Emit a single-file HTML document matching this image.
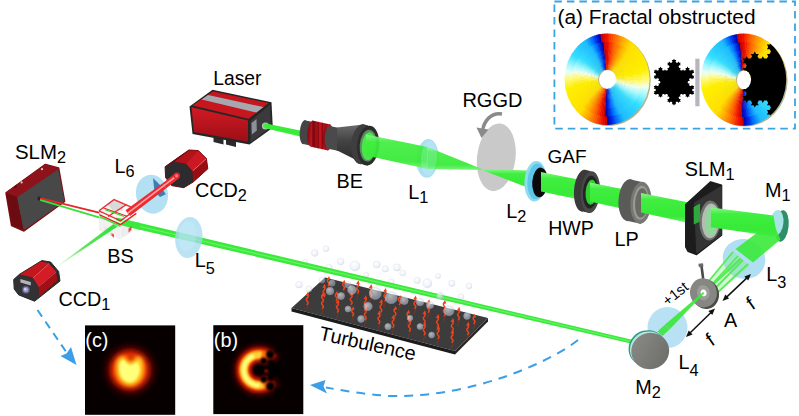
<!DOCTYPE html>
<html><head><meta charset="utf-8"><title>Setup</title>
<style>html,body{margin:0;padding:0;background:#fff}svg{display:block}</style></head><body>
<svg width="799" height="416" viewBox="0 0 799 416" font-family="'Liberation Sans', Arial, sans-serif">
<rect width="799" height="416" fill="#fff"/>
<defs>
<linearGradient id="gBeamW" x1="0" y1="0" x2="0" y2="1">
 <stop offset="0" stop-color="#88f788"/><stop offset="0.22" stop-color="#40ee40"/><stop offset="0.78" stop-color="#36ea36"/><stop offset="1" stop-color="#74f474"/>
</linearGradient>
<linearGradient id="gRed" x1="0" y1="0" x2="0" y2="1"><stop offset="0" stop-color="#d21a24"/><stop offset="1" stop-color="#9c0e16"/></linearGradient>
<linearGradient id="gRedH" x1="0" y1="0" x2="1" y2="0"><stop offset="0" stop-color="#7c0a10"/><stop offset="0.5" stop-color="#c8141e"/><stop offset="1" stop-color="#8c0c12"/></linearGradient>
<linearGradient id="gDark" x1="0" y1="0" x2="0" y2="1"><stop offset="0" stop-color="#6a6a6a"/><stop offset="0.4" stop-color="#444"/><stop offset="1" stop-color="#262626"/></linearGradient>
<linearGradient id="gGrey" x1="0" y1="0" x2="1" y2="1"><stop offset="0" stop-color="#8c8c88"/><stop offset="1" stop-color="#6a6a66"/></linearGradient>
<radialGradient id="gBub" cx="0.4" cy="0.35" r="0.7"><stop offset="0" stop-color="#ffffff" stop-opacity="0.9"/><stop offset="0.6" stop-color="#dfe6f2" stop-opacity="0.75"/><stop offset="1" stop-color="#9fb0cc" stop-opacity="0.85"/></radialGradient>
<radialGradient id="gLens" cx="0.5" cy="0.5" r="0.6"><stop offset="0" stop-color="#bfe6f6"/><stop offset="1" stop-color="#9fd4ee"/></radialGradient>
<filter id="b1" x="-50%" y="-50%" width="200%" height="200%"><feGaussianBlur stdDeviation="1"/></filter>
<filter id="b2" x="-50%" y="-50%" width="200%" height="200%"><feGaussianBlur stdDeviation="2"/></filter>
<filter id="b3" x="-50%" y="-50%" width="200%" height="200%"><feGaussianBlur stdDeviation="3.2"/></filter>
<filter id="b5" x="-50%" y="-50%" width="200%" height="200%"><feGaussianBlur stdDeviation="5"/></filter>
<filter id="b05" x="-20%" y="-20%" width="140%" height="140%"><feGaussianBlur stdDeviation="0.5"/></filter>
</defs>
<rect x="554.4" y="1.5" width="240.6" height="127.2" fill="none" stroke="#3aa4e0" stroke-width="1.8" stroke-dasharray="7.5 5"/>
<text x="557.5" y="24.2" font-size="20.5" textLength="198" lengthAdjust="spacingAndGlyphs" fill="#000">(a) Fractal obstructed</text>
<path d="M565.8,80.2 a42.5,45.7 0 1,0 85.0,0 a42.5,45.7 0 1,0 -85.0,0 Z M599,79.8 a9,9.7 0 1,1 18,0 a9,9.7 0 1,1 -18,0 Z" fill-rule="evenodd" fill="#8a8040" opacity="0.6"/>
<clipPath id="dcL"><path d="M564.5,79.2 a42.5,45.7 0 1,0 85.0,0 a42.5,45.7 0 1,0 -85.0,0 Z M598,79.2 a9,9.7 0 1,1 18,0 a9,9.7 0 1,1 -18,0 Z" clip-rule="evenodd"/></clipPath>
<g clip-path="url(#dcL)">
<path d="M607.0,79.2L607.0,79.2L608.0,63.7L607.0,63.7Z" fill="#f11600"/>
<path d="M607.0,79.2L607.0,79.2L608.7,63.8L607.8,63.7Z" fill="#f52b00"/>
<path d="M607.0,79.2L607.0,79.2L609.5,63.9L608.5,63.7Z" fill="#f94100"/>
<path d="M607.0,79.2L607.0,79.2L610.2,64.0L609.3,63.9Z" fill="#fd5600"/>
<path d="M607.0,79.2L607.0,79.2L610.9,64.2L610.0,64.0Z" fill="#ff6800"/>
<path d="M607.0,79.2L607.0,79.2L611.7,64.5L610.7,64.2Z" fill="#ff7900"/>
<path d="M607.0,79.2L607.0,79.2L612.4,64.8L611.5,64.4Z" fill="#ff8900"/>
<path d="M607.0,79.2L607.0,79.2L613.1,65.1L612.2,64.7Z" fill="#ff9900"/>
<path d="M607.0,79.2L607.0,79.2L613.7,65.5L612.9,65.0Z" fill="#ffa900"/>
<path d="M607.0,79.2L607.0,79.2L614.4,65.9L613.6,65.4Z" fill="#ffb600"/>
<path d="M607.0,79.2L607.0,79.2L615.0,66.3L614.2,65.7Z" fill="#ffc300"/>
<path d="M607.0,79.2L607.0,79.2L615.7,66.8L614.9,66.2Z" fill="#ffcf00"/>
<path d="M607.0,79.2L607.0,79.2L616.2,67.3L615.5,66.6Z" fill="#ffdc00"/>
<path d="M607.0,79.2L607.0,79.2L616.8,67.8L616.1,67.1Z" fill="#ffe100"/>
<path d="M607.0,79.2L607.0,79.2L617.4,68.4L616.7,67.7Z" fill="#ffe200"/>
<path d="M607.0,79.2L607.0,79.2L617.9,69.0L617.2,68.2Z" fill="#ffe300"/>
<path d="M607.0,79.2L607.0,79.2L618.4,69.6L617.7,68.8Z" fill="#ffe400"/>
<path d="M607.0,79.2L607.0,79.2L618.8,70.2L618.2,69.4Z" fill="#ffe600"/>
<path d="M607.0,79.2L607.0,79.2L619.2,70.9L618.7,70.1Z" fill="#ffe700"/>
<path d="M607.0,79.2L607.0,79.2L619.6,71.6L619.1,70.7Z" fill="#ffe800"/>
<path d="M607.0,79.2L607.0,79.2L620.0,72.3L619.5,71.4Z" fill="#ffe900"/>
<path d="M607.0,79.2L607.0,79.2L620.3,73.1L619.9,72.1Z" fill="#ffeb00"/>
<path d="M607.0,79.2L607.0,79.2L620.6,73.8L620.2,72.9Z" fill="#ffec00"/>
<path d="M607.0,79.2L607.0,79.2L620.8,74.6L620.5,73.6Z" fill="#ffed00"/>
<path d="M607.0,79.2L607.0,79.2L621.0,75.4L620.7,74.4Z" fill="#ffee00"/>
<path d="M607.0,79.2L607.0,79.2L621.2,76.2L621.0,75.2Z" fill="#ffef00"/>
<path d="M607.0,79.2L607.0,79.2L621.3,77.0L621.1,76.0Z" fill="#fff10c"/>
<path d="M607.0,79.2L607.0,79.2L621.4,77.8L621.3,76.8Z" fill="#fff325"/>
<path d="M607.0,79.2L607.0,79.2L621.4,78.6L621.4,77.6Z" fill="#fff53f"/>
<path d="M607.0,79.2L607.0,79.2L621.4,79.4L621.4,78.4Z" fill="#fff758"/>
<path d="M607.0,79.2L607.0,79.2L621.4,80.2L621.5,79.2Z" fill="#fff971"/>
<path d="M607.0,79.2L607.0,79.2L621.3,81.0L621.4,80.0Z" fill="#fdfb8f"/>
<path d="M607.0,79.2L607.0,79.2L621.2,81.8L621.4,80.8Z" fill="#f8fcb3"/>
<path d="M607.0,79.2L607.0,79.2L621.1,82.6L621.3,81.6Z" fill="#f3fed6"/>
<path d="M607.0,79.2L607.0,79.2L620.9,83.4L621.1,82.4Z" fill="#eafef1"/>
<path d="M607.0,79.2L607.0,79.2L620.7,84.2L621.0,83.2Z" fill="#d5fdf5"/>
<path d="M607.0,79.2L607.0,79.2L620.4,85.0L620.7,84.0Z" fill="#c0fbf9"/>
<path d="M607.0,79.2L607.0,79.2L620.1,85.7L620.5,84.8Z" fill="#abf9fd"/>
<path d="M607.0,79.2L607.0,79.2L619.8,86.4L620.2,85.5Z" fill="#95f5ff"/>
<path d="M607.0,79.2L607.0,79.2L619.4,87.2L619.9,86.3Z" fill="#80f0ff"/>
<path d="M607.0,79.2L607.0,79.2L619.0,87.8L619.5,87.0Z" fill="#6aebff"/>
<path d="M607.0,79.2L607.0,79.2L618.6,88.5L619.1,87.7Z" fill="#55e6ff"/>
<path d="M607.0,79.2L607.0,79.2L618.1,89.1L618.7,88.3Z" fill="#40e1ff"/>
<path d="M607.0,79.2L607.0,79.2L617.6,89.8L618.2,89.0Z" fill="#33dcff"/>
<path d="M607.0,79.2L607.0,79.2L617.1,90.3L617.7,89.6Z" fill="#30d9ff"/>
<path d="M607.0,79.2L607.0,79.2L616.5,90.9L617.2,90.2Z" fill="#2ed5ff"/>
<path d="M607.0,79.2L607.0,79.2L615.9,91.4L616.7,90.7Z" fill="#2bd2ff"/>
<path d="M607.0,79.2L607.0,79.2L615.3,91.9L616.1,91.3Z" fill="#29ceff"/>
<path d="M607.0,79.2L607.0,79.2L614.7,92.3L615.5,91.8Z" fill="#26caff"/>
<path d="M607.0,79.2L607.0,79.2L614.0,92.8L614.9,92.2Z" fill="#24c7ff"/>
<path d="M607.0,79.2L607.0,79.2L613.4,93.1L614.2,92.7Z" fill="#21c3ff"/>
<path d="M607.0,79.2L607.0,79.2L612.7,93.5L613.6,93.0Z" fill="#1fc0ff"/>
<path d="M607.0,79.2L607.0,79.2L612.0,93.8L612.9,93.4Z" fill="#1cbcff"/>
<path d="M607.0,79.2L607.0,79.2L611.3,94.0L612.2,93.7Z" fill="#14a6ff"/>
<path d="M607.0,79.2L607.0,79.2L610.5,94.3L611.5,94.0Z" fill="#0c90ff"/>
<path d="M607.0,79.2L607.0,79.2L609.8,94.4L610.7,94.2Z" fill="#047aff"/>
<path d="M607.0,79.2L607.0,79.2L609.1,94.6L610.0,94.4Z" fill="#005ff8"/>
<path d="M607.0,79.2L607.0,79.2L608.3,94.7L609.3,94.5Z" fill="#003fec"/>
<path d="M607.0,79.2L607.0,79.2L607.6,94.7L608.5,94.7Z" fill="#0020df"/>
<path d="M607.0,79.2L607.0,79.2L606.8,94.7L607.8,94.7Z" fill="#0011c2"/>
<path d="M607.0,79.2L607.0,79.2L606.0,94.7L607.0,94.7Z" fill="#0003a5"/>
<path d="M607.0,79.2L607.0,79.2L605.3,94.6L606.2,94.7Z" fill="#d10600"/>
<path d="M607.0,79.2L607.0,79.2L604.5,94.5L605.5,94.7Z" fill="#e60d00"/>
<path d="M607.0,79.2L607.0,79.2L603.8,94.4L604.7,94.5Z" fill="#f21d00"/>
<path d="M607.0,79.2L607.0,79.2L603.1,94.2L604.0,94.4Z" fill="#f73400"/>
<path d="M607.0,79.2L607.0,79.2L602.3,93.9L603.3,94.2Z" fill="#fb4b00"/>
<path d="M607.0,79.2L607.0,79.2L601.6,93.6L602.5,94.0Z" fill="#ff6200"/>
<path d="M607.0,79.2L607.0,79.2L600.9,93.3L601.8,93.7Z" fill="#ff7400"/>
<path d="M607.0,79.2L607.0,79.2L600.3,92.9L601.1,93.4Z" fill="#ff8600"/>
<path d="M607.0,79.2L607.0,79.2L599.6,92.5L600.4,93.0Z" fill="#ff9800"/>
<path d="M607.0,79.2L607.0,79.2L599.0,92.1L599.8,92.7Z" fill="#ffaa00"/>
<path d="M607.0,79.2L607.0,79.2L598.3,91.6L599.1,92.2Z" fill="#ffb800"/>
<path d="M607.0,79.2L607.0,79.2L597.8,91.1L598.5,91.8Z" fill="#ffc600"/>
<path d="M607.0,79.2L607.0,79.2L597.2,90.6L597.9,91.3Z" fill="#ffd400"/>
<path d="M607.0,79.2L607.0,79.2L596.6,90.0L597.3,90.7Z" fill="#ffe000"/>
<path d="M607.0,79.2L607.0,79.2L596.1,89.4L596.8,90.2Z" fill="#ffe200"/>
<path d="M607.0,79.2L607.0,79.2L595.6,88.8L596.3,89.6Z" fill="#ffe300"/>
<path d="M607.0,79.2L607.0,79.2L595.2,88.2L595.8,89.0Z" fill="#ffe400"/>
<path d="M607.0,79.2L607.0,79.2L594.8,87.5L595.3,88.3Z" fill="#ffe600"/>
<path d="M607.0,79.2L607.0,79.2L594.4,86.8L594.9,87.7Z" fill="#ffe700"/>
<path d="M607.0,79.2L607.0,79.2L594.0,86.1L594.5,87.0Z" fill="#ffe800"/>
<path d="M607.0,79.2L607.0,79.2L593.7,85.3L594.1,86.3Z" fill="#ffea00"/>
<path d="M607.0,79.2L607.0,79.2L593.4,84.6L593.8,85.5Z" fill="#ffeb00"/>
<path d="M607.0,79.2L607.0,79.2L593.2,83.8L593.5,84.8Z" fill="#ffec00"/>
<path d="M607.0,79.2L607.0,79.2L593.0,83.0L593.3,84.0Z" fill="#ffee00"/>
<path d="M607.0,79.2L607.0,79.2L592.8,82.2L593.0,83.2Z" fill="#ffef00"/>
<path d="M607.0,79.2L607.0,79.2L592.7,81.4L592.9,82.4Z" fill="#fff005"/>
<path d="M607.0,79.2L607.0,79.2L592.6,80.6L592.7,81.6Z" fill="#fff321"/>
<path d="M607.0,79.2L607.0,79.2L592.6,79.8L592.6,80.8Z" fill="#fff53d"/>
<path d="M607.0,79.2L607.0,79.2L592.6,79.0L592.6,80.0Z" fill="#fff759"/>
<path d="M607.0,79.2L607.0,79.2L592.6,78.2L592.5,79.2Z" fill="#fff975"/>
<path d="M607.0,79.2L607.0,79.2L592.7,77.4L592.6,78.4Z" fill="#fcfb98"/>
<path d="M607.0,79.2L607.0,79.2L592.8,76.6L592.6,77.6Z" fill="#f7fdbf"/>
<path d="M607.0,79.2L607.0,79.2L592.9,75.8L592.7,76.8Z" fill="#f1ffe7"/>
<path d="M607.0,79.2L607.0,79.2L593.1,75.0L592.9,76.0Z" fill="#defdf3"/>
<path d="M607.0,79.2L607.0,79.2L593.3,74.2L593.0,75.2Z" fill="#c7fbf8"/>
<path d="M607.0,79.2L607.0,79.2L593.6,73.4L593.3,74.4Z" fill="#aff9fc"/>
<path d="M607.0,79.2L607.0,79.2L593.9,72.7L593.5,73.6Z" fill="#98f6ff"/>
<path d="M607.0,79.2L607.0,79.2L594.2,72.0L593.8,72.9Z" fill="#80f0ff"/>
<path d="M607.0,79.2L607.0,79.2L594.6,71.2L594.1,72.1Z" fill="#69ebff"/>
<path d="M607.0,79.2L607.0,79.2L595.0,70.6L594.5,71.4Z" fill="#51e5ff"/>
<path d="M607.0,79.2L607.0,79.2L595.4,69.9L594.9,70.7Z" fill="#39dfff"/>
<path d="M607.0,79.2L607.0,79.2L595.9,69.3L595.3,70.1Z" fill="#32dbff"/>
<path d="M607.0,79.2L607.0,79.2L596.4,68.6L595.8,69.4Z" fill="#2fd7ff"/>
<path d="M607.0,79.2L607.0,79.2L596.9,68.1L596.3,68.8Z" fill="#2cd3ff"/>
<path d="M607.0,79.2L607.0,79.2L597.5,67.5L596.8,68.2Z" fill="#29cfff"/>
<path d="M607.0,79.2L607.0,79.2L598.1,67.0L597.3,67.7Z" fill="#27cbff"/>
<path d="M607.0,79.2L607.0,79.2L598.7,66.5L597.9,67.1Z" fill="#24c7ff"/>
<path d="M607.0,79.2L607.0,79.2L599.3,66.1L598.5,66.6Z" fill="#21c3ff"/>
<path d="M607.0,79.2L607.0,79.2L600.0,65.6L599.1,66.2Z" fill="#1ebfff"/>
<path d="M607.0,79.2L607.0,79.2L600.6,65.3L599.8,65.7Z" fill="#1ab6ff"/>
<path d="M607.0,79.2L607.0,79.2L601.3,64.9L600.4,65.4Z" fill="#119eff"/>
<path d="M607.0,79.2L607.0,79.2L602.0,64.6L601.1,65.0Z" fill="#0886ff"/>
<path d="M607.0,79.2L607.0,79.2L602.7,64.4L601.8,64.7Z" fill="#006dfe"/>
<path d="M607.0,79.2L607.0,79.2L603.5,64.1L602.5,64.4Z" fill="#004af0"/>
<path d="M607.0,79.2L607.0,79.2L604.2,64.0L603.3,64.2Z" fill="#0027e3"/>
<path d="M607.0,79.2L607.0,79.2L604.9,63.8L604.0,64.0Z" fill="#0013c6"/>
<path d="M607.0,79.2L607.0,79.2L605.7,63.7L604.7,63.9Z" fill="#0003a6"/>
<path d="M607.0,79.2L607.0,79.2L606.4,63.7L605.5,63.7Z" fill="#d00500"/>
<path d="M607.0,79.2L607.0,79.2L607.2,63.7L606.2,63.7Z" fill="#e30c00"/>
<path d="M607.0,64.1L607.9,64.2L608.4,56.4L607.0,56.4Z" fill="#e70d00"/>
<path d="M607.7,64.1L608.7,64.2L609.5,56.5L608.1,56.4Z" fill="#f21b00"/>
<path d="M608.5,64.2L609.4,64.3L610.6,56.7L609.2,56.5Z" fill="#f63000"/>
<path d="M609.2,64.3L610.1,64.5L611.7,56.9L610.3,56.6Z" fill="#fa4600"/>
<path d="M609.9,64.5L610.8,64.7L612.8,57.2L611.4,56.8Z" fill="#fe5b00"/>
<path d="M610.6,64.6L611.5,64.9L613.8,57.6L612.5,57.1Z" fill="#ff6c00"/>
<path d="M611.3,64.9L612.2,65.2L614.9,58.0L613.6,57.5Z" fill="#ff7d00"/>
<path d="M612.0,65.1L612.9,65.5L615.9,58.5L614.6,57.9Z" fill="#ff8d00"/>
<path d="M612.7,65.4L613.5,65.9L616.9,59.0L615.6,58.3Z" fill="#ff9d00"/>
<path d="M613.4,65.8L614.2,66.3L617.9,59.6L616.6,58.8Z" fill="#ffac00"/>
<path d="M614.0,66.1L614.8,66.7L618.8,60.2L617.6,59.4Z" fill="#ffb900"/>
<path d="M614.6,66.6L615.4,67.1L619.7,60.9L618.6,60.0Z" fill="#ffc600"/>
<path d="M615.2,67.0L616.0,67.6L620.6,61.6L619.5,60.7Z" fill="#ffd200"/>
<path d="M615.8,67.5L616.5,68.1L621.4,62.4L620.4,61.4Z" fill="#ffdf00"/>
<path d="M616.4,68.0L617.0,68.7L622.2,63.3L621.2,62.2Z" fill="#ffe100"/>
<path d="M616.9,68.5L617.5,69.3L623.0,64.1L622.0,63.0Z" fill="#ffe200"/>
<path d="M617.4,69.1L618.0,69.9L623.7,65.1L622.8,63.9Z" fill="#ffe400"/>
<path d="M617.9,69.7L618.5,70.5L624.4,66.0L623.5,64.8Z" fill="#ffe500"/>
<path d="M618.3,70.3L618.9,71.2L625.0,67.0L624.2,65.8Z" fill="#ffe600"/>
<path d="M618.8,71.0L619.2,71.8L625.5,68.1L624.8,66.8Z" fill="#ffe700"/>
<path d="M619.1,71.7L619.6,72.5L626.1,69.1L625.4,67.8Z" fill="#ffe800"/>
<path d="M619.5,72.4L619.9,73.3L626.5,70.2L625.9,68.8Z" fill="#ffea00"/>
<path d="M619.8,73.1L620.2,74.0L626.9,71.3L626.4,69.9Z" fill="#ffeb00"/>
<path d="M620.1,73.8L620.4,74.7L627.3,72.4L626.8,71.0Z" fill="#ffec00"/>
<path d="M620.3,74.5L620.6,75.5L627.6,73.6L627.2,72.1Z" fill="#ffed00"/>
<path d="M620.5,75.3L620.7,76.3L627.8,74.8L627.5,73.3Z" fill="#ffee00"/>
<path d="M620.7,76.1L620.9,77.1L628.0,75.9L627.8,74.4Z" fill="#fff000"/>
<path d="M620.8,76.8L621.0,77.8L628.2,77.1L628.0,75.6Z" fill="#fff112"/>
<path d="M620.9,77.6L621.0,78.6L628.2,78.3L628.1,76.8Z" fill="#fff32b"/>
<path d="M621.0,78.4L621.0,79.4L628.2,79.5L628.2,78.0Z" fill="#fff545"/>
<path d="M621.0,79.2L621.0,80.2L628.2,80.7L628.2,79.2Z" fill="#fff75e"/>
<path d="M621.0,80.0L620.9,81.0L628.1,81.9L628.2,80.4Z" fill="#fff977"/>
<path d="M620.9,80.8L620.8,81.8L627.9,83.1L628.1,81.6Z" fill="#fcfb98"/>
<path d="M620.8,81.6L620.7,82.5L627.7,84.3L628.0,82.8Z" fill="#f7fdbb"/>
<path d="M620.7,82.3L620.5,83.3L627.4,85.4L627.8,84.0Z" fill="#f2fedf"/>
<path d="M620.5,83.1L620.3,84.1L627.1,86.6L627.5,85.1Z" fill="#e5fef2"/>
<path d="M620.3,83.9L620.0,84.8L626.7,87.7L627.2,86.3Z" fill="#d0fcf6"/>
<path d="M620.1,84.6L619.7,85.5L626.3,88.8L626.8,87.4Z" fill="#bbfafa"/>
<path d="M619.8,85.3L619.4,86.2L625.8,89.9L626.4,88.5Z" fill="#a6f8fe"/>
<path d="M619.5,86.0L619.0,86.9L625.3,90.9L625.9,89.6Z" fill="#90f4ff"/>
<path d="M619.1,86.7L618.6,87.6L624.7,91.9L625.4,90.6Z" fill="#7befff"/>
<path d="M618.8,87.4L618.2,88.2L624.0,92.9L624.8,91.6Z" fill="#65eaff"/>
<path d="M618.3,88.1L617.8,88.8L623.3,93.8L624.2,92.6Z" fill="#50e5ff"/>
<path d="M617.9,88.7L617.3,89.4L622.6,94.7L623.5,93.6Z" fill="#3be0ff"/>
<path d="M617.4,89.3L616.8,90.0L621.8,95.6L622.8,94.5Z" fill="#32dcff"/>
<path d="M616.9,89.9L616.2,90.5L621.0,96.4L622.0,95.4Z" fill="#30d8ff"/>
<path d="M616.4,90.4L615.7,91.0L620.1,97.2L621.2,96.2Z" fill="#2dd4ff"/>
<path d="M615.8,90.9L615.1,91.5L619.2,97.9L620.4,97.0Z" fill="#2bd1ff"/>
<path d="M615.2,91.4L614.5,92.0L618.3,98.5L619.5,97.7Z" fill="#28cdff"/>
<path d="M614.6,91.8L613.8,92.4L617.4,99.1L618.6,98.4Z" fill="#26caff"/>
<path d="M614.0,92.3L613.2,92.7L616.4,99.7L617.6,99.0Z" fill="#23c6ff"/>
<path d="M613.4,92.6L612.5,93.1L615.4,100.2L616.6,99.6Z" fill="#20c2ff"/>
<path d="M612.7,93.0L611.8,93.3L614.3,100.6L615.6,100.1Z" fill="#1ebfff"/>
<path d="M612.0,93.3L611.1,93.6L613.3,101.0L614.6,100.5Z" fill="#1ab7ff"/>
<path d="M611.3,93.5L610.4,93.8L612.2,101.4L613.6,100.9Z" fill="#12a1ff"/>
<path d="M610.6,93.8L609.7,94.0L611.1,101.6L612.5,101.3Z" fill="#0a8bff"/>
<path d="M609.9,93.9L609.0,94.1L610.0,101.8L611.4,101.6Z" fill="#0275ff"/>
<path d="M609.2,94.1L608.3,94.2L608.9,102.0L610.3,101.8Z" fill="#0057f5"/>
<path d="M608.5,94.2L607.5,94.3L607.8,102.0L609.2,101.9Z" fill="#0038e9"/>
<path d="M607.7,94.3L606.8,94.3L606.7,102.0L608.1,102.0Z" fill="#001cd9"/>
<path d="M607.0,94.3L606.1,94.2L605.6,102.0L607.0,102.1Z" fill="#000ebc"/>
<path d="M606.3,94.3L605.3,94.2L604.5,101.9L605.9,102.0Z" fill="#c10000"/>
<path d="M605.5,94.2L604.6,94.1L603.4,101.7L604.8,101.9Z" fill="#d60700"/>
<path d="M604.8,94.1L603.9,93.9L602.3,101.5L603.7,101.8Z" fill="#eb0e00"/>
<path d="M604.1,93.9L603.2,93.7L601.2,101.2L602.6,101.6Z" fill="#f32200"/>
<path d="M603.4,93.8L602.5,93.5L600.2,100.8L601.5,101.3Z" fill="#f83900"/>
<path d="M602.7,93.5L601.8,93.2L599.1,100.4L600.4,100.9Z" fill="#fc5100"/>
<path d="M602.0,93.3L601.1,92.9L598.1,99.9L599.4,100.5Z" fill="#ff6600"/>
<path d="M601.3,93.0L600.5,92.5L597.1,99.4L598.4,100.1Z" fill="#ff7800"/>
<path d="M600.6,92.6L599.8,92.1L596.1,98.8L597.4,99.6Z" fill="#ff8a00"/>
<path d="M600.0,92.3L599.2,91.7L595.2,98.2L596.4,99.0Z" fill="#ff9c00"/>
<path d="M599.4,91.8L598.6,91.3L594.3,97.5L595.4,98.4Z" fill="#ffad00"/>
<path d="M598.8,91.4L598.0,90.8L593.4,96.8L594.5,97.7Z" fill="#ffbb00"/>
<path d="M598.2,90.9L597.5,90.3L592.6,96.0L593.6,97.0Z" fill="#ffc900"/>
<path d="M597.6,90.4L597.0,89.7L591.8,95.1L592.8,96.2Z" fill="#ffd700"/>
<path d="M597.1,89.9L596.5,89.1L591.0,94.3L592.0,95.4Z" fill="#ffe000"/>
<path d="M596.6,89.3L596.0,88.5L590.3,93.3L591.2,94.5Z" fill="#ffe200"/>
<path d="M596.1,88.7L595.5,87.9L589.6,92.4L590.5,93.6Z" fill="#ffe300"/>
<path d="M595.7,88.1L595.1,87.2L589.0,91.4L589.8,92.6Z" fill="#ffe500"/>
<path d="M595.2,87.4L594.8,86.6L588.5,90.3L589.2,91.6Z" fill="#ffe600"/>
<path d="M594.9,86.7L594.4,85.9L587.9,89.3L588.6,90.6Z" fill="#ffe700"/>
<path d="M594.5,86.0L594.1,85.1L587.5,88.2L588.1,89.6Z" fill="#ffe900"/>
<path d="M594.2,85.3L593.8,84.4L587.1,87.1L587.6,88.5Z" fill="#ffea00"/>
<path d="M593.9,84.6L593.6,83.7L586.7,86.0L587.2,87.4Z" fill="#ffeb00"/>
<path d="M593.7,83.9L593.4,82.9L586.4,84.8L586.8,86.3Z" fill="#ffed00"/>
<path d="M593.5,83.1L593.3,82.1L586.2,83.6L586.5,85.1Z" fill="#ffee00"/>
<path d="M593.3,82.3L593.1,81.3L586.0,82.5L586.2,84.0Z" fill="#ffef00"/>
<path d="M593.2,81.6L593.0,80.6L585.8,81.3L586.0,82.8Z" fill="#fff10b"/>
<path d="M593.1,80.8L593.0,79.8L585.8,80.1L585.9,81.6Z" fill="#fff327"/>
<path d="M593.0,80.0L593.0,79.0L585.8,78.9L585.8,80.4Z" fill="#fff543"/>
<path d="M593.0,79.2L593.0,78.2L585.8,77.7L585.8,79.2Z" fill="#fff760"/>
<path d="M593.0,78.4L593.1,77.4L585.9,76.5L585.8,78.0Z" fill="#fffa7c"/>
<path d="M593.1,77.6L593.2,76.6L586.1,75.3L585.9,76.8Z" fill="#fbfba1"/>
<path d="M593.2,76.8L593.3,75.9L586.3,74.1L586.0,75.6Z" fill="#f5fdc8"/>
<path d="M593.3,76.1L593.5,75.1L586.6,73.0L586.2,74.4Z" fill="#f0fff0"/>
<path d="M593.5,75.3L593.7,74.3L586.9,71.8L586.5,73.3Z" fill="#d9fdf4"/>
<path d="M593.7,74.5L594.0,73.6L587.3,70.7L586.8,72.1Z" fill="#c1fbf9"/>
<path d="M593.9,73.8L594.3,72.9L587.7,69.6L587.2,71.0Z" fill="#aaf9fd"/>
<path d="M594.2,73.1L594.6,72.2L588.2,68.5L587.6,69.9Z" fill="#92f5ff"/>
<path d="M594.5,72.4L595.0,71.5L588.7,67.5L588.1,68.8Z" fill="#7befff"/>
<path d="M594.9,71.7L595.4,70.8L589.3,66.5L588.6,67.8Z" fill="#63e9ff"/>
<path d="M595.2,71.0L595.8,70.2L590.0,65.5L589.2,66.8Z" fill="#4be4ff"/>
<path d="M595.7,70.3L596.2,69.6L590.7,64.6L589.8,65.8Z" fill="#34deff"/>
<path d="M596.1,69.7L596.7,69.0L591.4,63.7L590.5,64.8Z" fill="#31daff"/>
<path d="M596.6,69.1L597.2,68.4L592.2,62.8L591.2,63.9Z" fill="#2ed6ff"/>
<path d="M597.1,68.5L597.8,67.9L593.0,62.0L592.0,63.0Z" fill="#2cd2ff"/>
<path d="M597.6,68.0L598.3,67.4L593.9,61.2L592.8,62.2Z" fill="#29ceff"/>
<path d="M598.2,67.5L598.9,66.9L594.8,60.5L593.6,61.4Z" fill="#26caff"/>
<path d="M598.8,67.0L599.5,66.4L595.7,59.9L594.5,60.7Z" fill="#23c6ff"/>
<path d="M599.4,66.6L600.2,66.0L596.6,59.3L595.4,60.0Z" fill="#20c2ff"/>
<path d="M600.0,66.1L600.8,65.7L597.6,58.7L596.4,59.4Z" fill="#1ebeff"/>
<path d="M600.6,65.8L601.5,65.3L598.6,58.2L597.4,58.8Z" fill="#18b1ff"/>
<path d="M601.3,65.4L602.2,65.1L599.7,57.8L598.4,58.3Z" fill="#0f99ff"/>
<path d="M602.0,65.1L602.9,64.8L600.7,57.4L599.4,57.9Z" fill="#0680ff"/>
<path d="M602.7,64.9L603.6,64.6L601.8,57.0L600.4,57.5Z" fill="#0065fb"/>
<path d="M603.4,64.6L604.3,64.4L602.9,56.8L601.5,57.1Z" fill="#0041ed"/>
<path d="M604.1,64.5L605.0,64.3L604.0,56.6L602.6,56.8Z" fill="#001fde"/>
<path d="M604.8,64.3L605.7,64.2L605.1,56.4L603.7,56.6Z" fill="#000fbe"/>
<path d="M605.5,64.2L606.5,64.1L606.2,56.4L604.8,56.5Z" fill="#c10000"/>
<path d="M606.3,64.1L607.2,64.1L607.3,56.4L605.9,56.4Z" fill="#d40700"/>
<path d="M607.0,57.0L608.4,57.1L608.9,49.1L607.0,49.0Z" fill="#e70d00"/>
<path d="M608.1,57.1L609.4,57.2L610.3,49.3L608.5,49.1Z" fill="#f21b00"/>
<path d="M609.2,57.2L610.5,57.4L611.8,49.5L609.9,49.2Z" fill="#f63000"/>
<path d="M610.2,57.3L611.6,57.6L613.2,49.8L611.4,49.4Z" fill="#fa4600"/>
<path d="M611.3,57.5L612.6,57.9L614.6,50.2L612.8,49.7Z" fill="#fe5b00"/>
<path d="M612.3,57.8L613.6,58.2L616.0,50.6L614.3,50.1Z" fill="#ff6c00"/>
<path d="M613.4,58.1L614.7,58.6L617.4,51.2L615.7,50.5Z" fill="#ff7d00"/>
<path d="M614.4,58.5L615.6,59.1L618.8,51.8L617.1,51.0Z" fill="#ff8d00"/>
<path d="M615.4,59.0L616.6,59.6L620.1,52.5L618.4,51.6Z" fill="#ff9d00"/>
<path d="M616.4,59.5L617.6,60.2L621.4,53.3L619.7,52.3Z" fill="#ffac00"/>
<path d="M617.3,60.0L618.5,60.8L622.6,54.1L621.0,53.1Z" fill="#ffb900"/>
<path d="M618.2,60.6L619.3,61.5L623.8,55.0L622.3,53.9Z" fill="#ffc600"/>
<path d="M619.1,61.3L620.2,62.2L625.0,56.0L623.5,54.8Z" fill="#ffd200"/>
<path d="M620.0,62.0L621.0,62.9L626.1,57.1L624.7,55.8Z" fill="#ffdf00"/>
<path d="M620.8,62.7L621.8,63.7L627.1,58.2L625.8,56.8Z" fill="#ffe100"/>
<path d="M621.6,63.5L622.5,64.6L628.1,59.3L626.8,57.9Z" fill="#ffe200"/>
<path d="M622.3,64.4L623.2,65.5L629.0,60.5L627.8,59.0Z" fill="#ffe400"/>
<path d="M623.0,65.3L623.8,66.4L629.9,61.8L628.8,60.2Z" fill="#ffe500"/>
<path d="M623.7,66.2L624.4,67.4L630.7,63.1L629.7,61.5Z" fill="#ffe600"/>
<path d="M624.3,67.1L625.0,68.4L631.5,64.5L630.5,62.8Z" fill="#ffe700"/>
<path d="M624.9,68.1L625.5,69.4L632.2,65.9L631.3,64.1Z" fill="#ffe800"/>
<path d="M625.4,69.1L625.9,70.5L632.8,67.3L632.0,65.5Z" fill="#ffea00"/>
<path d="M625.8,70.2L626.3,71.5L633.3,68.8L632.6,66.9Z" fill="#ffeb00"/>
<path d="M626.2,71.3L626.7,72.6L633.8,70.3L633.2,68.4Z" fill="#ffec00"/>
<path d="M626.6,72.4L627.0,73.8L634.2,71.8L633.7,69.9Z" fill="#ffed00"/>
<path d="M626.9,73.5L627.2,74.9L634.5,73.3L634.1,71.4Z" fill="#ffee00"/>
<path d="M627.2,74.6L627.4,76.0L634.8,74.9L634.4,72.9Z" fill="#fff000"/>
<path d="M627.4,75.7L627.5,77.2L634.9,76.5L634.7,74.5Z" fill="#fff112"/>
<path d="M627.5,76.9L627.6,78.3L635.0,78.0L634.9,76.0Z" fill="#fff32b"/>
<path d="M627.6,78.0L627.6,79.5L635.0,79.6L635.0,77.6Z" fill="#fff545"/>
<path d="M627.6,79.2L627.6,80.7L635.0,81.2L635.0,79.2Z" fill="#fff75e"/>
<path d="M627.6,80.4L627.5,81.8L634.9,82.8L635.0,80.8Z" fill="#fff977"/>
<path d="M627.5,81.5L627.3,83.0L634.6,84.3L634.9,82.4Z" fill="#fcfb98"/>
<path d="M627.4,82.7L627.1,84.1L634.4,85.9L634.7,83.9Z" fill="#f7fdbb"/>
<path d="M627.2,83.8L626.8,85.2L634.0,87.4L634.4,85.5Z" fill="#f2fedf"/>
<path d="M626.9,84.9L626.5,86.3L633.6,88.9L634.1,87.0Z" fill="#e5fef2"/>
<path d="M626.6,86.0L626.1,87.4L633.0,90.4L633.7,88.5Z" fill="#d0fcf6"/>
<path d="M626.2,87.1L625.7,88.5L632.5,91.9L633.2,90.0Z" fill="#bbfafa"/>
<path d="M625.8,88.2L625.2,89.5L631.8,93.3L632.6,91.5Z" fill="#a6f8fe"/>
<path d="M625.4,89.3L624.7,90.5L631.1,94.6L632.0,92.9Z" fill="#90f4ff"/>
<path d="M624.9,90.3L624.1,91.5L630.3,96.0L631.3,94.3Z" fill="#7befff"/>
<path d="M624.3,91.3L623.5,92.5L629.5,97.3L630.5,95.6Z" fill="#65eaff"/>
<path d="M623.7,92.2L622.8,93.4L628.6,98.5L629.7,96.9Z" fill="#50e5ff"/>
<path d="M623.0,93.1L622.1,94.3L627.6,99.7L628.8,98.2Z" fill="#3be0ff"/>
<path d="M622.3,94.0L621.4,95.1L626.6,100.8L627.8,99.4Z" fill="#32dcff"/>
<path d="M621.6,94.9L620.6,95.9L625.5,101.9L626.8,100.5Z" fill="#30d8ff"/>
<path d="M620.8,95.7L619.7,96.6L624.3,102.9L625.8,101.6Z" fill="#2dd4ff"/>
<path d="M620.0,96.4L618.9,97.3L623.2,103.8L624.7,102.6Z" fill="#2bd1ff"/>
<path d="M619.1,97.1L618.0,98.0L621.9,104.7L623.5,103.6Z" fill="#28cdff"/>
<path d="M618.2,97.8L617.1,98.5L620.7,105.5L622.3,104.5Z" fill="#26caff"/>
<path d="M617.3,98.4L616.1,99.1L619.4,106.3L621.0,105.3Z" fill="#23c6ff"/>
<path d="M616.4,98.9L615.1,99.6L618.1,106.9L619.7,106.1Z" fill="#20c2ff"/>
<path d="M615.4,99.4L614.1,100.0L616.7,107.5L618.4,106.8Z" fill="#1ebfff"/>
<path d="M614.4,99.9L613.1,100.4L615.3,108.0L617.1,107.4Z" fill="#1ab7ff"/>
<path d="M613.4,100.3L612.1,100.7L613.9,108.4L615.7,107.9Z" fill="#12a1ff"/>
<path d="M612.3,100.6L611.0,100.9L612.4,108.8L614.3,108.3Z" fill="#0a8bff"/>
<path d="M611.3,100.9L609.9,101.1L611.0,109.1L612.8,108.7Z" fill="#0275ff"/>
<path d="M610.2,101.1L608.9,101.3L609.5,109.2L611.4,109.0Z" fill="#0057f5"/>
<path d="M609.2,101.2L607.8,101.3L608.1,109.3L609.9,109.2Z" fill="#0038e9"/>
<path d="M608.1,101.3L606.7,101.4L606.6,109.4L608.5,109.3Z" fill="#001cd9"/>
<path d="M607.0,101.4L605.6,101.3L605.1,109.3L607.0,109.4Z" fill="#000ebc"/>
<path d="M605.9,101.3L604.6,101.2L603.7,109.1L605.5,109.3Z" fill="#c10000"/>
<path d="M604.8,101.2L603.5,101.0L602.2,108.9L604.1,109.2Z" fill="#d60700"/>
<path d="M603.8,101.1L602.4,100.8L600.8,108.6L602.6,109.0Z" fill="#eb0e00"/>
<path d="M602.7,100.9L601.4,100.5L599.4,108.2L601.2,108.7Z" fill="#f32200"/>
<path d="M601.7,100.6L600.4,100.2L598.0,107.8L599.7,108.3Z" fill="#f83900"/>
<path d="M600.6,100.3L599.3,99.8L596.6,107.2L598.3,107.9Z" fill="#fc5100"/>
<path d="M599.6,99.9L598.4,99.3L595.2,106.6L596.9,107.4Z" fill="#ff6600"/>
<path d="M598.6,99.4L597.4,98.8L593.9,105.9L595.6,106.8Z" fill="#ff7800"/>
<path d="M597.6,98.9L596.4,98.2L592.6,105.1L594.3,106.1Z" fill="#ff8a00"/>
<path d="M596.7,98.4L595.5,97.6L591.4,104.3L593.0,105.3Z" fill="#ff9c00"/>
<path d="M595.8,97.8L594.7,96.9L590.2,103.4L591.7,104.5Z" fill="#ffad00"/>
<path d="M594.9,97.1L593.8,96.2L589.0,102.4L590.5,103.6Z" fill="#ffbb00"/>
<path d="M594.0,96.4L593.0,95.5L587.9,101.3L589.3,102.6Z" fill="#ffc900"/>
<path d="M593.2,95.7L592.2,94.7L586.9,100.2L588.2,101.6Z" fill="#ffd700"/>
<path d="M592.4,94.9L591.5,93.8L585.9,99.1L587.2,100.5Z" fill="#ffe000"/>
<path d="M591.7,94.0L590.8,92.9L585.0,97.9L586.2,99.4Z" fill="#ffe200"/>
<path d="M591.0,93.1L590.2,92.0L584.1,96.6L585.2,98.2Z" fill="#ffe300"/>
<path d="M590.3,92.2L589.6,91.0L583.3,95.3L584.3,96.9Z" fill="#ffe500"/>
<path d="M589.7,91.3L589.0,90.0L582.5,93.9L583.5,95.6Z" fill="#ffe600"/>
<path d="M589.1,90.3L588.5,89.0L581.8,92.5L582.7,94.3Z" fill="#ffe700"/>
<path d="M588.6,89.3L588.1,87.9L581.2,91.1L582.0,92.9Z" fill="#ffe900"/>
<path d="M588.2,88.2L587.7,86.9L580.7,89.6L581.4,91.5Z" fill="#ffea00"/>
<path d="M587.8,87.1L587.3,85.8L580.2,88.1L580.8,90.0Z" fill="#ffeb00"/>
<path d="M587.4,86.0L587.0,84.6L579.8,86.6L580.3,88.5Z" fill="#ffed00"/>
<path d="M587.1,84.9L586.8,83.5L579.5,85.1L579.9,87.0Z" fill="#ffee00"/>
<path d="M586.8,83.8L586.6,82.4L579.2,83.5L579.6,85.5Z" fill="#ffef00"/>
<path d="M586.6,82.7L586.5,81.2L579.1,81.9L579.3,83.9Z" fill="#fff10b"/>
<path d="M586.5,81.5L586.4,80.1L579.0,80.4L579.1,82.4Z" fill="#fff327"/>
<path d="M586.4,80.4L586.4,78.9L579.0,78.8L579.0,80.8Z" fill="#fff543"/>
<path d="M586.4,79.2L586.4,77.7L579.0,77.2L579.0,79.2Z" fill="#fff760"/>
<path d="M586.4,78.0L586.5,76.6L579.1,75.6L579.0,77.6Z" fill="#fffa7c"/>
<path d="M586.5,76.9L586.7,75.4L579.4,74.1L579.1,76.0Z" fill="#fbfba1"/>
<path d="M586.6,75.7L586.9,74.3L579.6,72.5L579.3,74.5Z" fill="#f5fdc8"/>
<path d="M586.8,74.6L587.2,73.2L580.0,71.0L579.6,72.9Z" fill="#f0fff0"/>
<path d="M587.1,73.5L587.5,72.1L580.4,69.5L579.9,71.4Z" fill="#d9fdf4"/>
<path d="M587.4,72.4L587.9,71.0L581.0,68.0L580.3,69.9Z" fill="#c1fbf9"/>
<path d="M587.8,71.3L588.3,69.9L581.5,66.5L580.8,68.4Z" fill="#aaf9fd"/>
<path d="M588.2,70.2L588.8,68.9L582.2,65.1L581.4,66.9Z" fill="#92f5ff"/>
<path d="M588.6,69.1L589.3,67.9L582.9,63.8L582.0,65.5Z" fill="#7befff"/>
<path d="M589.1,68.1L589.9,66.9L583.7,62.4L582.7,64.1Z" fill="#63e9ff"/>
<path d="M589.7,67.1L590.5,65.9L584.5,61.1L583.5,62.8Z" fill="#4be4ff"/>
<path d="M590.3,66.2L591.2,65.0L585.4,59.9L584.3,61.5Z" fill="#34deff"/>
<path d="M591.0,65.3L591.9,64.1L586.4,58.7L585.2,60.2Z" fill="#31daff"/>
<path d="M591.7,64.4L592.6,63.3L587.4,57.6L586.2,59.0Z" fill="#2ed6ff"/>
<path d="M592.4,63.5L593.4,62.5L588.5,56.5L587.2,57.9Z" fill="#2cd2ff"/>
<path d="M593.2,62.7L594.3,61.8L589.7,55.5L588.2,56.8Z" fill="#29ceff"/>
<path d="M594.0,62.0L595.1,61.1L590.8,54.6L589.3,55.8Z" fill="#26caff"/>
<path d="M594.9,61.3L596.0,60.4L592.1,53.7L590.5,54.8Z" fill="#23c6ff"/>
<path d="M595.8,60.6L596.9,59.9L593.3,52.9L591.7,53.9Z" fill="#20c2ff"/>
<path d="M596.7,60.0L597.9,59.3L594.6,52.1L593.0,53.1Z" fill="#1ebeff"/>
<path d="M597.6,59.5L598.9,58.8L595.9,51.5L594.3,52.3Z" fill="#18b1ff"/>
<path d="M598.6,59.0L599.9,58.4L597.3,50.9L595.6,51.6Z" fill="#0f99ff"/>
<path d="M599.6,58.5L600.9,58.0L598.7,50.4L596.9,51.0Z" fill="#0680ff"/>
<path d="M600.6,58.1L601.9,57.7L600.1,50.0L598.3,50.5Z" fill="#0065fb"/>
<path d="M601.7,57.8L603.0,57.5L601.6,49.6L599.7,50.1Z" fill="#0041ed"/>
<path d="M602.7,57.5L604.1,57.3L603.0,49.3L601.2,49.7Z" fill="#001fde"/>
<path d="M603.8,57.3L605.1,57.1L604.5,49.2L602.6,49.4Z" fill="#000fbe"/>
<path d="M604.8,57.2L606.2,57.1L605.9,49.1L604.1,49.2Z" fill="#c10000"/>
<path d="M605.9,57.1L607.3,57.0L607.4,49.0L605.5,49.1Z" fill="#d40700"/>
<path d="M607.0,49.9L608.8,50.0L609.4,40.9L607.0,40.8Z" fill="#ef1000"/>
<path d="M608.4,50.0L610.2,50.1L611.2,41.1L608.9,40.9Z" fill="#f42400"/>
<path d="M609.8,50.1L611.6,50.4L613.1,41.4L610.7,41.0Z" fill="#f83a00"/>
<path d="M611.3,50.3L613.0,50.7L614.9,41.8L612.6,41.3Z" fill="#fc4f00"/>
<path d="M612.7,50.6L614.4,51.0L616.7,42.3L614.4,41.7Z" fill="#ff6300"/>
<path d="M614.0,50.9L615.8,51.5L618.5,42.9L616.2,42.1Z" fill="#ff7300"/>
<path d="M615.4,51.4L617.1,52.0L620.3,43.6L618.0,42.7Z" fill="#ff8400"/>
<path d="M616.8,51.9L618.4,52.6L622.0,44.4L619.8,43.4Z" fill="#ff9400"/>
<path d="M618.1,52.5L619.7,53.3L623.7,45.2L621.5,44.1Z" fill="#ffa400"/>
<path d="M619.4,53.1L620.9,54.1L625.3,46.2L623.2,45.0Z" fill="#ffb200"/>
<path d="M620.6,53.9L622.1,54.9L626.9,47.3L624.9,46.0Z" fill="#ffbf00"/>
<path d="M621.8,54.7L623.3,55.8L628.4,48.5L626.4,47.0Z" fill="#ffcb00"/>
<path d="M623.0,55.5L624.4,56.7L629.9,49.7L628.0,48.1Z" fill="#ffd800"/>
<path d="M624.1,56.5L625.5,57.7L631.3,51.0L629.5,49.4Z" fill="#ffe000"/>
<path d="M625.2,57.5L626.5,58.8L632.6,52.4L630.9,50.7Z" fill="#ffe200"/>
<path d="M626.2,58.5L627.5,59.9L633.9,53.9L632.2,52.1Z" fill="#ffe300"/>
<path d="M627.2,59.6L628.4,61.1L635.1,55.5L633.5,53.5Z" fill="#ffe400"/>
<path d="M628.1,60.8L629.2,62.3L636.2,57.1L634.7,55.0Z" fill="#ffe500"/>
<path d="M629.0,62.0L630.0,63.6L637.2,58.7L635.9,56.6Z" fill="#ffe600"/>
<path d="M629.8,63.3L630.8,64.9L638.2,60.5L636.9,58.3Z" fill="#ffe800"/>
<path d="M630.6,64.6L631.4,66.3L639.0,62.3L637.9,60.0Z" fill="#ffe900"/>
<path d="M631.2,65.9L632.0,67.7L639.8,64.1L638.8,61.8Z" fill="#ffea00"/>
<path d="M631.9,67.3L632.5,69.1L640.5,65.9L639.6,63.6Z" fill="#ffeb00"/>
<path d="M632.4,68.7L633.0,70.5L641.1,67.8L640.3,65.4Z" fill="#ffed00"/>
<path d="M632.9,70.2L633.4,72.0L641.6,69.8L641.0,67.3Z" fill="#ffee00"/>
<path d="M633.3,71.6L633.7,73.5L642.0,71.7L641.5,69.3Z" fill="#ffef00"/>
<path d="M633.6,73.1L633.9,75.0L642.3,73.7L641.9,71.2Z" fill="#fff004"/>
<path d="M633.9,74.6L634.1,76.5L642.6,75.7L642.3,73.2Z" fill="#fff21d"/>
<path d="M634.1,76.1L634.2,78.1L642.7,77.7L642.5,75.2Z" fill="#fff436"/>
<path d="M634.2,77.7L634.2,79.6L642.7,79.7L642.7,77.2Z" fill="#fff650"/>
<path d="M634.2,79.2L634.1,81.1L642.6,81.7L642.7,79.2Z" fill="#fff869"/>
<path d="M634.2,80.7L634.0,82.7L642.4,83.7L642.7,81.2Z" fill="#fffa83"/>
<path d="M634.1,82.3L633.8,84.2L642.2,85.7L642.5,83.2Z" fill="#fafca7"/>
<path d="M633.9,83.8L633.5,85.7L641.8,87.7L642.3,85.2Z" fill="#f5fdcb"/>
<path d="M633.6,85.3L633.2,87.2L641.4,89.7L641.9,87.2Z" fill="#f0ffee"/>
<path d="M633.3,86.8L632.8,88.6L640.8,91.6L641.5,89.1Z" fill="#dcfdf4"/>
<path d="M632.9,88.2L632.3,90.1L640.1,93.5L641.0,91.1Z" fill="#c7fbf8"/>
<path d="M632.4,89.7L631.7,91.5L639.4,95.3L640.3,93.0Z" fill="#b2fafc"/>
<path d="M631.9,91.1L631.1,92.8L638.6,97.1L639.6,94.8Z" fill="#9cf7ff"/>
<path d="M631.2,92.5L630.4,94.2L637.7,98.9L638.8,96.6Z" fill="#87f2ff"/>
<path d="M630.6,93.8L629.6,95.5L636.7,100.6L637.9,98.4Z" fill="#72edff"/>
<path d="M629.8,95.1L628.8,96.7L635.6,102.2L636.9,100.1Z" fill="#5ce8ff"/>
<path d="M629.0,96.4L627.9,97.9L634.4,103.8L635.9,101.8Z" fill="#47e2ff"/>
<path d="M628.1,97.6L627.0,99.1L633.2,105.3L634.7,103.4Z" fill="#34deff"/>
<path d="M627.2,98.8L626.0,100.2L631.9,106.7L633.5,104.9Z" fill="#31daff"/>
<path d="M626.2,99.9L624.9,101.2L630.5,108.1L632.2,106.3Z" fill="#2fd6ff"/>
<path d="M625.2,100.9L623.8,102.2L629.1,109.4L630.9,107.7Z" fill="#2cd3ff"/>
<path d="M624.1,101.9L622.7,103.1L627.6,110.6L629.5,109.0Z" fill="#2acfff"/>
<path d="M623.0,102.9L621.5,104.0L626.0,111.7L628.0,110.3Z" fill="#27ccff"/>
<path d="M621.8,103.7L620.3,104.7L624.4,112.7L626.4,111.4Z" fill="#24c8ff"/>
<path d="M620.6,104.5L619.0,105.5L622.8,113.6L624.9,112.4Z" fill="#22c4ff"/>
<path d="M619.4,105.3L617.7,106.1L621.1,114.5L623.2,113.4Z" fill="#1fc1ff"/>
<path d="M618.1,105.9L616.4,106.7L619.3,115.2L621.5,114.3Z" fill="#1dbdff"/>
<path d="M616.8,106.5L615.0,107.1L617.6,115.9L619.8,115.0Z" fill="#17adff"/>
<path d="M615.4,107.0L613.7,107.6L615.8,116.4L618.0,115.7Z" fill="#0e97ff"/>
<path d="M614.0,107.5L612.3,107.9L613.9,116.9L616.2,116.3Z" fill="#0681ff"/>
<path d="M612.7,107.8L610.9,108.2L612.1,117.2L614.4,116.7Z" fill="#0069fc"/>
<path d="M611.3,108.1L609.5,108.3L610.2,117.4L612.6,117.1Z" fill="#0049f0"/>
<path d="M609.8,108.3L608.0,108.4L608.4,117.6L610.7,117.4Z" fill="#002ae4"/>
<path d="M608.4,108.4L606.6,108.5L606.5,117.6L608.9,117.5Z" fill="#0016cc"/>
<path d="M607.0,108.5L605.2,108.4L604.6,117.5L607.0,117.6Z" fill="#0007af"/>
<path d="M605.6,108.4L603.8,108.3L602.8,117.3L605.1,117.5Z" fill="#ca0300"/>
<path d="M604.2,108.3L602.4,108.0L600.9,117.0L603.3,117.4Z" fill="#df0a00"/>
<path d="M602.7,108.1L601.0,107.7L599.1,116.6L601.4,117.1Z" fill="#f11500"/>
<path d="M601.3,107.8L599.6,107.4L597.3,116.1L599.6,116.7Z" fill="#f52c00"/>
<path d="M600.0,107.5L598.2,106.9L595.5,115.5L597.8,116.3Z" fill="#fa4400"/>
<path d="M598.6,107.0L596.9,106.4L593.7,114.8L596.0,115.7Z" fill="#fe5b00"/>
<path d="M597.2,106.5L595.6,105.8L592.0,114.0L594.2,115.0Z" fill="#ff6e00"/>
<path d="M595.9,105.9L594.3,105.1L590.3,113.2L592.5,114.3Z" fill="#ff8000"/>
<path d="M594.6,105.3L593.1,104.3L588.7,112.2L590.8,113.4Z" fill="#ff9200"/>
<path d="M593.4,104.5L591.9,103.5L587.1,111.1L589.1,112.4Z" fill="#ffa400"/>
<path d="M592.2,103.7L590.7,102.6L585.6,109.9L587.6,111.4Z" fill="#ffb300"/>
<path d="M591.0,102.9L589.6,101.7L584.1,108.7L586.0,110.3Z" fill="#ffc100"/>
<path d="M589.9,101.9L588.5,100.7L582.7,107.4L584.5,109.0Z" fill="#ffcf00"/>
<path d="M588.8,100.9L587.5,99.6L581.4,106.0L583.1,107.7Z" fill="#ffdd00"/>
<path d="M587.8,99.9L586.5,98.5L580.1,104.5L581.8,106.3Z" fill="#ffe100"/>
<path d="M586.8,98.8L585.6,97.3L578.9,102.9L580.5,104.9Z" fill="#ffe200"/>
<path d="M585.9,97.6L584.8,96.1L577.8,101.3L579.3,103.4Z" fill="#ffe400"/>
<path d="M585.0,96.4L584.0,94.8L576.8,99.7L578.1,101.8Z" fill="#ffe500"/>
<path d="M584.2,95.1L583.2,93.5L575.8,97.9L577.1,100.1Z" fill="#ffe600"/>
<path d="M583.4,93.8L582.6,92.1L575.0,96.1L576.1,98.4Z" fill="#ffe800"/>
<path d="M582.8,92.5L582.0,90.7L574.2,94.3L575.2,96.6Z" fill="#ffe900"/>
<path d="M582.1,91.1L581.5,89.3L573.5,92.5L574.4,94.8Z" fill="#ffea00"/>
<path d="M581.6,89.7L581.0,87.9L572.9,90.6L573.7,93.0Z" fill="#ffec00"/>
<path d="M581.1,88.2L580.6,86.4L572.4,88.6L573.0,91.1Z" fill="#ffed00"/>
<path d="M580.7,86.8L580.3,84.9L572.0,86.7L572.5,89.1Z" fill="#ffee00"/>
<path d="M580.4,85.3L580.1,83.4L571.7,84.7L572.1,87.2Z" fill="#fff000"/>
<path d="M580.1,83.8L579.9,81.9L571.4,82.7L571.7,85.2Z" fill="#fff218"/>
<path d="M579.9,82.3L579.8,80.3L571.3,80.7L571.5,83.2Z" fill="#fff434"/>
<path d="M579.8,80.7L579.8,78.8L571.3,78.7L571.3,81.2Z" fill="#fff650"/>
<path d="M579.8,79.2L579.9,77.3L571.4,76.7L571.3,79.2Z" fill="#fff86c"/>
<path d="M579.8,77.7L580.0,75.7L571.6,74.7L571.3,77.2Z" fill="#fefa8b"/>
<path d="M579.9,76.1L580.2,74.2L571.8,72.7L571.5,75.2Z" fill="#f8fcb2"/>
<path d="M580.1,74.6L580.5,72.7L572.2,70.7L571.7,73.2Z" fill="#f3feda"/>
<path d="M580.4,73.1L580.8,71.2L572.6,68.7L572.1,71.2Z" fill="#e6fef2"/>
<path d="M580.7,71.6L581.2,69.8L573.2,66.8L572.5,69.3Z" fill="#cffcf6"/>
<path d="M581.1,70.2L581.7,68.3L573.9,64.9L573.0,67.3Z" fill="#b7fafb"/>
<path d="M581.6,68.7L582.3,66.9L574.6,63.1L573.7,65.4Z" fill="#a0f8ff"/>
<path d="M582.1,67.3L582.9,65.6L575.4,61.3L574.4,63.6Z" fill="#88f2ff"/>
<path d="M582.8,65.9L583.6,64.2L576.3,59.5L575.2,61.8Z" fill="#70edff"/>
<path d="M583.4,64.6L584.4,62.9L577.3,57.8L576.1,60.0Z" fill="#59e7ff"/>
<path d="M584.2,63.3L585.2,61.7L578.4,56.2L577.1,58.3Z" fill="#41e1ff"/>
<path d="M585.0,62.0L586.1,60.5L579.6,54.6L578.1,56.6Z" fill="#33dcff"/>
<path d="M585.9,60.8L587.0,59.3L580.8,53.1L579.3,55.0Z" fill="#30d8ff"/>
<path d="M586.8,59.6L588.0,58.2L582.1,51.7L580.5,53.5Z" fill="#2dd4ff"/>
<path d="M587.8,58.5L589.1,57.2L583.5,50.3L581.8,52.1Z" fill="#2ad0ff"/>
<path d="M588.8,57.5L590.2,56.2L584.9,49.0L583.1,50.7Z" fill="#28ccff"/>
<path d="M589.9,56.5L591.3,55.3L586.4,47.8L584.5,49.4Z" fill="#25c8ff"/>
<path d="M591.0,55.5L592.5,54.4L588.0,46.7L586.0,48.1Z" fill="#22c4ff"/>
<path d="M592.2,54.7L593.7,53.7L589.6,45.7L587.6,47.0Z" fill="#1fc0ff"/>
<path d="M593.4,53.9L595.0,52.9L591.2,44.8L589.1,46.0Z" fill="#1cbcff"/>
<path d="M594.6,53.1L596.3,52.3L592.9,43.9L590.8,45.0Z" fill="#14a6ff"/>
<path d="M595.9,52.5L597.6,51.7L594.7,43.2L592.5,44.1Z" fill="#0b8eff"/>
<path d="M597.2,51.9L599.0,51.3L596.4,42.5L594.2,43.4Z" fill="#0276ff"/>
<path d="M598.6,51.4L600.3,50.8L598.2,42.0L596.0,42.7Z" fill="#0055f5"/>
<path d="M600.0,50.9L601.7,50.5L600.1,41.5L597.8,42.1Z" fill="#0032e7"/>
<path d="M601.3,50.6L603.1,50.2L601.9,41.2L599.6,41.7Z" fill="#0018d1"/>
<path d="M602.7,50.3L604.5,50.1L603.8,41.0L601.4,41.3Z" fill="#0008b0"/>
<path d="M604.2,50.1L606.0,50.0L605.6,40.8L603.3,41.0Z" fill="#c90300"/>
<path d="M605.6,50.0L607.4,49.9L607.5,40.8L605.1,40.9Z" fill="#dc0900"/>
<path d="M607.0,42.0L609.3,42.0L610.0,30.0L607.0,29.8Z" fill="#f42400"/>
<path d="M608.8,42.0L611.1,42.2L612.4,30.2L609.4,29.9Z" fill="#f83900"/>
<path d="M610.6,42.2L612.9,42.5L614.8,30.6L611.8,30.1Z" fill="#fc4e00"/>
<path d="M612.4,42.4L614.7,42.9L617.2,31.1L614.2,30.5Z" fill="#ff6300"/>
<path d="M614.2,42.8L616.4,43.4L619.5,31.7L616.5,30.9Z" fill="#ff7300"/>
<path d="M616.0,43.2L618.2,44.0L621.8,32.5L618.9,31.5Z" fill="#ff8300"/>
<path d="M617.7,43.8L619.9,44.6L624.0,33.4L621.2,32.3Z" fill="#ff9400"/>
<path d="M619.4,44.4L621.5,45.4L626.3,34.4L623.4,33.1Z" fill="#ffa400"/>
<path d="M621.1,45.2L623.2,46.3L628.4,35.5L625.7,34.1Z" fill="#ffb100"/>
<path d="M622.7,46.0L624.7,47.2L630.5,36.8L627.8,35.2Z" fill="#ffbe00"/>
<path d="M624.3,47.0L626.3,48.3L632.5,38.2L630.0,36.5Z" fill="#ffcb00"/>
<path d="M625.9,48.0L627.7,49.4L634.5,39.7L632.0,37.8Z" fill="#ffd800"/>
<path d="M627.4,49.1L629.2,50.6L636.4,41.3L634.0,39.3Z" fill="#ffe000"/>
<path d="M628.8,50.3L630.5,51.9L638.2,43.0L635.9,40.8Z" fill="#ffe200"/>
<path d="M630.2,51.5L631.8,53.2L639.9,44.8L637.7,42.5Z" fill="#ffe300"/>
<path d="M631.5,52.9L633.1,54.7L641.5,46.7L639.5,44.3Z" fill="#ffe400"/>
<path d="M632.7,54.3L634.2,56.2L643.1,48.7L641.1,46.2Z" fill="#ffe500"/>
<path d="M633.9,55.8L635.3,57.7L644.5,50.7L642.7,48.1Z" fill="#ffe600"/>
<path d="M635.0,57.3L636.3,59.4L645.8,52.9L644.1,50.2Z" fill="#ffe800"/>
<path d="M636.0,58.9L637.2,61.0L647.1,55.1L645.5,52.3Z" fill="#ffe900"/>
<path d="M637.0,60.6L638.1,62.8L648.2,57.4L646.8,54.5Z" fill="#ffea00"/>
<path d="M637.9,62.3L638.8,64.5L649.2,59.8L647.9,56.8Z" fill="#ffeb00"/>
<path d="M638.6,64.1L639.5,66.3L650.1,62.2L648.9,59.1Z" fill="#ffed00"/>
<path d="M639.3,65.9L640.1,68.2L650.8,64.6L649.9,61.5Z" fill="#ffee00"/>
<path d="M639.9,67.7L640.6,70.1L651.5,67.1L650.7,63.9Z" fill="#ffef00"/>
<path d="M640.4,69.6L641.0,72.0L652.0,69.6L651.3,66.4Z" fill="#fff003"/>
<path d="M640.9,71.5L641.3,73.9L652.4,72.2L651.9,68.9Z" fill="#fff21c"/>
<path d="M641.2,73.4L641.5,75.8L652.7,74.7L652.3,71.5Z" fill="#fff436"/>
<path d="M641.4,75.3L641.6,77.8L652.9,77.3L652.6,74.0Z" fill="#fff64f"/>
<path d="M641.6,77.3L641.6,79.7L652.9,79.9L652.8,76.6Z" fill="#fff868"/>
<path d="M641.6,79.2L641.6,81.7L652.8,82.5L652.9,79.2Z" fill="#fffa82"/>
<path d="M641.6,81.1L641.4,83.6L652.6,85.0L652.8,81.8Z" fill="#fafca6"/>
<path d="M641.4,83.1L641.1,85.5L652.2,87.6L652.6,84.4Z" fill="#f5fdca"/>
<path d="M641.2,85.0L640.8,87.4L651.8,90.1L652.3,86.9Z" fill="#f0ffed"/>
<path d="M640.9,86.9L640.3,89.3L651.2,92.6L651.9,89.5Z" fill="#ddfdf4"/>
<path d="M640.4,88.8L639.8,91.2L650.5,95.1L651.3,92.0Z" fill="#c7fbf8"/>
<path d="M639.9,90.7L639.2,93.0L649.6,97.5L650.7,94.5Z" fill="#b2fafc"/>
<path d="M639.3,92.5L638.4,94.8L648.7,99.9L649.9,96.9Z" fill="#9df7ff"/>
<path d="M638.6,94.3L637.6,96.6L647.6,102.2L648.9,99.3Z" fill="#88f2ff"/>
<path d="M637.9,96.1L636.7,98.3L646.4,104.5L647.9,101.6Z" fill="#72edff"/>
<path d="M637.0,97.8L635.8,99.9L645.1,106.7L646.8,103.9Z" fill="#5de8ff"/>
<path d="M636.0,99.5L634.7,101.5L643.8,108.8L645.5,106.1Z" fill="#47e3ff"/>
<path d="M635.0,101.1L633.6,103.0L642.3,110.8L644.1,108.2Z" fill="#34deff"/>
<path d="M633.9,102.6L632.4,104.5L640.7,112.7L642.7,110.3Z" fill="#31daff"/>
<path d="M632.7,104.1L631.1,105.9L639.0,114.6L641.1,112.2Z" fill="#2fd6ff"/>
<path d="M631.5,105.5L629.8,107.2L637.2,116.3L639.5,114.1Z" fill="#2cd3ff"/>
<path d="M630.2,106.9L628.4,108.5L635.4,118.0L637.7,115.9Z" fill="#2acfff"/>
<path d="M628.8,108.1L627.0,109.6L633.5,119.5L635.9,117.6Z" fill="#27ccff"/>
<path d="M627.4,109.3L625.5,110.7L631.5,121.0L634.0,119.1Z" fill="#25c8ff"/>
<path d="M625.9,110.4L623.9,111.7L629.4,122.3L632.0,120.6Z" fill="#22c4ff"/>
<path d="M624.3,111.4L622.3,112.6L627.3,123.5L630.0,121.9Z" fill="#1fc1ff"/>
<path d="M622.7,112.4L620.6,113.4L625.1,124.6L627.8,123.2Z" fill="#1dbdff"/>
<path d="M621.1,113.2L619.0,114.1L622.8,125.5L625.7,124.3Z" fill="#17aeff"/>
<path d="M619.4,114.0L617.2,114.8L620.6,126.3L623.4,125.3Z" fill="#0f98ff"/>
<path d="M617.7,114.6L615.5,115.3L618.3,127.0L621.2,126.1Z" fill="#0782ff"/>
<path d="M616.0,115.2L613.7,115.7L615.9,127.6L618.9,126.9Z" fill="#006afd"/>
<path d="M614.2,115.6L611.9,116.1L613.5,128.1L616.5,127.5Z" fill="#004af0"/>
<path d="M612.4,116.0L610.1,116.3L611.2,128.4L614.2,127.9Z" fill="#002be4"/>
<path d="M610.6,116.2L608.3,116.4L608.8,128.5L611.8,128.3Z" fill="#0016cd"/>
<path d="M608.8,116.4L606.5,116.4L606.4,128.6L609.4,128.5Z" fill="#0008b0"/>
<path d="M607.0,116.4L604.7,116.4L604.0,128.4L607.0,128.6Z" fill="#ca0300"/>
<path d="M605.2,116.4L602.9,116.2L601.6,128.2L604.6,128.5Z" fill="#df0a00"/>
<path d="M603.4,116.2L601.1,115.9L599.2,127.8L602.2,128.3Z" fill="#f11400"/>
<path d="M601.6,116.0L599.3,115.5L596.8,127.3L599.8,127.9Z" fill="#f52c00"/>
<path d="M599.8,115.6L597.6,115.0L594.5,126.7L597.5,127.5Z" fill="#fa4300"/>
<path d="M598.0,115.2L595.8,114.4L592.2,125.9L595.1,126.9Z" fill="#fe5a00"/>
<path d="M596.3,114.6L594.1,113.8L590.0,125.0L592.8,126.1Z" fill="#ff6e00"/>
<path d="M594.6,114.0L592.5,113.0L587.7,124.0L590.6,125.3Z" fill="#ff8000"/>
<path d="M592.9,113.2L590.8,112.1L585.6,122.9L588.3,124.3Z" fill="#ff9200"/>
<path d="M591.3,112.4L589.3,111.2L583.5,121.6L586.2,123.2Z" fill="#ffa400"/>
<path d="M589.7,111.4L587.7,110.1L581.5,120.2L584.0,121.9Z" fill="#ffb300"/>
<path d="M588.1,110.4L586.3,109.0L579.5,118.7L582.0,120.6Z" fill="#ffc100"/>
<path d="M586.6,109.3L584.8,107.8L577.6,117.1L580.0,119.1Z" fill="#ffcf00"/>
<path d="M585.2,108.1L583.5,106.5L575.8,115.4L578.1,117.6Z" fill="#ffdd00"/>
<path d="M583.8,106.9L582.2,105.2L574.1,113.6L576.3,115.9Z" fill="#ffe100"/>
<path d="M582.5,105.5L580.9,103.7L572.5,111.7L574.5,114.1Z" fill="#ffe200"/>
<path d="M581.3,104.1L579.8,102.2L570.9,109.7L572.9,112.2Z" fill="#ffe400"/>
<path d="M580.1,102.6L578.7,100.7L569.5,107.7L571.3,110.3Z" fill="#ffe500"/>
<path d="M579.0,101.1L577.7,99.0L568.2,105.5L569.9,108.2Z" fill="#ffe600"/>
<path d="M578.0,99.5L576.8,97.4L566.9,103.3L568.5,106.1Z" fill="#ffe800"/>
<path d="M577.0,97.8L575.9,95.6L565.8,101.0L567.2,103.9Z" fill="#ffe900"/>
<path d="M576.1,96.1L575.2,93.9L564.8,98.6L566.1,101.6Z" fill="#ffea00"/>
<path d="M575.4,94.3L574.5,92.1L563.9,96.2L565.1,99.3Z" fill="#ffec00"/>
<path d="M574.7,92.5L573.9,90.2L563.2,93.8L564.1,96.9Z" fill="#ffed00"/>
<path d="M574.1,90.7L573.4,88.3L562.5,91.3L563.3,94.5Z" fill="#ffee00"/>
<path d="M573.6,88.8L573.0,86.4L562.0,88.8L562.7,92.0Z" fill="#fff000"/>
<path d="M573.1,86.9L572.7,84.5L561.6,86.2L562.1,89.5Z" fill="#fff217"/>
<path d="M572.8,85.0L572.5,82.6L561.3,83.7L561.7,86.9Z" fill="#fff433"/>
<path d="M572.6,83.1L572.4,80.6L561.1,81.1L561.4,84.4Z" fill="#fff64f"/>
<path d="M572.4,81.1L572.4,78.7L561.1,78.5L561.2,81.8Z" fill="#fff86b"/>
<path d="M572.4,79.2L572.4,76.7L561.2,75.9L561.1,79.2Z" fill="#fefa8a"/>
<path d="M572.4,77.3L572.6,74.8L561.4,73.4L561.2,76.6Z" fill="#f8fcb1"/>
<path d="M572.6,75.3L572.9,72.9L561.8,70.8L561.4,74.0Z" fill="#f3fed8"/>
<path d="M572.8,73.4L573.2,71.0L562.2,68.3L561.7,71.5Z" fill="#e7fef2"/>
<path d="M573.1,71.5L573.7,69.1L562.8,65.8L562.1,68.9Z" fill="#cffcf6"/>
<path d="M573.6,69.6L574.2,67.2L563.5,63.3L562.7,66.4Z" fill="#b8fafb"/>
<path d="M574.1,67.7L574.8,65.4L564.4,60.9L563.3,63.9Z" fill="#a1f8ff"/>
<path d="M574.7,65.9L575.6,63.6L565.3,58.5L564.1,61.5Z" fill="#89f2ff"/>
<path d="M575.4,64.1L576.4,61.8L566.4,56.2L565.1,59.1Z" fill="#71edff"/>
<path d="M576.1,62.3L577.3,60.1L567.6,53.9L566.1,56.8Z" fill="#59e7ff"/>
<path d="M577.0,60.6L578.2,58.5L568.9,51.7L567.2,54.5Z" fill="#42e1ff"/>
<path d="M578.0,58.9L579.3,56.9L570.2,49.6L568.5,52.3Z" fill="#33dcff"/>
<path d="M579.0,57.3L580.4,55.4L571.7,47.6L569.9,50.2Z" fill="#30d8ff"/>
<path d="M580.1,55.8L581.6,53.9L573.3,45.7L571.3,48.1Z" fill="#2dd4ff"/>
<path d="M581.3,54.3L582.9,52.5L575.0,43.8L572.9,46.2Z" fill="#2ad0ff"/>
<path d="M582.5,52.9L584.2,51.2L576.8,42.1L574.5,44.3Z" fill="#28ccff"/>
<path d="M583.8,51.5L585.6,49.9L578.6,40.4L576.3,42.5Z" fill="#25c8ff"/>
<path d="M585.2,50.3L587.0,48.8L580.5,38.9L578.1,40.8Z" fill="#22c4ff"/>
<path d="M586.6,49.1L588.5,47.7L582.5,37.4L580.0,39.3Z" fill="#1fc1ff"/>
<path d="M588.1,48.0L590.1,46.7L584.6,36.1L582.0,37.8Z" fill="#1cbdff"/>
<path d="M589.7,47.0L591.7,45.8L586.7,34.9L584.0,36.5Z" fill="#14a7ff"/>
<path d="M591.3,46.0L593.4,45.0L588.9,33.8L586.2,35.2Z" fill="#0b8fff"/>
<path d="M592.9,45.2L595.0,44.3L591.2,32.9L588.3,34.1Z" fill="#0276ff"/>
<path d="M594.6,44.4L596.8,43.6L593.4,32.1L590.6,33.1Z" fill="#0056f5"/>
<path d="M596.3,43.8L598.5,43.1L595.7,31.4L592.8,32.3Z" fill="#0033e7"/>
<path d="M598.0,43.2L600.3,42.7L598.1,30.8L595.1,31.5Z" fill="#0019d1"/>
<path d="M599.8,42.8L602.1,42.3L600.5,30.3L597.5,30.9Z" fill="#0009b1"/>
<path d="M601.6,42.4L603.9,42.1L602.8,30.0L599.8,30.5Z" fill="#c90300"/>
<path d="M603.4,42.2L605.7,42.0L605.2,29.9L602.2,30.1Z" fill="#dc0900"/>
<path d="M605.2,42.0L607.5,42.0L607.6,29.8L604.6,29.9Z" fill="#ef1000"/>
</g>
<polygon points="674.0,58.8 673.2,60.1 671.7,60.1 672.5,61.4 671.7,62.7 670.2,62.7 669.5,61.4 668.7,62.7 667.2,62.7 668.0,64.0 667.2,65.3 668.7,65.3 669.5,66.6 668.7,67.9 667.2,67.9 668.0,69.2 667.2,70.5 665.7,70.5 665.0,69.2 664.2,70.5 662.7,70.5 662.0,69.2 662.7,67.9 661.2,67.9 660.5,66.6 659.7,67.9 658.2,67.9 659.0,69.2 658.2,70.5 656.7,70.5 656.0,69.2 655.2,70.5 653.7,70.5 654.5,71.8 653.7,73.1 655.2,73.1 656.0,74.4 655.2,75.7 653.7,75.7 654.5,77.0 653.7,78.3 655.2,78.3 656.0,79.6 656.7,78.3 658.2,78.3 659.0,79.6 658.2,80.9 659.7,80.9 660.5,82.2 659.7,83.5 658.2,83.5 659.0,84.8 658.2,86.1 656.7,86.1 656.0,84.8 655.2,86.1 653.7,86.1 654.5,87.4 653.7,88.7 655.2,88.7 656.0,90.0 655.2,91.3 653.7,91.3 654.5,92.6 653.7,93.9 655.2,93.9 656.0,95.2 656.7,93.9 658.2,93.9 659.0,95.2 658.2,96.5 659.7,96.5 660.5,97.8 661.2,96.5 662.7,96.5 662.0,95.2 662.7,93.9 664.2,93.9 665.0,95.2 665.7,93.9 667.2,93.9 668.0,95.2 667.2,96.5 668.7,96.5 669.5,97.8 668.7,99.1 667.2,99.1 668.0,100.4 667.2,101.7 668.7,101.7 669.5,103.0 670.2,101.7 671.7,101.7 672.5,103.0 671.7,104.3 673.2,104.3 674.0,105.6 674.8,104.3 676.3,104.3 675.5,103.0 676.3,101.7 677.8,101.7 678.5,103.0 679.3,101.7 680.8,101.7 680.0,100.4 680.8,99.1 679.3,99.1 678.5,97.8 679.3,96.5 680.8,96.5 680.0,95.2 680.8,93.9 682.3,93.9 683.0,95.2 683.8,93.9 685.3,93.9 686.0,95.2 685.3,96.5 686.8,96.5 687.5,97.8 688.3,96.5 689.8,96.5 689.0,95.2 689.8,93.9 691.3,93.9 692.0,95.2 692.8,93.9 694.3,93.9 693.5,92.6 694.3,91.3 692.8,91.3 692.0,90.0 692.8,88.7 694.3,88.7 693.5,87.4 694.3,86.1 692.8,86.1 692.0,84.8 691.3,86.1 689.8,86.1 689.0,84.8 689.8,83.5 688.3,83.5 687.5,82.2 688.3,80.9 689.8,80.9 689.0,79.6 689.8,78.3 691.3,78.3 692.0,79.6 692.8,78.3 694.3,78.3 693.5,77.0 694.3,75.7 692.8,75.7 692.0,74.4 692.8,73.1 694.3,73.1 693.5,71.8 694.3,70.5 692.8,70.5 692.0,69.2 691.3,70.5 689.8,70.5 689.0,69.2 689.8,67.9 688.3,67.9 687.5,66.6 686.8,67.9 685.3,67.9 686.0,69.2 685.3,70.5 683.8,70.5 683.0,69.2 682.3,70.5 680.8,70.5 680.0,69.2 680.8,67.9 679.3,67.9 678.5,66.6 679.3,65.3 680.8,65.3 680.0,64.0 680.8,62.7 679.3,62.7 678.5,61.4 677.8,62.7 676.3,62.7 675.5,61.4 676.3,60.1 674.8,60.1" fill="#000"/>
<rect x="695.3" y="58.7" width="4.2" height="47.6" fill="#b6b6be"/>
<path d="M702.0,80.6 a42.8,46 0 1,0 85.6,0 a42.8,46 0 1,0 -85.6,0 Z M736.9,80.19999999999999 a7.6,9.7 0 1,1 15.2,0 a7.6,9.7 0 1,1 -15.2,0 Z" fill-rule="evenodd" fill="#8a8040" opacity="0.6"/>
<clipPath id="dcR"><path d="M700.7,79.6 a42.8,46 0 1,0 85.6,0 a42.8,46 0 1,0 -85.6,0 Z M735.9,79.6 a7.6,9.7 0 1,1 15.2,0 a7.6,9.7 0 1,1 -15.2,0 Z" clip-rule="evenodd"/></clipPath>
<g clip-path="url(#dcR)">
<path d="M743.5,79.6L743.5,79.6L744.5,64.0L743.5,64.0Z" fill="#f11600"/>
<path d="M743.5,79.6L743.5,79.6L745.2,64.1L744.3,64.0Z" fill="#f52b00"/>
<path d="M743.5,79.6L743.5,79.6L746.0,64.2L745.0,64.0Z" fill="#f94100"/>
<path d="M743.5,79.6L743.5,79.6L746.7,64.3L745.8,64.2Z" fill="#fd5600"/>
<path d="M743.5,79.6L743.5,79.6L747.5,64.6L746.5,64.3Z" fill="#ff6800"/>
<path d="M743.5,79.6L743.5,79.6L748.2,64.8L747.3,64.5Z" fill="#ff7900"/>
<path d="M743.5,79.6L743.5,79.6L748.9,65.1L748.0,64.7Z" fill="#ff8900"/>
<path d="M743.5,79.6L743.5,79.6L749.6,65.4L748.7,65.0Z" fill="#ff9900"/>
<path d="M743.5,79.6L743.5,79.6L750.3,65.8L749.4,65.3Z" fill="#ffa900"/>
<path d="M743.5,79.6L743.5,79.6L751.0,66.2L750.1,65.7Z" fill="#ffb600"/>
<path d="M743.5,79.6L743.5,79.6L751.6,66.6L750.8,66.1Z" fill="#ffc300"/>
<path d="M743.5,79.6L743.5,79.6L752.2,67.1L751.4,66.5Z" fill="#ffcf00"/>
<path d="M743.5,79.6L743.5,79.6L752.8,67.6L752.1,66.9Z" fill="#ffdc00"/>
<path d="M743.5,79.6L743.5,79.6L753.4,68.1L752.7,67.4Z" fill="#ffe100"/>
<path d="M743.5,79.6L743.5,79.6L753.9,68.7L753.2,68.0Z" fill="#ffe200"/>
<path d="M743.5,79.6L743.5,79.6L754.4,69.3L753.8,68.5Z" fill="#ffe300"/>
<path d="M743.5,79.6L743.5,79.6L754.9,69.9L754.3,69.1Z" fill="#ffe400"/>
<path d="M743.5,79.6L743.5,79.6L755.4,70.6L754.8,69.8Z" fill="#ffe600"/>
<path d="M743.5,79.6L743.5,79.6L755.8,71.3L755.3,70.4Z" fill="#ffe700"/>
<path d="M743.5,79.6L743.5,79.6L756.2,72.0L755.7,71.1Z" fill="#ffe800"/>
<path d="M743.5,79.6L743.5,79.6L756.6,72.7L756.1,71.8Z" fill="#ffe900"/>
<path d="M743.5,79.6L743.5,79.6L756.9,73.4L756.5,72.5Z" fill="#ffeb00"/>
<path d="M743.5,79.6L743.5,79.6L757.2,74.2L756.8,73.2Z" fill="#ffec00"/>
<path d="M743.5,79.6L743.5,79.6L757.4,75.0L757.1,74.0Z" fill="#ffed00"/>
<path d="M743.5,79.6L743.5,79.6L757.6,75.8L757.3,74.8Z" fill="#ffee00"/>
<path d="M743.5,79.6L743.5,79.6L757.8,76.6L757.6,75.6Z" fill="#ffef00"/>
<path d="M743.5,79.6L743.5,79.6L757.9,77.4L757.7,76.3Z" fill="#fff10c"/>
<path d="M743.5,79.6L743.5,79.6L758.0,78.2L757.9,77.2Z" fill="#fff325"/>
<path d="M743.5,79.6L743.5,79.6L758.0,79.0L758.0,78.0Z" fill="#fff53f"/>
<path d="M743.5,79.6L743.5,79.6L758.1,79.8L758.0,78.8Z" fill="#fff758"/>
<path d="M743.5,79.6L743.5,79.6L758.0,80.6L758.1,79.6Z" fill="#fff971"/>
<path d="M743.5,79.6L743.5,79.6L757.9,81.5L758.0,80.4Z" fill="#fdfb8f"/>
<path d="M743.5,79.6L743.5,79.6L757.8,82.3L758.0,81.2Z" fill="#f8fcb3"/>
<path d="M743.5,79.6L743.5,79.6L757.7,83.1L757.9,82.0Z" fill="#f3fed6"/>
<path d="M743.5,79.6L743.5,79.6L757.5,83.9L757.7,82.9Z" fill="#eafef1"/>
<path d="M743.5,79.6L743.5,79.6L757.3,84.6L757.6,83.6Z" fill="#d5fdf5"/>
<path d="M743.5,79.6L743.5,79.6L757.0,85.4L757.3,84.4Z" fill="#c0fbf9"/>
<path d="M743.5,79.6L743.5,79.6L756.7,86.2L757.1,85.2Z" fill="#abf9fd"/>
<path d="M743.5,79.6L743.5,79.6L756.4,86.9L756.8,86.0Z" fill="#95f5ff"/>
<path d="M743.5,79.6L743.5,79.6L756.0,87.6L756.5,86.7Z" fill="#80f0ff"/>
<path d="M743.5,79.6L743.5,79.6L755.6,88.3L756.1,87.4Z" fill="#6aebff"/>
<path d="M743.5,79.6L743.5,79.6L755.2,89.0L755.7,88.1Z" fill="#55e6ff"/>
<path d="M743.5,79.6L743.5,79.6L754.7,89.6L755.3,88.8Z" fill="#40e1ff"/>
<path d="M743.5,79.6L743.5,79.6L754.2,90.2L754.8,89.4Z" fill="#33dcff"/>
<path d="M743.5,79.6L743.5,79.6L753.6,90.8L754.3,90.1Z" fill="#30d9ff"/>
<path d="M743.5,79.6L743.5,79.6L753.1,91.4L753.8,90.7Z" fill="#2ed5ff"/>
<path d="M743.5,79.6L743.5,79.6L752.5,91.9L753.2,91.2Z" fill="#2bd2ff"/>
<path d="M743.5,79.6L743.5,79.6L751.9,92.4L752.7,91.8Z" fill="#29ceff"/>
<path d="M743.5,79.6L743.5,79.6L751.3,92.8L752.1,92.3Z" fill="#26caff"/>
<path d="M743.5,79.6L743.5,79.6L750.6,93.3L751.4,92.7Z" fill="#24c7ff"/>
<path d="M743.5,79.6L743.5,79.6L749.9,93.6L750.8,93.1Z" fill="#21c3ff"/>
<path d="M743.5,79.6L743.5,79.6L749.2,94.0L750.1,93.5Z" fill="#1fc0ff"/>
<path d="M743.5,79.6L743.5,79.6L748.5,94.3L749.4,93.9Z" fill="#1cbcff"/>
<path d="M743.5,79.6L743.5,79.6L747.8,94.5L748.7,94.2Z" fill="#14a6ff"/>
<path d="M743.5,79.6L743.5,79.6L747.1,94.8L748.0,94.5Z" fill="#0c90ff"/>
<path d="M743.5,79.6L743.5,79.6L746.3,94.9L747.3,94.7Z" fill="#047aff"/>
<path d="M743.5,79.6L743.5,79.6L745.6,95.1L746.5,94.9Z" fill="#005ff8"/>
<path d="M743.5,79.6L743.5,79.6L744.8,95.2L745.8,95.0Z" fill="#003fec"/>
<path d="M743.5,79.6L743.5,79.6L744.1,95.2L745.0,95.2Z" fill="#0020df"/>
<path d="M743.5,79.6L743.5,79.6L743.3,95.2L744.3,95.2Z" fill="#0011c2"/>
<path d="M743.5,79.6L743.5,79.6L742.5,95.2L743.5,95.2Z" fill="#0003a5"/>
<path d="M743.5,79.6L743.5,79.6L741.8,95.1L742.7,95.2Z" fill="#d10600"/>
<path d="M743.5,79.6L743.5,79.6L741.0,95.0L742.0,95.2Z" fill="#e60d00"/>
<path d="M743.5,79.6L743.5,79.6L740.3,94.9L741.2,95.0Z" fill="#f21d00"/>
<path d="M743.5,79.6L743.5,79.6L739.5,94.6L740.5,94.9Z" fill="#f73400"/>
<path d="M743.5,79.6L743.5,79.6L738.8,94.4L739.7,94.7Z" fill="#fb4b00"/>
<path d="M743.5,79.6L743.5,79.6L738.1,94.1L739.0,94.5Z" fill="#ff6200"/>
<path d="M743.5,79.6L743.5,79.6L737.4,93.8L738.3,94.2Z" fill="#ff7400"/>
<path d="M743.5,79.6L743.5,79.6L736.7,93.4L737.6,93.9Z" fill="#ff8600"/>
<path d="M743.5,79.6L743.5,79.6L736.0,93.0L736.9,93.5Z" fill="#ff9800"/>
<path d="M743.5,79.6L743.5,79.6L735.4,92.6L736.2,93.1Z" fill="#ffaa00"/>
<path d="M743.5,79.6L743.5,79.6L734.8,92.1L735.6,92.7Z" fill="#ffb800"/>
<path d="M743.5,79.6L743.5,79.6L734.2,91.6L734.9,92.3Z" fill="#ffc600"/>
<path d="M743.5,79.6L743.5,79.6L733.6,91.1L734.3,91.8Z" fill="#ffd400"/>
<path d="M743.5,79.6L743.5,79.6L733.1,90.5L733.8,91.2Z" fill="#ffe000"/>
<path d="M743.5,79.6L743.5,79.6L732.6,89.9L733.2,90.7Z" fill="#ffe200"/>
<path d="M743.5,79.6L743.5,79.6L732.1,89.3L732.7,90.1Z" fill="#ffe300"/>
<path d="M743.5,79.6L743.5,79.6L731.6,88.6L732.2,89.4Z" fill="#ffe400"/>
<path d="M743.5,79.6L743.5,79.6L731.2,87.9L731.7,88.8Z" fill="#ffe600"/>
<path d="M743.5,79.6L743.5,79.6L730.8,87.2L731.3,88.1Z" fill="#ffe700"/>
<path d="M743.5,79.6L743.5,79.6L730.4,86.5L730.9,87.4Z" fill="#ffe800"/>
<path d="M743.5,79.6L743.5,79.6L730.1,85.8L730.5,86.7Z" fill="#ffea00"/>
<path d="M743.5,79.6L743.5,79.6L729.8,85.0L730.2,86.0Z" fill="#ffeb00"/>
<path d="M743.5,79.6L743.5,79.6L729.6,84.2L729.9,85.2Z" fill="#ffec00"/>
<path d="M743.5,79.6L743.5,79.6L729.4,83.4L729.7,84.4Z" fill="#ffee00"/>
<path d="M743.5,79.6L743.5,79.6L729.2,82.6L729.4,83.6Z" fill="#ffef00"/>
<path d="M743.5,79.6L743.5,79.6L729.1,81.8L729.3,82.9Z" fill="#fff005"/>
<path d="M743.5,79.6L743.5,79.6L729.0,81.0L729.1,82.0Z" fill="#fff321"/>
<path d="M743.5,79.6L743.5,79.6L729.0,80.2L729.0,81.2Z" fill="#fff53d"/>
<path d="M743.5,79.6L743.5,79.6L728.9,79.4L729.0,80.4Z" fill="#fff759"/>
<path d="M743.5,79.6L743.5,79.6L729.0,78.6L728.9,79.6Z" fill="#fff975"/>
<path d="M743.5,79.6L743.5,79.6L729.1,77.7L729.0,78.8Z" fill="#fcfb98"/>
<path d="M743.5,79.6L743.5,79.6L729.2,76.9L729.0,78.0Z" fill="#f7fdbf"/>
<path d="M743.5,79.6L743.5,79.6L729.3,76.1L729.1,77.2Z" fill="#f1ffe7"/>
<path d="M743.5,79.6L743.5,79.6L729.5,75.3L729.3,76.3Z" fill="#defdf3"/>
<path d="M743.5,79.6L743.5,79.6L729.7,74.6L729.4,75.6Z" fill="#c7fbf8"/>
<path d="M743.5,79.6L743.5,79.6L730.0,73.8L729.7,74.8Z" fill="#aff9fc"/>
<path d="M743.5,79.6L743.5,79.6L730.3,73.0L729.9,74.0Z" fill="#98f6ff"/>
<path d="M743.5,79.6L743.5,79.6L730.6,72.3L730.2,73.2Z" fill="#80f0ff"/>
<path d="M743.5,79.6L743.5,79.6L731.0,71.6L730.5,72.5Z" fill="#69ebff"/>
<path d="M743.5,79.6L743.5,79.6L731.4,70.9L730.9,71.8Z" fill="#51e5ff"/>
<path d="M743.5,79.6L743.5,79.6L731.8,70.2L731.3,71.1Z" fill="#39dfff"/>
<path d="M743.5,79.6L743.5,79.6L732.3,69.6L731.7,70.4Z" fill="#32dbff"/>
<path d="M743.5,79.6L743.5,79.6L732.8,69.0L732.2,69.8Z" fill="#2fd7ff"/>
<path d="M743.5,79.6L743.5,79.6L733.4,68.4L732.7,69.1Z" fill="#2cd3ff"/>
<path d="M743.5,79.6L743.5,79.6L733.9,67.8L733.2,68.5Z" fill="#29cfff"/>
<path d="M743.5,79.6L743.5,79.6L734.5,67.3L733.8,68.0Z" fill="#27cbff"/>
<path d="M743.5,79.6L743.5,79.6L735.1,66.8L734.3,67.4Z" fill="#24c7ff"/>
<path d="M743.5,79.6L743.5,79.6L735.7,66.4L734.9,66.9Z" fill="#21c3ff"/>
<path d="M743.5,79.6L743.5,79.6L736.4,65.9L735.6,66.5Z" fill="#1ebfff"/>
<path d="M743.5,79.6L743.5,79.6L737.1,65.6L736.2,66.1Z" fill="#1ab6ff"/>
<path d="M743.5,79.6L743.5,79.6L737.8,65.2L736.9,65.7Z" fill="#119eff"/>
<path d="M743.5,79.6L743.5,79.6L738.5,64.9L737.6,65.3Z" fill="#0886ff"/>
<path d="M743.5,79.6L743.5,79.6L739.2,64.7L738.3,65.0Z" fill="#006dfe"/>
<path d="M743.5,79.6L743.5,79.6L739.9,64.4L739.0,64.7Z" fill="#004af0"/>
<path d="M743.5,79.6L743.5,79.6L740.7,64.3L739.7,64.5Z" fill="#0027e3"/>
<path d="M743.5,79.6L743.5,79.6L741.4,64.1L740.5,64.3Z" fill="#0013c6"/>
<path d="M743.5,79.6L743.5,79.6L742.2,64.0L741.2,64.2Z" fill="#0003a6"/>
<path d="M743.5,79.6L743.5,79.6L742.9,64.0L742.0,64.0Z" fill="#d00500"/>
<path d="M743.5,79.6L743.5,79.6L743.7,64.0L742.7,64.0Z" fill="#e30c00"/>
<path d="M743.5,64.4L744.4,64.5L744.9,56.7L743.5,56.6Z" fill="#e70d00"/>
<path d="M744.2,64.4L745.2,64.5L746.0,56.8L744.6,56.6Z" fill="#f21b00"/>
<path d="M745.0,64.5L745.9,64.7L747.1,56.9L745.7,56.7Z" fill="#f63000"/>
<path d="M745.7,64.6L746.6,64.8L748.2,57.2L746.8,56.9Z" fill="#fa4600"/>
<path d="M746.4,64.8L747.3,65.0L749.3,57.5L747.9,57.1Z" fill="#fe5b00"/>
<path d="M747.2,64.9L748.0,65.2L750.4,57.8L749.0,57.4Z" fill="#ff6c00"/>
<path d="M747.9,65.2L748.7,65.5L751.4,58.2L750.1,57.7Z" fill="#ff7d00"/>
<path d="M748.6,65.4L749.4,65.8L752.5,58.7L751.2,58.1Z" fill="#ff8d00"/>
<path d="M749.2,65.7L750.1,66.2L753.5,59.3L752.2,58.6Z" fill="#ff9d00"/>
<path d="M749.9,66.1L750.7,66.6L754.5,59.8L753.2,59.1Z" fill="#ffac00"/>
<path d="M750.6,66.5L751.4,67.0L755.4,60.5L754.2,59.7Z" fill="#ffb900"/>
<path d="M751.2,66.9L752.0,67.5L756.3,61.2L755.2,60.3Z" fill="#ffc600"/>
<path d="M751.8,67.3L752.5,67.9L757.2,61.9L756.1,61.0Z" fill="#ffd200"/>
<path d="M752.4,67.8L753.1,68.5L758.0,62.7L757.0,61.7Z" fill="#ffdf00"/>
<path d="M752.9,68.3L753.6,69.0L758.8,63.6L757.8,62.5Z" fill="#ffe100"/>
<path d="M753.5,68.9L754.1,69.6L759.6,64.5L758.6,63.3Z" fill="#ffe200"/>
<path d="M754.0,69.4L754.6,70.2L760.3,65.4L759.4,64.2Z" fill="#ffe400"/>
<path d="M754.5,70.1L755.0,70.9L761.0,66.3L760.1,65.1Z" fill="#ffe500"/>
<path d="M754.9,70.7L755.4,71.5L761.6,67.3L760.8,66.1Z" fill="#ffe600"/>
<path d="M755.3,71.3L755.8,72.2L762.2,68.4L761.4,67.1Z" fill="#ffe700"/>
<path d="M755.7,72.0L756.2,72.9L762.7,69.4L762.0,68.1Z" fill="#ffe800"/>
<path d="M756.1,72.7L756.5,73.6L763.2,70.5L762.6,69.2Z" fill="#ffea00"/>
<path d="M756.4,73.4L756.7,74.4L763.6,71.7L763.0,70.2Z" fill="#ffeb00"/>
<path d="M756.7,74.2L757.0,75.1L763.9,72.8L763.5,71.4Z" fill="#ffec00"/>
<path d="M756.9,74.9L757.2,75.9L764.2,74.0L763.9,72.5Z" fill="#ffed00"/>
<path d="M757.1,75.7L757.3,76.7L764.5,75.1L764.2,73.6Z" fill="#ffee00"/>
<path d="M757.3,76.4L757.5,77.4L764.7,76.3L764.4,74.8Z" fill="#fff000"/>
<path d="M757.4,77.2L757.6,78.2L764.8,77.5L764.6,76.0Z" fill="#fff112"/>
<path d="M757.5,78.0L757.6,79.0L764.9,78.7L764.8,77.2Z" fill="#fff32b"/>
<path d="M757.6,78.8L757.6,79.8L764.9,79.9L764.9,78.4Z" fill="#fff545"/>
<path d="M757.6,79.6L757.6,80.6L764.9,81.1L764.9,79.6Z" fill="#fff75e"/>
<path d="M757.6,80.4L757.5,81.4L764.7,82.3L764.9,80.8Z" fill="#fff977"/>
<path d="M757.5,81.2L757.4,82.2L764.6,83.5L764.8,82.0Z" fill="#fcfb98"/>
<path d="M757.4,82.0L757.3,83.0L764.4,84.7L764.6,83.2Z" fill="#f7fdbb"/>
<path d="M757.3,82.8L757.1,83.7L764.1,85.9L764.4,84.4Z" fill="#f2fedf"/>
<path d="M757.1,83.5L756.9,84.5L763.8,87.0L764.2,85.6Z" fill="#e5fef2"/>
<path d="M756.9,84.3L756.6,85.2L763.4,88.1L763.9,86.7Z" fill="#d0fcf6"/>
<path d="M756.7,85.0L756.3,86.0L762.9,89.2L763.5,87.8Z" fill="#bbfafa"/>
<path d="M756.4,85.8L756.0,86.7L762.4,90.3L763.0,89.0Z" fill="#a6f8fe"/>
<path d="M756.1,86.5L755.6,87.4L761.9,91.4L762.6,90.0Z" fill="#90f4ff"/>
<path d="M755.7,87.2L755.2,88.0L761.3,92.4L762.0,91.1Z" fill="#7befff"/>
<path d="M755.3,87.9L754.8,88.7L760.6,93.4L761.4,92.1Z" fill="#65eaff"/>
<path d="M754.9,88.5L754.3,89.3L759.9,94.3L760.8,93.1Z" fill="#50e5ff"/>
<path d="M754.5,89.1L753.9,89.9L759.2,95.2L760.1,94.1Z" fill="#3be0ff"/>
<path d="M754.0,89.8L753.3,90.5L758.4,96.1L759.4,95.0Z" fill="#32dcff"/>
<path d="M753.5,90.3L752.8,91.0L757.6,96.9L758.6,95.9Z" fill="#30d8ff"/>
<path d="M752.9,90.9L752.2,91.5L756.7,97.7L757.8,96.7Z" fill="#2dd4ff"/>
<path d="M752.4,91.4L751.6,92.0L755.8,98.4L757.0,97.5Z" fill="#2bd1ff"/>
<path d="M751.8,91.9L751.0,92.4L754.9,99.1L756.1,98.2Z" fill="#28cdff"/>
<path d="M751.2,92.3L750.4,92.8L753.9,99.7L755.2,98.9Z" fill="#26caff"/>
<path d="M750.6,92.7L749.7,93.2L752.9,100.2L754.2,99.5Z" fill="#23c6ff"/>
<path d="M749.9,93.1L749.1,93.5L751.9,100.7L753.2,100.1Z" fill="#20c2ff"/>
<path d="M749.2,93.5L748.4,93.8L750.9,101.2L752.2,100.6Z" fill="#1ebfff"/>
<path d="M748.6,93.8L747.7,94.1L749.8,101.6L751.2,101.1Z" fill="#1ab7ff"/>
<path d="M747.9,94.0L747.0,94.3L748.7,101.9L750.1,101.5Z" fill="#12a1ff"/>
<path d="M747.2,94.3L746.2,94.5L747.7,102.2L749.0,101.8Z" fill="#0a8bff"/>
<path d="M746.4,94.4L745.5,94.6L746.6,102.4L747.9,102.1Z" fill="#0275ff"/>
<path d="M745.7,94.6L744.8,94.7L745.4,102.5L746.8,102.3Z" fill="#0057f5"/>
<path d="M745.0,94.7L744.0,94.8L744.3,102.6L745.7,102.5Z" fill="#0038e9"/>
<path d="M744.2,94.8L743.3,94.8L743.2,102.6L744.6,102.6Z" fill="#001cd9"/>
<path d="M743.5,94.8L742.6,94.7L742.1,102.5L743.5,102.6Z" fill="#000ebc"/>
<path d="M742.8,94.8L741.8,94.7L741.0,102.4L742.4,102.6Z" fill="#c10000"/>
<path d="M742.0,94.7L741.1,94.5L739.9,102.3L741.3,102.5Z" fill="#d60700"/>
<path d="M741.3,94.6L740.4,94.4L738.8,102.0L740.2,102.3Z" fill="#eb0e00"/>
<path d="M740.6,94.4L739.7,94.2L737.7,101.7L739.1,102.1Z" fill="#f32200"/>
<path d="M739.8,94.3L739.0,94.0L736.6,101.4L738.0,101.8Z" fill="#f83900"/>
<path d="M739.1,94.0L738.3,93.7L735.6,101.0L736.9,101.5Z" fill="#fc5100"/>
<path d="M738.4,93.8L737.6,93.4L734.5,100.5L735.8,101.1Z" fill="#ff6600"/>
<path d="M737.8,93.5L736.9,93.0L733.5,99.9L734.8,100.6Z" fill="#ff7800"/>
<path d="M737.1,93.1L736.3,92.6L732.5,99.4L733.8,100.1Z" fill="#ff8a00"/>
<path d="M736.4,92.7L735.6,92.2L731.6,98.7L732.8,99.5Z" fill="#ff9c00"/>
<path d="M735.8,92.3L735.0,91.7L730.7,98.0L731.8,98.9Z" fill="#ffad00"/>
<path d="M735.2,91.9L734.5,91.3L729.8,97.3L730.9,98.2Z" fill="#ffbb00"/>
<path d="M734.6,91.4L733.9,90.7L729.0,96.5L730.0,97.5Z" fill="#ffc900"/>
<path d="M734.1,90.9L733.4,90.2L728.2,95.6L729.2,96.7Z" fill="#ffd700"/>
<path d="M733.5,90.3L732.9,89.6L727.4,94.7L728.4,95.9Z" fill="#ffe000"/>
<path d="M733.0,89.8L732.4,89.0L726.7,93.8L727.6,95.0Z" fill="#ffe200"/>
<path d="M732.5,89.1L732.0,88.3L726.0,92.9L726.9,94.1Z" fill="#ffe300"/>
<path d="M732.1,88.5L731.6,87.7L725.4,91.9L726.2,93.1Z" fill="#ffe500"/>
<path d="M731.7,87.9L731.2,87.0L724.8,90.8L725.6,92.1Z" fill="#ffe600"/>
<path d="M731.3,87.2L730.8,86.3L724.3,89.8L725.0,91.1Z" fill="#ffe700"/>
<path d="M730.9,86.5L730.5,85.6L723.8,88.7L724.4,90.0Z" fill="#ffe900"/>
<path d="M730.6,85.8L730.3,84.8L723.4,87.5L724.0,89.0Z" fill="#ffea00"/>
<path d="M730.3,85.0L730.0,84.1L723.1,86.4L723.5,87.8Z" fill="#ffeb00"/>
<path d="M730.1,84.3L729.8,83.3L722.8,85.2L723.1,86.7Z" fill="#ffed00"/>
<path d="M729.9,83.5L729.7,82.5L722.5,84.1L722.8,85.6Z" fill="#ffee00"/>
<path d="M729.7,82.8L729.5,81.8L722.3,82.9L722.6,84.4Z" fill="#ffef00"/>
<path d="M729.6,82.0L729.4,81.0L722.2,81.7L722.4,83.2Z" fill="#fff10b"/>
<path d="M729.5,81.2L729.4,80.2L722.1,80.5L722.2,82.0Z" fill="#fff327"/>
<path d="M729.4,80.4L729.4,79.4L722.1,79.3L722.1,80.8Z" fill="#fff543"/>
<path d="M729.4,79.6L729.4,78.6L722.1,78.1L722.1,79.6Z" fill="#fff760"/>
<path d="M729.4,78.8L729.5,77.8L722.3,76.9L722.1,78.4Z" fill="#fffa7c"/>
<path d="M729.5,78.0L729.6,77.0L722.4,75.7L722.2,77.2Z" fill="#fbfba1"/>
<path d="M729.6,77.2L729.7,76.2L722.6,74.5L722.4,76.0Z" fill="#f5fdc8"/>
<path d="M729.7,76.4L729.9,75.5L722.9,73.3L722.6,74.8Z" fill="#f0fff0"/>
<path d="M729.9,75.7L730.1,74.7L723.2,72.2L722.8,73.6Z" fill="#d9fdf4"/>
<path d="M730.1,74.9L730.4,74.0L723.6,71.1L723.1,72.5Z" fill="#c1fbf9"/>
<path d="M730.3,74.2L730.7,73.2L724.1,70.0L723.5,71.4Z" fill="#aaf9fd"/>
<path d="M730.6,73.4L731.0,72.5L724.6,68.9L724.0,70.2Z" fill="#92f5ff"/>
<path d="M730.9,72.7L731.4,71.8L725.1,67.8L724.4,69.2Z" fill="#7befff"/>
<path d="M731.3,72.0L731.8,71.2L725.7,66.8L725.0,68.1Z" fill="#63e9ff"/>
<path d="M731.7,71.3L732.2,70.5L726.4,65.8L725.6,67.1Z" fill="#4be4ff"/>
<path d="M732.1,70.7L732.7,69.9L727.1,64.9L726.2,66.1Z" fill="#34deff"/>
<path d="M732.5,70.1L733.1,69.3L727.8,64.0L726.9,65.1Z" fill="#31daff"/>
<path d="M733.0,69.4L733.7,68.7L728.6,63.1L727.6,64.2Z" fill="#2ed6ff"/>
<path d="M733.5,68.9L734.2,68.2L729.4,62.3L728.4,63.3Z" fill="#2cd2ff"/>
<path d="M734.1,68.3L734.8,67.7L730.3,61.5L729.2,62.5Z" fill="#29ceff"/>
<path d="M734.6,67.8L735.4,67.2L731.2,60.8L730.0,61.7Z" fill="#26caff"/>
<path d="M735.2,67.3L736.0,66.8L732.1,60.1L730.9,61.0Z" fill="#23c6ff"/>
<path d="M735.8,66.9L736.6,66.4L733.1,59.5L731.8,60.3Z" fill="#20c2ff"/>
<path d="M736.4,66.5L737.3,66.0L734.1,59.0L732.8,59.7Z" fill="#1ebeff"/>
<path d="M737.1,66.1L737.9,65.7L735.1,58.5L733.8,59.1Z" fill="#18b1ff"/>
<path d="M737.8,65.7L738.6,65.4L736.1,58.0L734.8,58.6Z" fill="#0f99ff"/>
<path d="M738.4,65.4L739.3,65.1L737.2,57.6L735.8,58.1Z" fill="#0680ff"/>
<path d="M739.1,65.2L740.0,64.9L738.3,57.3L736.9,57.7Z" fill="#0065fb"/>
<path d="M739.8,64.9L740.8,64.7L739.3,57.0L738.0,57.4Z" fill="#0041ed"/>
<path d="M740.6,64.8L741.5,64.6L740.4,56.8L739.1,57.1Z" fill="#001fde"/>
<path d="M741.3,64.6L742.2,64.5L741.6,56.7L740.2,56.9Z" fill="#000fbe"/>
<path d="M742.0,64.5L743.0,64.4L742.7,56.6L741.3,56.7Z" fill="#c10000"/>
<path d="M742.8,64.4L743.7,64.4L743.8,56.6L742.4,56.6Z" fill="#d40700"/>
<path d="M743.5,57.3L744.9,57.3L745.4,49.3L743.5,49.2Z" fill="#e70d00"/>
<path d="M744.6,57.3L746.0,57.4L746.8,49.5L745.0,49.3Z" fill="#f21b00"/>
<path d="M745.7,57.4L747.0,57.6L748.3,49.7L746.5,49.4Z" fill="#f63000"/>
<path d="M746.7,57.6L748.1,57.8L749.8,50.0L747.9,49.6Z" fill="#fa4600"/>
<path d="M747.8,57.8L749.2,58.1L751.2,50.4L749.4,49.9Z" fill="#fe5b00"/>
<path d="M748.9,58.1L750.2,58.5L752.6,50.9L750.8,50.3Z" fill="#ff6c00"/>
<path d="M749.9,58.4L751.2,58.9L754.0,51.4L752.2,50.7Z" fill="#ff7d00"/>
<path d="M750.9,58.8L752.2,59.3L755.3,52.0L753.6,51.3Z" fill="#ff8d00"/>
<path d="M751.9,59.2L753.2,59.9L756.7,52.7L755.0,51.9Z" fill="#ff9d00"/>
<path d="M752.9,59.7L754.1,60.4L758.0,53.5L756.3,52.5Z" fill="#ffac00"/>
<path d="M753.9,60.3L755.0,61.1L759.2,54.4L757.6,53.3Z" fill="#ffb900"/>
<path d="M754.8,60.9L755.9,61.7L760.4,55.3L758.9,54.1Z" fill="#ffc600"/>
<path d="M755.7,61.6L756.8,62.5L761.6,56.3L760.1,55.0Z" fill="#ffd200"/>
<path d="M756.6,62.3L757.6,63.2L762.7,57.3L761.3,56.0Z" fill="#ffdf00"/>
<path d="M757.4,63.0L758.4,64.0L763.8,58.4L762.4,57.0Z" fill="#ffe100"/>
<path d="M758.2,63.8L759.1,64.9L764.8,59.6L763.5,58.1Z" fill="#ffe200"/>
<path d="M758.9,64.7L759.8,65.8L765.7,60.8L764.5,59.3Z" fill="#ffe400"/>
<path d="M759.6,65.6L760.5,66.7L766.6,62.1L765.5,60.5Z" fill="#ffe500"/>
<path d="M760.3,66.5L761.1,67.7L767.4,63.4L766.4,61.8Z" fill="#ffe600"/>
<path d="M760.9,67.4L761.6,68.7L768.2,64.8L767.2,63.1Z" fill="#ffe700"/>
<path d="M761.5,68.4L762.1,69.8L768.8,66.2L768.0,64.4Z" fill="#ffe800"/>
<path d="M762.0,69.5L762.6,70.8L769.5,67.6L768.7,65.8Z" fill="#ffea00"/>
<path d="M762.5,70.5L763.0,71.9L770.0,69.1L769.3,67.3Z" fill="#ffeb00"/>
<path d="M762.9,71.6L763.3,73.0L770.5,70.6L769.9,68.7Z" fill="#ffec00"/>
<path d="M763.2,72.7L763.6,74.1L770.9,72.2L770.4,70.2Z" fill="#ffed00"/>
<path d="M763.6,73.8L763.9,75.3L771.2,73.7L770.8,71.7Z" fill="#ffee00"/>
<path d="M763.8,75.0L764.0,76.4L771.5,75.3L771.1,73.3Z" fill="#fff000"/>
<path d="M764.0,76.1L764.2,77.6L771.6,76.8L771.4,74.9Z" fill="#fff112"/>
<path d="M764.1,77.3L764.2,78.7L771.7,78.4L771.6,76.4Z" fill="#fff32b"/>
<path d="M764.2,78.4L764.3,79.9L771.7,80.0L771.7,78.0Z" fill="#fff545"/>
<path d="M764.3,79.6L764.2,81.1L771.7,81.6L771.7,79.6Z" fill="#fff75e"/>
<path d="M764.2,80.8L764.1,82.2L771.5,83.2L771.7,81.2Z" fill="#fff977"/>
<path d="M764.1,81.9L764.0,83.4L771.3,84.8L771.6,82.8Z" fill="#fcfb98"/>
<path d="M764.0,83.1L763.7,84.5L771.0,86.3L771.4,84.3Z" fill="#f7fdbb"/>
<path d="M763.8,84.2L763.5,85.7L770.7,87.9L771.1,85.9Z" fill="#f2fedf"/>
<path d="M763.6,85.4L763.2,86.8L770.2,89.4L770.8,87.5Z" fill="#e5fef2"/>
<path d="M763.2,86.5L762.8,87.9L769.7,90.9L770.4,89.0Z" fill="#d0fcf6"/>
<path d="M762.9,87.6L762.3,89.0L769.1,92.3L769.9,90.5Z" fill="#bbfafa"/>
<path d="M762.5,88.7L761.9,90.0L768.5,93.8L769.3,91.9Z" fill="#a6f8fe"/>
<path d="M762.0,89.7L761.3,91.0L767.8,95.1L768.7,93.4Z" fill="#90f4ff"/>
<path d="M761.5,90.8L760.7,92.0L767.0,96.5L768.0,94.8Z" fill="#7befff"/>
<path d="M760.9,91.8L760.1,93.0L766.1,97.8L767.2,96.1Z" fill="#65eaff"/>
<path d="M760.3,92.7L759.4,93.9L765.2,99.0L766.4,97.4Z" fill="#50e5ff"/>
<path d="M759.6,93.6L758.7,94.8L764.2,100.2L765.5,98.7Z" fill="#3be0ff"/>
<path d="M758.9,94.5L758.0,95.6L763.2,101.4L764.5,99.9Z" fill="#32dcff"/>
<path d="M758.2,95.4L757.2,96.4L762.1,102.4L763.5,101.1Z" fill="#30d8ff"/>
<path d="M757.4,96.2L756.3,97.1L761.0,103.5L762.4,102.2Z" fill="#2dd4ff"/>
<path d="M756.6,96.9L755.5,97.8L759.8,104.4L761.3,103.2Z" fill="#2bd1ff"/>
<path d="M755.7,97.6L754.6,98.5L758.6,105.3L760.1,104.2Z" fill="#28cdff"/>
<path d="M754.8,98.3L753.6,99.1L757.3,106.1L758.9,105.1Z" fill="#26caff"/>
<path d="M753.9,98.9L752.7,99.6L756.0,106.8L757.6,105.9Z" fill="#23c6ff"/>
<path d="M752.9,99.5L751.7,100.1L754.6,107.5L756.3,106.7Z" fill="#20c2ff"/>
<path d="M751.9,100.0L750.7,100.5L753.3,108.1L755.0,107.3Z" fill="#1ebfff"/>
<path d="M750.9,100.4L749.6,100.9L751.9,108.6L753.6,107.9Z" fill="#1ab7ff"/>
<path d="M749.9,100.8L748.6,101.2L750.4,109.0L752.2,108.5Z" fill="#12a1ff"/>
<path d="M748.9,101.1L747.5,101.5L749.0,109.4L750.8,108.9Z" fill="#0a8bff"/>
<path d="M747.8,101.4L746.5,101.7L747.5,109.6L749.4,109.3Z" fill="#0275ff"/>
<path d="M746.7,101.6L745.4,101.8L746.1,109.8L747.9,109.6Z" fill="#0057f5"/>
<path d="M745.7,101.8L744.3,101.9L744.6,109.9L746.5,109.8Z" fill="#0038e9"/>
<path d="M744.6,101.9L743.2,101.9L743.1,110.0L745.0,109.9Z" fill="#001cd9"/>
<path d="M743.5,101.9L742.1,101.9L741.6,109.9L743.5,110.0Z" fill="#000ebc"/>
<path d="M742.4,101.9L741.0,101.8L740.2,109.7L742.0,109.9Z" fill="#c10000"/>
<path d="M741.3,101.8L740.0,101.6L738.7,109.5L740.5,109.8Z" fill="#d60700"/>
<path d="M740.3,101.6L738.9,101.4L737.2,109.2L739.1,109.6Z" fill="#eb0e00"/>
<path d="M739.2,101.4L737.8,101.1L735.8,108.8L737.6,109.3Z" fill="#f32200"/>
<path d="M738.1,101.1L736.8,100.7L734.4,108.3L736.2,108.9Z" fill="#f83900"/>
<path d="M737.1,100.8L735.8,100.3L733.0,107.8L734.8,108.5Z" fill="#fc5100"/>
<path d="M736.1,100.4L734.8,99.9L731.7,107.2L733.4,107.9Z" fill="#ff6600"/>
<path d="M735.1,100.0L733.8,99.3L730.3,106.5L732.0,107.3Z" fill="#ff7800"/>
<path d="M734.1,99.5L732.9,98.8L729.0,105.7L730.7,106.7Z" fill="#ff8a00"/>
<path d="M733.1,98.9L732.0,98.1L727.8,104.8L729.4,105.9Z" fill="#ff9c00"/>
<path d="M732.2,98.3L731.1,97.5L726.6,103.9L728.1,105.1Z" fill="#ffad00"/>
<path d="M731.3,97.6L730.2,96.7L725.4,102.9L726.9,104.2Z" fill="#ffbb00"/>
<path d="M730.4,96.9L729.4,96.0L724.3,101.9L725.7,103.2Z" fill="#ffc900"/>
<path d="M729.6,96.2L728.6,95.2L723.2,100.8L724.6,102.2Z" fill="#ffd700"/>
<path d="M728.8,95.4L727.9,94.3L722.2,99.6L723.5,101.1Z" fill="#ffe000"/>
<path d="M728.1,94.5L727.2,93.4L721.3,98.4L722.5,99.9Z" fill="#ffe200"/>
<path d="M727.4,93.6L726.5,92.5L720.4,97.1L721.5,98.7Z" fill="#ffe300"/>
<path d="M726.7,92.7L725.9,91.5L719.6,95.8L720.6,97.4Z" fill="#ffe500"/>
<path d="M726.1,91.8L725.4,90.5L718.8,94.4L719.8,96.1Z" fill="#ffe600"/>
<path d="M725.5,90.8L724.9,89.4L718.2,93.0L719.0,94.8Z" fill="#ffe700"/>
<path d="M725.0,89.7L724.4,88.4L717.5,91.6L718.3,93.4Z" fill="#ffe900"/>
<path d="M724.5,88.7L724.0,87.3L717.0,90.1L717.7,91.9Z" fill="#ffea00"/>
<path d="M724.1,87.6L723.7,86.2L716.5,88.6L717.1,90.5Z" fill="#ffeb00"/>
<path d="M723.8,86.5L723.4,85.1L716.1,87.0L716.6,89.0Z" fill="#ffed00"/>
<path d="M723.4,85.4L723.1,83.9L715.8,85.5L716.2,87.5Z" fill="#ffee00"/>
<path d="M723.2,84.2L723.0,82.8L715.5,83.9L715.9,85.9Z" fill="#ffef00"/>
<path d="M723.0,83.1L722.8,81.6L715.4,82.4L715.6,84.3Z" fill="#fff10b"/>
<path d="M722.9,81.9L722.8,80.5L715.3,80.8L715.4,82.8Z" fill="#fff327"/>
<path d="M722.8,80.8L722.7,79.3L715.3,79.2L715.3,81.2Z" fill="#fff543"/>
<path d="M722.7,79.6L722.8,78.1L715.3,77.6L715.3,79.6Z" fill="#fff760"/>
<path d="M722.8,78.4L722.9,77.0L715.5,76.0L715.3,78.0Z" fill="#fffa7c"/>
<path d="M722.9,77.3L723.0,75.8L715.7,74.4L715.4,76.4Z" fill="#fbfba1"/>
<path d="M723.0,76.1L723.3,74.7L716.0,72.9L715.6,74.9Z" fill="#f5fdc8"/>
<path d="M723.2,75.0L723.5,73.5L716.3,71.3L715.9,73.3Z" fill="#f0fff0"/>
<path d="M723.4,73.8L723.8,72.4L716.8,69.8L716.2,71.7Z" fill="#d9fdf4"/>
<path d="M723.8,72.7L724.2,71.3L717.3,68.3L716.6,70.2Z" fill="#c1fbf9"/>
<path d="M724.1,71.6L724.7,70.2L717.9,66.9L717.1,68.7Z" fill="#aaf9fd"/>
<path d="M724.5,70.5L725.1,69.2L718.5,65.4L717.7,67.3Z" fill="#92f5ff"/>
<path d="M725.0,69.5L725.7,68.2L719.2,64.1L718.3,65.8Z" fill="#7befff"/>
<path d="M725.5,68.4L726.3,67.2L720.0,62.7L719.0,64.4Z" fill="#63e9ff"/>
<path d="M726.1,67.4L726.9,66.2L720.9,61.4L719.8,63.1Z" fill="#4be4ff"/>
<path d="M726.7,66.5L727.6,65.3L721.8,60.2L720.6,61.8Z" fill="#34deff"/>
<path d="M727.4,65.6L728.3,64.4L722.8,59.0L721.5,60.5Z" fill="#31daff"/>
<path d="M728.1,64.7L729.0,63.6L723.8,57.8L722.5,59.3Z" fill="#2ed6ff"/>
<path d="M728.8,63.8L729.8,62.8L724.9,56.8L723.5,58.1Z" fill="#2cd2ff"/>
<path d="M729.6,63.0L730.7,62.1L726.0,55.7L724.6,57.0Z" fill="#29ceff"/>
<path d="M730.4,62.3L731.5,61.4L727.2,54.8L725.7,56.0Z" fill="#26caff"/>
<path d="M731.3,61.6L732.4,60.7L728.4,53.9L726.9,55.0Z" fill="#23c6ff"/>
<path d="M732.2,60.9L733.4,60.1L729.7,53.1L728.1,54.1Z" fill="#20c2ff"/>
<path d="M733.1,60.3L734.3,59.6L731.0,52.4L729.4,53.3Z" fill="#1ebeff"/>
<path d="M734.1,59.7L735.3,59.1L732.4,51.7L730.7,52.5Z" fill="#18b1ff"/>
<path d="M735.1,59.2L736.3,58.7L733.7,51.1L732.0,51.9Z" fill="#0f99ff"/>
<path d="M736.1,58.8L737.4,58.3L735.1,50.6L733.4,51.3Z" fill="#0680ff"/>
<path d="M737.1,58.4L738.4,58.0L736.6,50.2L734.8,50.7Z" fill="#0065fb"/>
<path d="M738.1,58.1L739.5,57.7L738.0,49.8L736.2,50.3Z" fill="#0041ed"/>
<path d="M739.2,57.8L740.5,57.5L739.5,49.6L737.6,49.9Z" fill="#001fde"/>
<path d="M740.3,57.6L741.6,57.4L740.9,49.4L739.1,49.6Z" fill="#000fbe"/>
<path d="M741.3,57.4L742.7,57.3L742.4,49.3L740.5,49.4Z" fill="#c10000"/>
<path d="M742.4,57.3L743.8,57.3L743.9,49.2L742.0,49.3Z" fill="#d40700"/>
<path d="M743.5,50.2L745.3,50.2L745.9,41.0L743.5,41.0Z" fill="#ef1000"/>
<path d="M744.9,50.2L746.7,50.4L747.8,41.2L745.4,41.0Z" fill="#f42400"/>
<path d="M746.4,50.3L748.2,50.6L749.6,41.5L747.3,41.2Z" fill="#f83a00"/>
<path d="M747.8,50.5L749.6,50.9L751.5,41.9L749.1,41.4Z" fill="#fc4f00"/>
<path d="M749.2,50.8L751.0,51.3L753.3,42.4L751.0,41.8Z" fill="#ff6300"/>
<path d="M750.6,51.2L752.3,51.7L755.1,43.0L752.8,42.3Z" fill="#ff7300"/>
<path d="M752.0,51.6L753.7,52.3L756.9,43.7L754.6,42.9Z" fill="#ff8400"/>
<path d="M753.3,52.1L755.0,52.9L758.6,44.5L756.4,43.5Z" fill="#ff9400"/>
<path d="M754.6,52.7L756.3,53.5L760.3,45.4L758.1,44.3Z" fill="#ffa400"/>
<path d="M755.9,53.4L757.5,54.3L761.9,46.4L759.8,45.2Z" fill="#ffb200"/>
<path d="M757.2,54.1L758.7,55.1L763.5,47.5L761.5,46.1Z" fill="#ffbf00"/>
<path d="M758.4,54.9L759.9,56.0L765.0,48.7L763.1,47.2Z" fill="#ffcb00"/>
<path d="M759.6,55.8L761.0,57.0L766.5,49.9L764.6,48.3Z" fill="#ffd800"/>
<path d="M760.7,56.7L762.1,58.0L767.9,51.2L766.1,49.6Z" fill="#ffe000"/>
<path d="M761.8,57.7L763.1,59.1L769.3,52.7L767.6,50.9Z" fill="#ffe200"/>
<path d="M762.9,58.8L764.1,60.2L770.6,54.1L768.9,52.3Z" fill="#ffe300"/>
<path d="M763.9,59.9L765.0,61.4L771.8,55.7L770.2,53.7Z" fill="#ffe400"/>
<path d="M764.8,61.1L765.9,62.6L772.9,57.3L771.4,55.3Z" fill="#ffe500"/>
<path d="M765.7,62.3L766.7,63.9L773.9,59.0L772.6,56.9Z" fill="#ffe600"/>
<path d="M766.5,63.6L767.4,65.2L774.9,60.7L773.7,58.6Z" fill="#ffe800"/>
<path d="M767.2,64.9L768.1,66.6L775.8,62.5L774.6,60.3Z" fill="#ffe900"/>
<path d="M767.9,66.2L768.7,68.0L776.5,64.4L775.5,62.1Z" fill="#ffea00"/>
<path d="M768.5,67.6L769.2,69.4L777.2,66.3L776.3,63.9Z" fill="#ffeb00"/>
<path d="M769.1,69.0L769.7,70.9L777.8,68.2L777.1,65.8Z" fill="#ffed00"/>
<path d="M769.6,70.5L770.1,72.4L778.4,70.1L777.7,67.7Z" fill="#ffee00"/>
<path d="M770.0,72.0L770.4,73.9L778.8,72.1L778.2,69.6Z" fill="#ffef00"/>
<path d="M770.3,73.5L770.6,75.4L779.1,74.1L778.7,71.6Z" fill="#fff004"/>
<path d="M770.6,75.0L770.8,76.9L779.3,76.1L779.0,73.6Z" fill="#fff21d"/>
<path d="M770.8,76.5L770.9,78.5L779.4,78.1L779.3,75.6Z" fill="#fff436"/>
<path d="M770.9,78.1L770.9,80.0L779.4,80.1L779.4,77.6Z" fill="#fff650"/>
<path d="M770.9,79.6L770.8,81.6L779.4,82.2L779.5,79.6Z" fill="#fff869"/>
<path d="M770.9,81.1L770.7,83.1L779.2,84.2L779.4,81.6Z" fill="#fffa83"/>
<path d="M770.8,82.7L770.5,84.6L778.9,86.2L779.3,83.6Z" fill="#fafca7"/>
<path d="M770.6,84.2L770.2,86.1L778.6,88.2L779.0,85.6Z" fill="#f5fdcb"/>
<path d="M770.3,85.7L769.9,87.6L778.1,90.1L778.7,87.6Z" fill="#f0ffee"/>
<path d="M770.0,87.2L769.4,89.1L777.5,92.1L778.2,89.6Z" fill="#dcfdf4"/>
<path d="M769.6,88.7L768.9,90.5L776.9,93.9L777.7,91.5Z" fill="#c7fbf8"/>
<path d="M769.1,90.2L768.4,92.0L776.1,95.8L777.1,93.4Z" fill="#b2fafc"/>
<path d="M768.5,91.6L767.7,93.3L775.3,97.6L776.3,95.3Z" fill="#9cf7ff"/>
<path d="M767.9,93.0L767.0,94.7L774.4,99.4L775.5,97.1Z" fill="#87f2ff"/>
<path d="M767.2,94.3L766.3,96.0L773.4,101.1L774.6,98.9Z" fill="#72edff"/>
<path d="M766.5,95.6L765.4,97.2L772.3,102.7L773.7,100.6Z" fill="#5ce8ff"/>
<path d="M765.7,96.9L764.6,98.5L771.1,104.3L772.6,102.3Z" fill="#47e2ff"/>
<path d="M764.8,98.1L763.6,99.6L769.9,105.9L771.4,103.9Z" fill="#34deff"/>
<path d="M763.9,99.3L762.6,100.7L768.6,107.3L770.2,105.5Z" fill="#31daff"/>
<path d="M762.9,100.4L761.5,101.8L767.2,108.7L768.9,106.9Z" fill="#2fd6ff"/>
<path d="M761.8,101.5L760.4,102.7L765.7,110.0L767.6,108.3Z" fill="#2cd3ff"/>
<path d="M760.7,102.5L759.3,103.7L764.2,111.2L766.1,109.6Z" fill="#2acfff"/>
<path d="M759.6,103.4L758.1,104.5L762.7,112.3L764.6,110.9Z" fill="#27ccff"/>
<path d="M758.4,104.3L756.9,105.3L761.0,113.3L763.1,112.0Z" fill="#24c8ff"/>
<path d="M757.2,105.1L755.6,106.0L759.4,114.3L761.5,113.1Z" fill="#22c4ff"/>
<path d="M755.9,105.8L754.3,106.7L757.7,115.1L759.8,114.0Z" fill="#1fc1ff"/>
<path d="M754.6,106.5L753.0,107.2L755.9,115.9L758.1,114.9Z" fill="#1dbdff"/>
<path d="M753.3,107.1L751.6,107.7L754.1,116.5L756.4,115.7Z" fill="#17adff"/>
<path d="M752.0,107.6L750.2,108.1L752.3,117.1L754.6,116.3Z" fill="#0e97ff"/>
<path d="M750.6,108.0L748.8,108.5L750.5,117.5L752.8,116.9Z" fill="#0681ff"/>
<path d="M749.2,108.4L747.4,108.7L748.6,117.8L751.0,117.4Z" fill="#0069fc"/>
<path d="M747.8,108.7L746.0,108.9L746.8,118.1L749.1,117.8Z" fill="#0049f0"/>
<path d="M746.4,108.9L744.6,109.0L744.9,118.2L747.3,118.0Z" fill="#002ae4"/>
<path d="M744.9,109.0L743.1,109.0L743.0,118.2L745.4,118.2Z" fill="#0016cc"/>
<path d="M743.5,109.0L741.7,109.0L741.1,118.2L743.5,118.2Z" fill="#0007af"/>
<path d="M742.1,109.0L740.3,108.8L739.2,118.0L741.6,118.2Z" fill="#ca0300"/>
<path d="M740.6,108.9L738.8,108.6L737.4,117.7L739.7,118.0Z" fill="#df0a00"/>
<path d="M739.2,108.7L737.4,108.3L735.5,117.3L737.9,117.8Z" fill="#f11500"/>
<path d="M737.8,108.4L736.0,107.9L733.7,116.8L736.0,117.4Z" fill="#f52c00"/>
<path d="M736.4,108.0L734.7,107.5L731.9,116.2L734.2,116.9Z" fill="#fa4400"/>
<path d="M735.0,107.6L733.3,106.9L730.1,115.5L732.4,116.3Z" fill="#fe5b00"/>
<path d="M733.7,107.1L732.0,106.3L728.4,114.7L730.6,115.7Z" fill="#ff6e00"/>
<path d="M732.4,106.5L730.7,105.7L726.7,113.8L728.9,114.9Z" fill="#ff8000"/>
<path d="M731.1,105.8L729.5,104.9L725.1,112.8L727.2,114.0Z" fill="#ff9200"/>
<path d="M729.8,105.1L728.3,104.1L723.5,111.7L725.5,113.1Z" fill="#ffa400"/>
<path d="M728.6,104.3L727.1,103.2L722.0,110.5L723.9,112.0Z" fill="#ffb300"/>
<path d="M727.4,103.4L726.0,102.2L720.5,109.3L722.4,110.9Z" fill="#ffc100"/>
<path d="M726.3,102.5L724.9,101.2L719.1,108.0L720.9,109.6Z" fill="#ffcf00"/>
<path d="M725.2,101.5L723.9,100.1L717.7,106.5L719.4,108.3Z" fill="#ffdd00"/>
<path d="M724.1,100.4L722.9,99.0L716.4,105.1L718.1,106.9Z" fill="#ffe100"/>
<path d="M723.1,99.3L722.0,97.8L715.2,103.5L716.8,105.5Z" fill="#ffe200"/>
<path d="M722.2,98.1L721.1,96.6L714.1,101.9L715.6,103.9Z" fill="#ffe400"/>
<path d="M721.3,96.9L720.3,95.3L713.1,100.2L714.4,102.3Z" fill="#ffe500"/>
<path d="M720.5,95.6L719.6,94.0L712.1,98.5L713.3,100.6Z" fill="#ffe600"/>
<path d="M719.8,94.3L718.9,92.6L711.2,96.7L712.4,98.9Z" fill="#ffe800"/>
<path d="M719.1,93.0L718.3,91.2L710.5,94.8L711.5,97.1Z" fill="#ffe900"/>
<path d="M718.5,91.6L717.8,89.8L709.8,92.9L710.7,95.3Z" fill="#ffea00"/>
<path d="M717.9,90.2L717.3,88.3L709.2,91.0L709.9,93.4Z" fill="#ffec00"/>
<path d="M717.4,88.7L716.9,86.8L708.6,89.1L709.3,91.5Z" fill="#ffed00"/>
<path d="M717.0,87.2L716.6,85.3L708.2,87.1L708.8,89.6Z" fill="#ffee00"/>
<path d="M716.7,85.7L716.4,83.8L707.9,85.1L708.3,87.6Z" fill="#fff000"/>
<path d="M716.4,84.2L716.2,82.3L707.7,83.1L708.0,85.6Z" fill="#fff218"/>
<path d="M716.2,82.7L716.1,80.7L707.6,81.1L707.7,83.6Z" fill="#fff434"/>
<path d="M716.1,81.1L716.1,79.2L707.6,79.1L707.6,81.6Z" fill="#fff650"/>
<path d="M716.1,79.6L716.2,77.6L707.6,77.0L707.5,79.6Z" fill="#fff86c"/>
<path d="M716.1,78.1L716.3,76.1L707.8,75.0L707.6,77.6Z" fill="#fefa8b"/>
<path d="M716.2,76.5L716.5,74.6L708.1,73.0L707.7,75.6Z" fill="#f8fcb2"/>
<path d="M716.4,75.0L716.8,73.1L708.4,71.0L708.0,73.6Z" fill="#f3feda"/>
<path d="M716.7,73.5L717.1,71.6L708.9,69.1L708.3,71.6Z" fill="#e6fef2"/>
<path d="M717.0,72.0L717.6,70.1L709.5,67.1L708.8,69.6Z" fill="#cffcf6"/>
<path d="M717.4,70.5L718.1,68.7L710.1,65.3L709.3,67.7Z" fill="#b7fafb"/>
<path d="M717.9,69.0L718.6,67.2L710.9,63.4L709.9,65.8Z" fill="#a0f8ff"/>
<path d="M718.5,67.6L719.3,65.9L711.7,61.6L710.7,63.9Z" fill="#88f2ff"/>
<path d="M719.1,66.2L720.0,64.5L712.6,59.8L711.5,62.1Z" fill="#70edff"/>
<path d="M719.8,64.9L720.7,63.2L713.6,58.1L712.4,60.3Z" fill="#59e7ff"/>
<path d="M720.5,63.6L721.6,62.0L714.7,56.5L713.3,58.6Z" fill="#41e1ff"/>
<path d="M721.3,62.3L722.4,60.7L715.9,54.9L714.4,56.9Z" fill="#33dcff"/>
<path d="M722.2,61.1L723.4,59.6L717.1,53.3L715.6,55.3Z" fill="#30d8ff"/>
<path d="M723.1,59.9L724.4,58.5L718.4,51.9L716.8,53.7Z" fill="#2dd4ff"/>
<path d="M724.1,58.8L725.5,57.4L719.8,50.5L718.1,52.3Z" fill="#2ad0ff"/>
<path d="M725.2,57.7L726.6,56.5L721.3,49.2L719.4,50.9Z" fill="#28ccff"/>
<path d="M726.3,56.7L727.7,55.5L722.8,48.0L720.9,49.6Z" fill="#25c8ff"/>
<path d="M727.4,55.8L728.9,54.7L724.3,46.9L722.4,48.3Z" fill="#22c4ff"/>
<path d="M728.6,54.9L730.1,53.9L726.0,45.9L723.9,47.2Z" fill="#1fc0ff"/>
<path d="M729.8,54.1L731.4,53.2L727.6,44.9L725.5,46.1Z" fill="#1cbcff"/>
<path d="M731.1,53.4L732.7,52.5L729.3,44.1L727.2,45.2Z" fill="#14a6ff"/>
<path d="M732.4,52.7L734.0,52.0L731.1,43.3L728.9,44.3Z" fill="#0b8eff"/>
<path d="M733.7,52.1L735.4,51.5L732.9,42.7L730.6,43.5Z" fill="#0276ff"/>
<path d="M735.0,51.6L736.8,51.1L734.7,42.1L732.4,42.9Z" fill="#0055f5"/>
<path d="M736.4,51.2L738.2,50.7L736.5,41.7L734.2,42.3Z" fill="#0032e7"/>
<path d="M737.8,50.8L739.6,50.5L738.4,41.4L736.0,41.8Z" fill="#0018d1"/>
<path d="M739.2,50.5L741.0,50.3L740.2,41.1L737.9,41.4Z" fill="#0008b0"/>
<path d="M740.6,50.3L742.4,50.2L742.1,41.0L739.7,41.2Z" fill="#c90300"/>
<path d="M742.1,50.2L743.9,50.2L744.0,41.0L741.6,41.0Z" fill="#dc0900"/>
<path d="M743.5,42.1L745.8,42.2L746.6,30.0L743.5,29.9Z" fill="#f42400"/>
<path d="M745.3,42.2L747.6,42.4L749.0,30.3L745.9,30.0Z" fill="#f83900"/>
<path d="M747.1,42.3L749.4,42.7L751.4,30.6L748.3,30.2Z" fill="#fc4e00"/>
<path d="M749.0,42.6L751.2,43.1L753.7,31.2L750.7,30.5Z" fill="#ff6300"/>
<path d="M750.8,42.9L753.0,43.5L756.1,31.8L753.1,31.0Z" fill="#ff7300"/>
<path d="M752.5,43.4L754.7,44.1L758.4,32.6L755.5,31.6Z" fill="#ff8300"/>
<path d="M754.3,44.0L756.5,44.8L760.7,33.5L757.8,32.4Z" fill="#ff9400"/>
<path d="M756.0,44.6L758.1,45.6L762.9,34.5L760.1,33.2Z" fill="#ffa400"/>
<path d="M757.7,45.4L759.8,46.4L765.1,35.7L762.3,34.2Z" fill="#ffb100"/>
<path d="M759.3,46.2L761.4,47.4L767.2,36.9L764.5,35.3Z" fill="#ffbe00"/>
<path d="M760.9,47.1L762.9,48.5L769.2,38.3L766.6,36.6Z" fill="#ffcb00"/>
<path d="M762.5,48.2L764.4,49.6L771.2,39.8L768.7,37.9Z" fill="#ffd800"/>
<path d="M764.0,49.3L765.8,50.8L773.1,41.4L770.7,39.4Z" fill="#ffe000"/>
<path d="M765.4,50.5L767.2,52.1L774.9,43.1L772.6,41.0Z" fill="#ffe200"/>
<path d="M766.8,51.7L768.5,53.5L776.6,45.0L774.4,42.7Z" fill="#ffe300"/>
<path d="M768.2,53.1L769.7,54.9L778.3,46.9L776.2,44.5Z" fill="#ffe400"/>
<path d="M769.4,54.5L770.9,56.4L779.8,48.9L777.9,46.4Z" fill="#ffe500"/>
<path d="M770.6,56.0L772.0,58.0L781.3,51.0L779.4,48.3Z" fill="#ffe600"/>
<path d="M771.7,57.6L773.0,59.6L782.6,53.1L780.9,50.4Z" fill="#ffe800"/>
<path d="M772.7,59.2L773.9,61.3L783.8,55.4L782.3,52.5Z" fill="#ffe900"/>
<path d="M773.7,60.9L774.8,63.1L785.0,57.7L783.5,54.8Z" fill="#ffea00"/>
<path d="M774.6,62.6L775.6,64.8L786.0,60.0L784.7,57.0Z" fill="#ffeb00"/>
<path d="M775.4,64.4L776.2,66.7L786.9,62.4L785.7,59.4Z" fill="#ffed00"/>
<path d="M776.1,66.2L776.8,68.5L787.7,64.9L786.7,61.8Z" fill="#ffee00"/>
<path d="M776.7,68.0L777.3,70.4L788.3,67.4L787.5,64.2Z" fill="#ffef00"/>
<path d="M777.2,69.9L777.7,72.3L788.8,70.0L788.1,66.7Z" fill="#fff003"/>
<path d="M777.6,71.8L778.0,74.3L789.3,72.5L788.7,69.3Z" fill="#fff21c"/>
<path d="M777.9,73.7L778.2,76.2L789.5,75.1L789.2,71.8Z" fill="#fff436"/>
<path d="M778.2,75.7L778.3,78.2L789.7,77.7L789.5,74.4Z" fill="#fff64f"/>
<path d="M778.3,77.6L778.4,80.1L789.7,80.3L789.7,77.0Z" fill="#fff868"/>
<path d="M778.4,79.6L778.3,82.1L789.6,82.9L789.7,79.6Z" fill="#fffa82"/>
<path d="M778.3,81.6L778.1,84.0L789.4,85.5L789.7,82.2Z" fill="#fafca6"/>
<path d="M778.2,83.5L777.9,86.0L789.0,88.1L789.5,84.8Z" fill="#f5fdca"/>
<path d="M777.9,85.5L777.5,87.9L788.6,90.6L789.2,87.4Z" fill="#f0ffed"/>
<path d="M777.6,87.4L777.1,89.8L788.0,93.1L788.7,89.9Z" fill="#ddfdf4"/>
<path d="M777.2,89.3L776.5,91.7L787.3,95.6L788.1,92.5Z" fill="#c7fbf8"/>
<path d="M776.7,91.2L775.9,93.5L786.4,98.0L787.5,95.0Z" fill="#b2fafc"/>
<path d="M776.1,93.0L775.2,95.3L785.5,100.4L786.7,97.4Z" fill="#9df7ff"/>
<path d="M775.4,94.8L774.3,97.1L784.4,102.8L785.7,99.8Z" fill="#88f2ff"/>
<path d="M774.6,96.6L773.5,98.8L783.2,105.0L784.7,102.2Z" fill="#72edff"/>
<path d="M773.7,98.3L772.5,100.5L781.9,107.2L783.5,104.4Z" fill="#5de8ff"/>
<path d="M772.7,100.0L771.4,102.1L780.5,109.4L782.3,106.7Z" fill="#47e3ff"/>
<path d="M771.7,101.6L770.3,103.6L779.0,111.4L780.9,108.8Z" fill="#34deff"/>
<path d="M770.6,103.2L769.1,105.1L777.4,113.4L779.4,110.9Z" fill="#31daff"/>
<path d="M769.4,104.7L767.8,106.5L775.7,115.2L777.9,112.8Z" fill="#2fd6ff"/>
<path d="M768.2,106.1L766.5,107.8L773.9,117.0L776.2,114.7Z" fill="#2cd3ff"/>
<path d="M766.8,107.5L765.1,109.1L772.1,118.6L774.4,116.5Z" fill="#2acfff"/>
<path d="M765.4,108.7L763.6,110.2L770.1,120.2L772.6,118.2Z" fill="#27ccff"/>
<path d="M764.0,109.9L762.1,111.3L768.1,121.6L770.7,119.8Z" fill="#25c8ff"/>
<path d="M762.5,111.0L760.5,112.3L766.1,123.0L768.7,121.3Z" fill="#22c4ff"/>
<path d="M760.9,112.1L758.9,113.2L763.9,124.2L766.6,122.6Z" fill="#1fc1ff"/>
<path d="M759.3,113.0L757.2,114.0L761.7,125.3L764.5,123.9Z" fill="#1dbdff"/>
<path d="M757.7,113.8L755.5,114.8L759.5,126.2L762.3,125.0Z" fill="#17aeff"/>
<path d="M756.0,114.6L753.8,115.4L757.2,127.1L760.1,126.0Z" fill="#0f98ff"/>
<path d="M754.3,115.2L752.1,115.9L754.8,127.8L757.8,126.8Z" fill="#0782ff"/>
<path d="M752.5,115.8L750.3,116.4L752.5,128.3L755.5,127.6Z" fill="#006afd"/>
<path d="M750.8,116.3L748.5,116.7L750.1,128.8L753.1,128.2Z" fill="#004af0"/>
<path d="M749.0,116.6L746.7,116.9L747.7,129.1L750.7,128.7Z" fill="#002be4"/>
<path d="M747.1,116.9L744.8,117.1L745.3,129.2L748.3,129.0Z" fill="#0016cd"/>
<path d="M745.3,117.0L743.0,117.1L742.9,129.3L745.9,129.2Z" fill="#0008b0"/>
<path d="M743.5,117.1L741.2,117.0L740.4,129.2L743.5,129.3Z" fill="#ca0300"/>
<path d="M741.7,117.0L739.4,116.8L738.0,128.9L741.1,129.2Z" fill="#df0a00"/>
<path d="M739.9,116.9L737.6,116.5L735.6,128.6L738.7,129.0Z" fill="#f11400"/>
<path d="M738.0,116.6L735.8,116.1L733.3,128.0L736.3,128.7Z" fill="#f52c00"/>
<path d="M736.2,116.3L734.0,115.7L730.9,127.4L733.9,128.2Z" fill="#fa4300"/>
<path d="M734.5,115.8L732.3,115.1L728.6,126.6L731.5,127.6Z" fill="#fe5a00"/>
<path d="M732.7,115.2L730.5,114.4L726.3,125.7L729.2,126.8Z" fill="#ff6e00"/>
<path d="M731.0,114.6L728.9,113.6L724.1,124.7L726.9,126.0Z" fill="#ff8000"/>
<path d="M729.3,113.8L727.2,112.8L721.9,123.5L724.7,125.0Z" fill="#ff9200"/>
<path d="M727.7,113.0L725.6,111.8L719.8,122.3L722.5,123.9Z" fill="#ffa400"/>
<path d="M726.1,112.1L724.1,110.7L717.8,120.9L720.4,122.6Z" fill="#ffb300"/>
<path d="M724.5,111.0L722.6,109.6L715.8,119.4L718.3,121.3Z" fill="#ffc100"/>
<path d="M723.0,109.9L721.2,108.4L713.9,117.8L716.3,119.8Z" fill="#ffcf00"/>
<path d="M721.6,108.7L719.8,107.1L712.1,116.1L714.4,118.2Z" fill="#ffdd00"/>
<path d="M720.2,107.5L718.5,105.7L710.4,114.2L712.6,116.5Z" fill="#ffe100"/>
<path d="M718.8,106.1L717.3,104.3L708.7,112.3L710.8,114.7Z" fill="#ffe200"/>
<path d="M717.6,104.7L716.1,102.8L707.2,110.3L709.1,112.8Z" fill="#ffe400"/>
<path d="M716.4,103.2L715.0,101.2L705.7,108.2L707.6,110.9Z" fill="#ffe500"/>
<path d="M715.3,101.6L714.0,99.6L704.4,106.1L706.1,108.8Z" fill="#ffe600"/>
<path d="M714.3,100.0L713.1,97.9L703.2,103.8L704.7,106.7Z" fill="#ffe800"/>
<path d="M713.3,98.3L712.2,96.1L702.0,101.5L703.5,104.4Z" fill="#ffe900"/>
<path d="M712.4,96.6L711.4,94.4L701.0,99.2L702.3,102.2Z" fill="#ffea00"/>
<path d="M711.6,94.8L710.8,92.5L700.1,96.8L701.3,99.8Z" fill="#ffec00"/>
<path d="M710.9,93.0L710.2,90.7L699.3,94.3L700.3,97.4Z" fill="#ffed00"/>
<path d="M710.3,91.2L709.7,88.8L698.7,91.8L699.5,95.0Z" fill="#ffee00"/>
<path d="M709.8,89.3L709.3,86.9L698.2,89.2L698.9,92.5Z" fill="#fff000"/>
<path d="M709.4,87.4L709.0,84.9L697.7,86.7L698.3,89.9Z" fill="#fff217"/>
<path d="M709.1,85.5L708.8,83.0L697.5,84.1L697.8,87.4Z" fill="#fff433"/>
<path d="M708.8,83.5L708.7,81.0L697.3,81.5L697.5,84.8Z" fill="#fff64f"/>
<path d="M708.7,81.6L708.6,79.1L697.3,78.9L697.3,82.2Z" fill="#fff86b"/>
<path d="M708.6,79.6L708.7,77.1L697.4,76.3L697.3,79.6Z" fill="#fefa8a"/>
<path d="M708.7,77.6L708.9,75.2L697.6,73.7L697.3,77.0Z" fill="#f8fcb1"/>
<path d="M708.8,75.7L709.1,73.2L698.0,71.1L697.5,74.4Z" fill="#f3fed8"/>
<path d="M709.1,73.7L709.5,71.3L698.4,68.6L697.8,71.8Z" fill="#e7fef2"/>
<path d="M709.4,71.8L709.9,69.4L699.0,66.1L698.3,69.3Z" fill="#cffcf6"/>
<path d="M709.8,69.9L710.5,67.5L699.7,63.6L698.9,66.7Z" fill="#b8fafb"/>
<path d="M710.3,68.0L711.1,65.7L700.6,61.2L699.5,64.2Z" fill="#a1f8ff"/>
<path d="M710.9,66.2L711.8,63.9L701.5,58.8L700.3,61.8Z" fill="#89f2ff"/>
<path d="M711.6,64.4L712.7,62.1L702.6,56.4L701.3,59.4Z" fill="#71edff"/>
<path d="M712.4,62.6L713.5,60.4L703.8,54.2L702.3,57.0Z" fill="#59e7ff"/>
<path d="M713.3,60.9L714.5,58.7L705.1,52.0L703.5,54.8Z" fill="#42e1ff"/>
<path d="M714.3,59.2L715.6,57.1L706.5,49.8L704.7,52.5Z" fill="#33dcff"/>
<path d="M715.3,57.6L716.7,55.6L708.0,47.8L706.1,50.4Z" fill="#30d8ff"/>
<path d="M716.4,56.0L717.9,54.1L709.6,45.8L707.6,48.3Z" fill="#2dd4ff"/>
<path d="M717.6,54.5L719.2,52.7L711.3,44.0L709.1,46.4Z" fill="#2ad0ff"/>
<path d="M718.8,53.1L720.5,51.4L713.1,42.2L710.8,44.5Z" fill="#28ccff"/>
<path d="M720.2,51.7L721.9,50.1L714.9,40.6L712.6,42.7Z" fill="#25c8ff"/>
<path d="M721.6,50.5L723.4,49.0L716.9,39.0L714.4,41.0Z" fill="#22c4ff"/>
<path d="M723.0,49.3L724.9,47.9L718.9,37.6L716.3,39.4Z" fill="#1fc1ff"/>
<path d="M724.5,48.2L726.5,46.9L720.9,36.2L718.3,37.9Z" fill="#1cbdff"/>
<path d="M726.1,47.1L728.1,46.0L723.1,35.0L720.4,36.6Z" fill="#14a7ff"/>
<path d="M727.7,46.2L729.8,45.2L725.3,33.9L722.5,35.3Z" fill="#0b8fff"/>
<path d="M729.3,45.4L731.5,44.4L727.5,33.0L724.7,34.2Z" fill="#0276ff"/>
<path d="M731.0,44.6L733.2,43.8L729.8,32.1L726.9,33.2Z" fill="#0056f5"/>
<path d="M732.7,44.0L734.9,43.3L732.2,31.4L729.2,32.4Z" fill="#0033e7"/>
<path d="M734.5,43.4L736.7,42.8L734.5,30.9L731.5,31.6Z" fill="#0019d1"/>
<path d="M736.2,42.9L738.5,42.5L736.9,30.4L733.9,31.0Z" fill="#0009b1"/>
<path d="M738.0,42.6L740.3,42.3L739.3,30.1L736.3,30.5Z" fill="#c90300"/>
<path d="M739.9,42.3L742.2,42.1L741.7,30.0L738.7,30.2Z" fill="#dc0900"/>
<path d="M741.7,42.2L744.0,42.1L744.1,29.9L741.1,30.0Z" fill="#ef1000"/>
</g>
<clipPath id="dcRo"><ellipse cx="743.5" cy="79.6" rx="42.8" ry="46"/></clipPath>
<g clip-path="url(#dcR)"><polygon points="779.0,37.6 777.7,39.9 775.0,39.9 776.3,42.3 775.0,44.6 772.3,44.6 770.9,42.3 769.6,44.6 766.9,44.6 768.2,46.9 766.9,49.3 769.6,49.3 770.9,51.6 769.6,53.9 766.9,53.9 768.2,56.3 766.9,58.6 764.2,58.6 762.8,56.3 761.5,58.6 758.8,58.6 757.4,56.3 758.8,53.9 756.1,53.9 754.8,51.6 753.4,53.9 750.7,53.9 752.1,56.3 750.7,58.6 748.0,58.6 746.7,56.3 745.3,58.6 742.6,58.6 744.0,60.9 742.6,63.3 745.3,63.3 746.7,65.6 745.3,67.9 742.6,67.9 744.0,70.3 742.6,72.6 745.3,72.6 746.7,74.9 748.0,72.6 750.7,72.6 752.1,74.9 750.7,77.3 753.4,77.3 754.8,79.6 753.4,81.9 750.7,81.9 752.1,84.3 750.7,86.6 748.0,86.6 746.7,84.3 745.3,86.6 742.6,86.6 744.0,88.9 742.6,91.3 745.3,91.3 746.7,93.6 745.3,95.9 742.6,95.9 744.0,98.3 742.6,100.6 745.3,100.6 746.7,102.9 748.0,100.6 750.7,100.6 752.1,102.9 750.7,105.3 753.4,105.3 754.8,107.6 756.1,105.3 758.8,105.3 757.4,102.9 758.8,100.6 761.5,100.6 762.8,102.9 764.2,100.6 766.9,100.6 768.2,102.9 766.9,105.3 769.6,105.3 770.9,107.6 769.6,109.9 766.9,109.9 768.2,112.3 766.9,114.6 769.6,114.6 770.9,116.9 772.3,114.6 775.0,114.6 776.3,116.9 775.0,119.3 777.7,119.3 779.0,121.6 780.3,119.3 783.0,119.3 781.7,116.9 783.0,114.6 785.7,114.6 787.1,116.9 788.4,114.6 791.1,114.6 789.8,112.3 791.1,109.9 788.4,109.9 787.1,107.6 788.4,105.3 791.1,105.3 789.8,102.9 791.1,100.6 793.8,100.6 795.2,102.9 796.5,100.6 799.2,100.6 800.6,102.9 799.2,105.3 801.9,105.3 803.2,107.6 804.6,105.3 807.3,105.3 805.9,102.9 807.3,100.6 810.0,100.6 811.3,102.9 812.7,100.6 815.4,100.6 814.0,98.3 815.4,95.9 812.7,95.9 811.3,93.6 812.7,91.3 815.4,91.3 814.0,88.9 815.4,86.6 812.7,86.6 811.3,84.3 810.0,86.6 807.3,86.6 805.9,84.3 807.3,81.9 804.6,81.9 803.2,79.6 804.6,77.3 807.3,77.3 805.9,74.9 807.3,72.6 810.0,72.6 811.3,74.9 812.7,72.6 815.4,72.6 814.0,70.3 815.4,67.9 812.7,67.9 811.3,65.6 812.7,63.3 815.4,63.3 814.0,60.9 815.4,58.6 812.7,58.6 811.3,56.3 810.0,58.6 807.3,58.6 805.9,56.3 807.3,53.9 804.6,53.9 803.2,51.6 801.9,53.9 799.2,53.9 800.6,56.3 799.2,58.6 796.5,58.6 795.2,56.3 793.8,58.6 791.1,58.6 789.8,56.3 791.1,53.9 788.4,53.9 787.1,51.6 788.4,49.3 791.1,49.3 789.8,46.9 791.1,44.6 788.4,44.6 787.1,42.3 785.7,44.6 783.0,44.6 781.7,42.3 783.0,39.9 780.3,39.9" fill="#000"/><rect x="749" y="70" width="10" height="19" fill="#000"/></g>
<g id="laser">
<polygon points="213.5,133 223.5,135.5 223.5,144.5 213.5,142" fill="#2b2b2b"/>
<polygon points="226,136 236,138.5 236,147 226,144.5" fill="#2b2b2b"/>
<polygon points="189.5,106.5 212.5,89.8 271.5,102.2 272.8,127.8 249.5,144.5 192.5,134" fill="#262626"/>
<polygon points="191.5,107.2 248,120.6 248,141.8 194,132" fill="url(#gRed)"/>
<polygon points="192.5,105.6 213,91.4 268.5,103 248.5,118.8" fill="#c8161f"/>
<polygon points="201.5,99.6 208,95 263.5,107 256.5,112.6" fill="#a6a8b0"/>
<polygon points="250.5,121 270,104.8 271,127 250.5,142.6" fill="#3a3a3c"/>
<polygon points="251.5,123 256.5,119 256.8,130.5 251.8,134.5" fill="#8e9298"/>
<circle cx="265.5" cy="126" r="3.6" fill="#bdbdbd"/>
<circle cx="265.5" cy="126" r="2.4" fill="#3cf03c"/>
</g>
<polygon points="266.0,123.5 305.0,131.4 305.0,137.4 266.0,128.5" fill="#38ec38" opacity="1"/>
<g id="be" transform="translate(2.2,0.6)">
<ellipse cx="302.0" cy="131.6" rx="4.5" ry="12" fill="#454545" transform="rotate(4 302 131.56)" /><polygon points="302.0,119.6 311.0,121.4 311.0,145.4 302.0,143.6" fill="#454545"/><ellipse cx="311.0" cy="133.4" rx="4.5" ry="12" fill="#454545" transform="rotate(4 311 133.45)" />
<ellipse cx="310.0" cy="133.2" rx="5" ry="13.2" fill="url(#gRedH)" transform="rotate(4 310 133.24)" /><polygon points="310.0,120.0 326.0,123.4 326.0,149.8 310.0,146.4" fill="url(#gRedH)"/><ellipse cx="326.0" cy="136.6" rx="5" ry="13.2" fill="url(#gRedH)" transform="rotate(4 326 136.6)" />
<path d="M312,120.66 L312,146.66 M316,121.3 L316,147.7 M320,122.14 L320,148.54" stroke="#7a080e" stroke-width="1"/>
<ellipse cx="327.0" cy="136.8" rx="4.5" ry="11.5" fill="#4a4a4a" transform="rotate(4 327 136.81)" /><polygon points="327.0,125.3 336.0,127.2 336.0,150.2 327.0,148.3" fill="#4a4a4a"/><ellipse cx="336.0" cy="138.7" rx="4.5" ry="11.5" fill="#4a4a4a" transform="rotate(4 336 138.7)" />
<polygon points="335,127.0 361,123.9 363,163.9 335,150.0" fill="url(#gDark)"/>
<ellipse cx="360.0" cy="143.7" rx="11" ry="20" fill="#3e3e3e" transform="rotate(5 360 143.74)" /><polygon points="360.0,123.7 366.0,125.0 366.0,165.0 360.0,163.7" fill="#3e3e3e"/><ellipse cx="366.0" cy="145.0" rx="11" ry="20" fill="#2c2c2c" transform="rotate(5 366 145.0)" />
<ellipse cx="366.0" cy="145.0" rx="8.5" ry="16" fill="#5d8a62" transform="rotate(5 366 145.0)" />
<ellipse cx="366.5" cy="145.5" rx="7" ry="14" fill="#49e649" transform="rotate(5 366.5 145.5)" />
</g>
<ellipse cx="427.5" cy="158.4" rx="11" ry="19.5" fill="#a4dcf2" transform="rotate(4 427.5 158.415)" opacity="0.9"/>
<polygon points="366.0,134.5 427.5,146.9 427.5,168.9 366.0,155.5" fill="url(#gBeamW)" opacity="0.93"/>
<ellipse cx="496.3" cy="157.3" rx="19.2" ry="34" fill="#c9c9c9" transform="rotate(7 496.3 157.3)" />
<path d="M502,114 C492,112 484,120 482.5,131" fill="none" stroke="#8a8a8a" stroke-width="3.4"/>
<polygon points="476.5,127.5 488.5,129.5 481.5,138" fill="#8a8a8a"/>
<polygon points="427.5,146.9 482,169.0 482,170.0 427.5,168.9" fill="url(#gBeamW)" opacity="0.93"/>
<ellipse cx="429.0" cy="158.2" rx="8" ry="17.5" fill="#c8f4ff" transform="rotate(4 429 158.23)" opacity="0.22"/>
<polygon points="482,169.0 536,170.7 536,190.7 482,170.0" fill="url(#gBeamW)"/>
<ellipse cx="535.5" cy="181.2" rx="11" ry="20.3" fill="#8fdcf0" transform="rotate(4 535.5 181.2)" />
<ellipse cx="536.5" cy="181.4" rx="9" ry="18" fill="#5ec6e8" transform="rotate(4 536.5 181.4)" />
<ellipse cx="540.0" cy="182.4" rx="7.8" ry="14.8" fill="#0a0a0a" transform="rotate(4 540 182.4)" />
<polygon points="541.0,172.0 588.0,181.6 588.0,201.6 541.0,191.5" fill="url(#gBeamW)" opacity="1"/>
<g id="hwp">
<ellipse cx="583.5" cy="190.7" rx="9.5" ry="21" fill="#3a3a3a" transform="rotate(4 583.5 190.675)" /><polygon points="583.5,169.7 590.5,171.1 590.5,213.1 583.5,211.7" fill="#3a3a3a"/><ellipse cx="590.5" cy="192.1" rx="9.5" ry="21" fill="#484848" transform="rotate(4 590.5 192.14499999999998)" />
<ellipse cx="590.5" cy="192.1" rx="7.6" ry="16.5" fill="#242424" transform="rotate(4 590.5 192.14499999999998)" />
<ellipse cx="591.2" cy="192.3" rx="5.6" ry="12.5" fill="#30d030" transform="rotate(4 591.2 192.292)" />
</g>
<polygon points="590.0,182.5 637.0,191.9 637.0,211.9 590.0,201.5" fill="url(#gBeamW)" opacity="1"/>
<g id="lp">
<ellipse cx="629.0" cy="200.2" rx="10.5" ry="21" fill="#5a5a58" transform="rotate(4 629 200.23)" /><polygon points="629.0,179.2 641.0,181.8 641.0,223.8 629.0,221.2" fill="#5a5a58"/><ellipse cx="641.0" cy="202.8" rx="10.5" ry="21" fill="#777773" transform="rotate(4 641 202.75)" />
<ellipse cx="641.0" cy="202.8" rx="8" ry="17" fill="#9a9a94" transform="rotate(4 641 202.75)" />
<ellipse cx="641.5" cy="202.9" rx="6.4" ry="14.6" fill="#6a6a64" transform="rotate(4 641.5 202.855)" />
</g>
<polygon points="641.0,193.0 690.0,202.8 690.0,223.3 641.0,212.5" fill="url(#gBeamW)" opacity="1"/>
<g id="slm1">
<polygon points="685.8,204.6 710.7,181.9 721.5,185.2 721.5,235 696.6,254.4 688,251.2 685.8,247" fill="#1c1c1c" stroke="#1c1c1c" stroke-width="1.6" stroke-linejoin="round"/>
<polygon points="694.5,202.8 721.3,186.4 721.3,234.8 696.8,253" fill="#343434" stroke="#343434" stroke-width="1" stroke-linejoin="round"/>
<polygon points="693.6,207 700,203.6 700.2,221.4 693.8,224.4" fill="#2fa83c"/>
<ellipse cx="710.0" cy="220.6" rx="10.6" ry="20" fill="#6e726e" transform="rotate(3 710 220.6)" />
<ellipse cx="710.6" cy="220.8" rx="8.8" ry="17.4" fill="#b4bcb4" transform="rotate(3 710.6 220.8)" />
<ellipse cx="711.4" cy="221.0" rx="6.6" ry="14.4" fill="#8fd89a" transform="rotate(3 711.4 221)" />
</g>
<ellipse cx="781.8" cy="226.0" rx="6.8" ry="15.8" fill="#2f8f6a" transform="rotate(6 781.8 226)" />
<ellipse cx="776.8" cy="222.8" rx="6.6" ry="12.8" fill="#a8e4e6" transform="rotate(6 776.8 222.8)" />
<polygon points="711,207.6 773.5,215.4 777,237 711,227.2" fill="url(#gBeamW)"/>
<ellipse cx="744.0" cy="259.0" rx="21.5" ry="19.8" fill="#a2d8f0" transform="rotate(20 744 259)" opacity="0.85"/>
<polygon points="772.5,221 780.5,239.5 753,262.5 735.5,249" fill="#3aea3a" opacity="0.9"/>
<line x1="733" y1="252" x2="708.5" y2="281.5" stroke="#38e838" stroke-width="1.6" opacity="0.9"/>
<line x1="738" y1="256" x2="711" y2="285.5" stroke="#38e838" stroke-width="1.8" opacity="0.9"/>
<line x1="743" y1="260" x2="713.5" y2="290" stroke="#38e838" stroke-width="2.0" opacity="0.9"/>
<line x1="748" y1="264" x2="716" y2="294" stroke="#38e838" stroke-width="1.8" opacity="0.9"/>
<line x1="741" y1="258.5" x2="704" y2="292.5" stroke="#38e838" stroke-width="2.6" opacity="0.9"/>
<polygon points="733,251 750,266 716,294.5 707,281" fill="#7af07a" opacity="0.35"/>
<line x1="701.5" y1="266" x2="703.2" y2="279" stroke="#4a4a4a" stroke-width="2.6"/>
<rect x="698.6" y="263.5" width="4.6" height="3.4" fill="#6a6a6a" transform="rotate(-8 701 265)"/>
<ellipse cx="705.4" cy="294.0" rx="13.6" ry="15" fill="#4a4a46" transform="rotate(-12 705.4 294)" />
<ellipse cx="703.4" cy="292.8" rx="13.4" ry="14.6" fill="#868682" transform="rotate(-12 703.4 292.8)" />
<ellipse cx="703.4" cy="292.8" rx="6.4" ry="7.6" fill="#9c9c98" transform="rotate(-12 703.4 292.8)" />
<ellipse cx="703.6" cy="292.9" rx="2.9" ry="3.4" fill="#ffffff" transform="rotate(-12 703.6 292.9)" />
<ellipse cx="667.5" cy="327.5" rx="20" ry="20.5" fill="#a6daf0" opacity="0.8"/>
<polygon points="703.2,292 704.4,293.2 669.5,329.5 664.5,325 " fill="#3ae83a" opacity="0.92"/>
<polygon points="669.5,329.5 664.5,325 657.5,331.5 662.5,336" fill="#3ae83a" opacity="0.92"/>
<g stroke="#111" stroke-width="1.5" fill="#111">
<line x1="725.8" y1="297.9" x2="747.7" y2="277.1"/><polygon stroke="none" points="722.5,301.0 729.1,298.6 725.3,294.5"/><polygon stroke="none" points="751.0,274.0 748.2,280.5 744.4,276.4"/>
<line x1="689.2" y1="333.8" x2="711.8" y2="311.7"/><polygon stroke="none" points="686.0,337.0 692.6,334.4 688.7,330.4"/><polygon stroke="none" points="715.0,308.5 712.3,315.1 708.4,311.1"/>
</g>
<polygon points="291.5,308 325,277.5 488,318 455,351" fill="#3c3c3c"/>
<polygon points="291.5,308 455,351 455,354.5 291.5,311.5" fill="#1c1c1c"/>
<polygon points="455,351 488,318 488,321.5 455,354.5" fill="#262626"/>
<path d="M328.3,285.6 q1.6,1.6 0,3.2 q-1.6,1.6 0,3.2" stroke="#a03018" stroke-width="1.2" fill="none" opacity="0.45"/>
<path d="M328.3,285.6 q1.8,-1.6 0,-3.2 q-1.8,-1.6 0,-3.2" stroke="#f0441c" stroke-width="1.5" fill="none" stroke-linecap="round"/>
<polygon points="326.5,280.0 330.3,279.6 329.1,276.0" fill="#f0441c"/>
<path d="M343.6,289.4 q1.6,1.6 0,3.2 q-1.6,1.6 0,3.2" stroke="#a03018" stroke-width="1.2" fill="none" opacity="0.45"/>
<path d="M343.6,289.4 q1.8,-1.6 0,-3.2 q-1.8,-1.6 0,-3.2" stroke="#f0441c" stroke-width="1.5" fill="none" stroke-linecap="round"/>
<polygon points="341.8,283.8 345.6,283.4 344.4,279.8" fill="#f0441c"/>
<path d="M357.7,293.1 q1.6,1.6 0,3.2 q-1.6,1.6 0,3.2" stroke="#a03018" stroke-width="1.2" fill="none" opacity="0.45"/>
<path d="M357.7,293.1 q1.8,-1.6 0,-3.2 q-1.8,-1.6 0,-3.2 q1.8,-1.6 0,-3.2" stroke="#f0441c" stroke-width="1.5" fill="none" stroke-linecap="round"/>
<polygon points="355.9,284.3 359.7,283.9 358.5,280.3" fill="#f0441c"/>
<path d="M370.6,296.9 q1.6,1.6 0,3.2 q-1.6,1.6 0,3.2" stroke="#a03018" stroke-width="1.2" fill="none" opacity="0.45"/>
<path d="M370.6,296.9 q1.8,-1.6 0,-3.2 q-1.8,-1.6 0,-3.2 q1.8,-1.6 0,-3.2" stroke="#f0441c" stroke-width="1.5" fill="none" stroke-linecap="round"/>
<polygon points="368.8,288.1 372.6,287.7 371.4,284.1" fill="#f0441c"/>
<path d="M384.9,300.7 q1.6,1.6 0,3.2 q-1.6,1.6 0,3.2" stroke="#a03018" stroke-width="1.2" fill="none" opacity="0.45"/>
<path d="M384.9,300.7 q1.8,-1.6 0,-3.2 q-1.8,-1.6 0,-3.2 q1.8,-1.6 0,-3.2" stroke="#f0441c" stroke-width="1.5" fill="none" stroke-linecap="round"/>
<polygon points="383.1,291.9 386.9,291.5 385.7,287.9" fill="#f0441c"/>
<path d="M399.4,304.5 q1.6,1.6 0,3.2 q-1.6,1.6 0,3.2" stroke="#a03018" stroke-width="1.2" fill="none" opacity="0.45"/>
<path d="M399.4,304.5 q1.8,-1.6 0,-3.2 q-1.8,-1.6 0,-3.2" stroke="#f0441c" stroke-width="1.5" fill="none" stroke-linecap="round"/>
<polygon points="397.6,298.9 401.4,298.5 400.2,294.9" fill="#f0441c"/>
<path d="M414.9,308.3 q1.6,1.6 0,3.2 q-1.6,1.6 0,3.2" stroke="#a03018" stroke-width="1.2" fill="none" opacity="0.45"/>
<path d="M414.9,308.3 q1.8,-1.6 0,-3.2 q-1.8,-1.6 0,-3.2 q1.8,-1.6 0,-3.2" stroke="#f0441c" stroke-width="1.5" fill="none" stroke-linecap="round"/>
<polygon points="413.1,299.5 416.9,299.1 415.7,295.5" fill="#f0441c"/>
<path d="M428.4,312.1 q1.6,1.6 0,3.2 q-1.6,1.6 0,3.2" stroke="#a03018" stroke-width="1.2" fill="none" opacity="0.45"/>
<path d="M428.4,312.1 q1.8,-1.6 0,-3.2 q-1.8,-1.6 0,-3.2 q1.8,-1.6 0,-3.2" stroke="#f0441c" stroke-width="1.5" fill="none" stroke-linecap="round"/>
<polygon points="426.6,303.3 430.4,302.9 429.2,299.3" fill="#f0441c"/>
<path d="M444.3,315.8 q1.6,1.6 0,3.2 q-1.6,1.6 0,3.2" stroke="#a03018" stroke-width="1.2" fill="none" opacity="0.45"/>
<path d="M444.3,315.8 q1.8,-1.6 0,-3.2 q-1.8,-1.6 0,-3.2 q1.8,-1.6 0,-3.2 q-1.8,-1.6 0,-3.2" stroke="#f0441c" stroke-width="1.5" fill="none" stroke-linecap="round"/>
<polygon points="442.5,303.8 446.3,303.4 445.1,299.8" fill="#f0441c"/>
<path d="M458.5,319.6 q1.6,1.6 0,3.2 q-1.6,1.6 0,3.2" stroke="#a03018" stroke-width="1.2" fill="none" opacity="0.45"/>
<path d="M458.5,319.6 q1.8,-1.6 0,-3.2 q-1.8,-1.6 0,-3.2 q1.8,-1.6 0,-3.2" stroke="#f0441c" stroke-width="1.5" fill="none" stroke-linecap="round"/>
<polygon points="456.7,310.8 460.5,310.4 459.3,306.8" fill="#f0441c"/>
<path d="M474.1,323.4 q1.6,1.6 0,3.2 q-1.6,1.6 0,3.2" stroke="#a03018" stroke-width="1.2" fill="none" opacity="0.45"/>
<path d="M474.1,323.4 q1.8,-1.6 0,-3.2 q-1.8,-1.6 0,-3.2" stroke="#f0441c" stroke-width="1.5" fill="none" stroke-linecap="round"/>
<polygon points="472.3,317.8 476.1,317.4 474.9,313.8" fill="#f0441c"/>
<path d="M324.0,296.6 q1.6,1.6 0,3.2 q-1.6,1.6 0,3.2" stroke="#a03018" stroke-width="1.2" fill="none" opacity="0.45"/>
<path d="M324.0,296.6 q1.8,-1.6 0,-3.2 q-1.8,-1.6 0,-3.2 q1.8,-1.6 0,-3.2" stroke="#f0441c" stroke-width="1.5" fill="none" stroke-linecap="round"/>
<polygon points="322.2,287.8 326.0,287.4 324.8,283.8" fill="#f0441c"/>
<path d="M336.3,300.4 q1.6,1.6 0,3.2 q-1.6,1.6 0,3.2" stroke="#a03018" stroke-width="1.2" fill="none" opacity="0.45"/>
<path d="M336.3,300.4 q1.8,-1.6 0,-3.2 q-1.8,-1.6 0,-3.2" stroke="#f0441c" stroke-width="1.5" fill="none" stroke-linecap="round"/>
<polygon points="334.5,294.8 338.3,294.4 337.1,290.8" fill="#f0441c"/>
<path d="M351.2,304.2 q1.6,1.6 0,3.2 q-1.6,1.6 0,3.2" stroke="#a03018" stroke-width="1.2" fill="none" opacity="0.45"/>
<path d="M351.2,304.2 q1.8,-1.6 0,-3.2 q-1.8,-1.6 0,-3.2 q1.8,-1.6 0,-3.2" stroke="#f0441c" stroke-width="1.5" fill="none" stroke-linecap="round"/>
<polygon points="349.4,295.4 353.2,295.0 352.0,291.4" fill="#f0441c"/>
<path d="M365.2,308.0 q1.6,1.6 0,3.2 q-1.6,1.6 0,3.2" stroke="#a03018" stroke-width="1.2" fill="none" opacity="0.45"/>
<path d="M365.2,308.0 q1.8,-1.6 0,-3.2 q-1.8,-1.6 0,-3.2 q1.8,-1.6 0,-3.2" stroke="#f0441c" stroke-width="1.5" fill="none" stroke-linecap="round"/>
<polygon points="363.4,299.2 367.2,298.8 366.0,295.2" fill="#f0441c"/>
<path d="M380.9,311.8 q1.6,1.6 0,3.2 q-1.6,1.6 0,3.2" stroke="#a03018" stroke-width="1.2" fill="none" opacity="0.45"/>
<path d="M380.9,311.8 q1.8,-1.6 0,-3.2 q-1.8,-1.6 0,-3.2 q1.8,-1.6 0,-3.2" stroke="#f0441c" stroke-width="1.5" fill="none" stroke-linecap="round"/>
<polygon points="379.1,303.0 382.9,302.6 381.7,299.0" fill="#f0441c"/>
<path d="M395.0,315.5 q1.6,1.6 0,3.2 q-1.6,1.6 0,3.2" stroke="#a03018" stroke-width="1.2" fill="none" opacity="0.45"/>
<path d="M395.0,315.5 q1.8,-1.6 0,-3.2 q-1.8,-1.6 0,-3.2" stroke="#f0441c" stroke-width="1.5" fill="none" stroke-linecap="round"/>
<polygon points="393.2,309.9 397.0,309.5 395.8,305.9" fill="#f0441c"/>
<path d="M408.0,319.3 q1.6,1.6 0,3.2 q-1.6,1.6 0,3.2" stroke="#a03018" stroke-width="1.2" fill="none" opacity="0.45"/>
<path d="M408.0,319.3 q1.8,-1.6 0,-3.2 q-1.8,-1.6 0,-3.2" stroke="#f0441c" stroke-width="1.5" fill="none" stroke-linecap="round"/>
<polygon points="406.2,313.7 410.0,313.3 408.8,309.7" fill="#f0441c"/>
<path d="M424.2,323.1 q1.6,1.6 0,3.2 q-1.6,1.6 0,3.2" stroke="#a03018" stroke-width="1.2" fill="none" opacity="0.45"/>
<path d="M424.2,323.1 q1.8,-1.6 0,-3.2 q-1.8,-1.6 0,-3.2 q1.8,-1.6 0,-3.2" stroke="#f0441c" stroke-width="1.5" fill="none" stroke-linecap="round"/>
<polygon points="422.4,314.3 426.2,313.9 425.0,310.3" fill="#f0441c"/>
<path d="M437.5,326.9 q1.6,1.6 0,3.2 q-1.6,1.6 0,3.2" stroke="#a03018" stroke-width="1.2" fill="none" opacity="0.45"/>
<path d="M437.5,326.9 q1.8,-1.6 0,-3.2 q-1.8,-1.6 0,-3.2 q1.8,-1.6 0,-3.2" stroke="#f0441c" stroke-width="1.5" fill="none" stroke-linecap="round"/>
<polygon points="435.7,318.1 439.5,317.7 438.3,314.1" fill="#f0441c"/>
<path d="M452.3,330.7 q1.6,1.6 0,3.2 q-1.6,1.6 0,3.2" stroke="#a03018" stroke-width="1.2" fill="none" opacity="0.45"/>
<path d="M452.3,330.7 q1.8,-1.6 0,-3.2 q-1.8,-1.6 0,-3.2 q1.8,-1.6 0,-3.2" stroke="#f0441c" stroke-width="1.5" fill="none" stroke-linecap="round"/>
<polygon points="450.5,321.9 454.3,321.5 453.1,317.9" fill="#f0441c"/>
<path d="M467.7,334.5 q1.6,1.6 0,3.2 q-1.6,1.6 0,3.2" stroke="#a03018" stroke-width="1.2" fill="none" opacity="0.45"/>
<path d="M467.7,334.5 q1.8,-1.6 0,-3.2 q-1.8,-1.6 0,-3.2 q1.8,-1.6 0,-3.2" stroke="#f0441c" stroke-width="1.5" fill="none" stroke-linecap="round"/>
<polygon points="465.9,325.7 469.7,325.3 468.5,321.7" fill="#f0441c"/>
<path d="M307.2,304.5 q1.6,1.6 0,3.2 q-1.6,1.6 0,3.2" stroke="#a03018" stroke-width="1.2" fill="none" opacity="0.45"/>
<path d="M307.2,304.5 q1.8,-1.6 0,-3.2 q-1.8,-1.6 0,-3.2 q1.8,-1.6 0,-3.2" stroke="#f0441c" stroke-width="1.5" fill="none" stroke-linecap="round"/>
<polygon points="305.4,295.7 309.2,295.3 308.0,291.7" fill="#f0441c"/>
<path d="M322.5,308.3 q1.6,1.6 0,3.2 q-1.6,1.6 0,3.2" stroke="#a03018" stroke-width="1.2" fill="none" opacity="0.45"/>
<path d="M322.5,308.3 q1.8,-1.6 0,-3.2 q-1.8,-1.6 0,-3.2 q1.8,-1.6 0,-3.2 q-1.8,-1.6 0,-3.2" stroke="#f0441c" stroke-width="1.5" fill="none" stroke-linecap="round"/>
<polygon points="320.7,296.3 324.5,295.9 323.3,292.3" fill="#f0441c"/>
<path d="M337.5,312.0 q1.6,1.6 0,3.2 q-1.6,1.6 0,3.2" stroke="#a03018" stroke-width="1.2" fill="none" opacity="0.45"/>
<path d="M337.5,312.0 q1.8,-1.6 0,-3.2 q-1.8,-1.6 0,-3.2 q1.8,-1.6 0,-3.2" stroke="#f0441c" stroke-width="1.5" fill="none" stroke-linecap="round"/>
<polygon points="335.7,303.2 339.5,302.8 338.3,299.2" fill="#f0441c"/>
<path d="M352.6,315.8 q1.6,1.6 0,3.2 q-1.6,1.6 0,3.2" stroke="#a03018" stroke-width="1.2" fill="none" opacity="0.45"/>
<path d="M352.6,315.8 q1.8,-1.6 0,-3.2 q-1.8,-1.6 0,-3.2" stroke="#f0441c" stroke-width="1.5" fill="none" stroke-linecap="round"/>
<polygon points="350.8,310.2 354.6,309.8 353.4,306.2" fill="#f0441c"/>
<path d="M365.3,319.6 q1.6,1.6 0,3.2 q-1.6,1.6 0,3.2" stroke="#a03018" stroke-width="1.2" fill="none" opacity="0.45"/>
<path d="M365.3,319.6 q1.8,-1.6 0,-3.2 q-1.8,-1.6 0,-3.2 q1.8,-1.6 0,-3.2" stroke="#f0441c" stroke-width="1.5" fill="none" stroke-linecap="round"/>
<polygon points="363.5,310.8 367.3,310.4 366.1,306.8" fill="#f0441c"/>
<path d="M378.9,323.4 q1.6,1.6 0,3.2 q-1.6,1.6 0,3.2" stroke="#a03018" stroke-width="1.2" fill="none" opacity="0.45"/>
<path d="M378.9,323.4 q1.8,-1.6 0,-3.2 q-1.8,-1.6 0,-3.2 q1.8,-1.6 0,-3.2" stroke="#f0441c" stroke-width="1.5" fill="none" stroke-linecap="round"/>
<polygon points="377.1,314.6 380.9,314.2 379.7,310.6" fill="#f0441c"/>
<path d="M393.0,327.2 q1.6,1.6 0,3.2 q-1.6,1.6 0,3.2" stroke="#a03018" stroke-width="1.2" fill="none" opacity="0.45"/>
<path d="M393.0,327.2 q1.8,-1.6 0,-3.2 q-1.8,-1.6 0,-3.2 q1.8,-1.6 0,-3.2" stroke="#f0441c" stroke-width="1.5" fill="none" stroke-linecap="round"/>
<polygon points="391.2,318.4 395.0,318.0 393.8,314.4" fill="#f0441c"/>
<path d="M409.5,331.0 q1.6,1.6 0,3.2 q-1.6,1.6 0,3.2" stroke="#a03018" stroke-width="1.2" fill="none" opacity="0.45"/>
<path d="M409.5,331.0 q1.8,-1.6 0,-3.2 q-1.8,-1.6 0,-3.2 q1.8,-1.6 0,-3.2" stroke="#f0441c" stroke-width="1.5" fill="none" stroke-linecap="round"/>
<polygon points="407.7,322.2 411.5,321.8 410.3,318.2" fill="#f0441c"/>
<path d="M424.2,334.8 q1.6,1.6 0,3.2 q-1.6,1.6 0,3.2" stroke="#a03018" stroke-width="1.2" fill="none" opacity="0.45"/>
<path d="M424.2,334.8 q1.8,-1.6 0,-3.2 q-1.8,-1.6 0,-3.2 q1.8,-1.6 0,-3.2" stroke="#f0441c" stroke-width="1.5" fill="none" stroke-linecap="round"/>
<polygon points="422.4,326.0 426.2,325.6 425.0,322.0" fill="#f0441c"/>
<path d="M438.1,338.5 q1.6,1.6 0,3.2 q-1.6,1.6 0,3.2" stroke="#a03018" stroke-width="1.2" fill="none" opacity="0.45"/>
<path d="M438.1,338.5 q1.8,-1.6 0,-3.2 q-1.8,-1.6 0,-3.2 q1.8,-1.6 0,-3.2" stroke="#f0441c" stroke-width="1.5" fill="none" stroke-linecap="round"/>
<polygon points="436.3,329.7 440.1,329.3 438.9,325.7" fill="#f0441c"/>
<path d="M452.1,342.3 q1.6,1.6 0,3.2 q-1.6,1.6 0,3.2" stroke="#a03018" stroke-width="1.2" fill="none" opacity="0.45"/>
<path d="M452.1,342.3 q1.8,-1.6 0,-3.2 q-1.8,-1.6 0,-3.2 q1.8,-1.6 0,-3.2" stroke="#f0441c" stroke-width="1.5" fill="none" stroke-linecap="round"/>
<polygon points="450.3,333.5 454.1,333.1 452.9,329.5" fill="#f0441c"/>
<circle cx="314.7" cy="253" r="3.4" fill="url(#gBub)" stroke="#c2cce0" stroke-width="0.5" opacity="0.55"/>
<circle cx="326" cy="248.7" r="3" fill="url(#gBub)" stroke="#c2cce0" stroke-width="0.5" opacity="0.55"/>
<circle cx="329" cy="267.4" r="3.2" fill="url(#gBub)" stroke="#c2cce0" stroke-width="0.5" opacity="0.55"/>
<circle cx="340.7" cy="261.6" r="3.4" fill="url(#gBub)" stroke="#c2cce0" stroke-width="0.5" opacity="0.55"/>
<circle cx="355" cy="266" r="5" fill="url(#gBub)" stroke="#c2cce0" stroke-width="0.5" opacity="0.55"/>
<circle cx="332" cy="283" r="3.2" fill="url(#gBub)" stroke="#c2cce0" stroke-width="0.5" opacity="0.55"/>
<circle cx="322" cy="280" r="3" fill="url(#gBub)" stroke="#c2cce0" stroke-width="0.5" opacity="0.55"/>
<circle cx="299" cy="284.7" r="3.4" fill="url(#gBub)" stroke="#c2cce0" stroke-width="0.5" opacity="0.55"/>
<circle cx="309" cy="289" r="3" fill="url(#gBub)" stroke="#c2cce0" stroke-width="0.5" opacity="0.55"/>
<circle cx="348" cy="284.7" r="3.4" fill="url(#gBub)" stroke="#c2cce0" stroke-width="0.5" opacity="0.55"/>
<circle cx="376.8" cy="264.5" r="3.6" fill="url(#gBub)" stroke="#c2cce0" stroke-width="0.5" opacity="0.55"/>
<circle cx="385.4" cy="268.9" r="3.2" fill="url(#gBub)" stroke="#c2cce0" stroke-width="0.5" opacity="0.55"/>
<circle cx="397" cy="267.4" r="3.6" fill="url(#gBub)" stroke="#c2cce0" stroke-width="0.5" opacity="0.55"/>
<circle cx="402.8" cy="273" r="3" fill="url(#gBub)" stroke="#c2cce0" stroke-width="0.5" opacity="0.55"/>
<circle cx="417.2" cy="280.4" r="3.2" fill="url(#gBub)" stroke="#c2cce0" stroke-width="0.5" opacity="0.55"/>
<circle cx="427.3" cy="283.3" r="4.6" fill="url(#gBub)" stroke="#c2cce0" stroke-width="0.5" opacity="0.55"/>
<circle cx="451.8" cy="283.3" r="3.2" fill="url(#gBub)" stroke="#c2cce0" stroke-width="0.5" opacity="0.55"/>
<circle cx="469" cy="286" r="3" fill="url(#gBub)" stroke="#c2cce0" stroke-width="0.5" opacity="0.55"/>
<circle cx="391" cy="282" r="3" fill="url(#gBub)" stroke="#c2cce0" stroke-width="0.5" opacity="0.55"/>
<circle cx="305" cy="262" r="2.6" fill="url(#gBub)" stroke="#c2cce0" stroke-width="0.5" opacity="0.55"/>
<circle cx="366" cy="275" r="2.8" fill="url(#gBub)" stroke="#c2cce0" stroke-width="0.5" opacity="0.55"/>
<circle cx="438" cy="276" r="2.6" fill="url(#gBub)" stroke="#c2cce0" stroke-width="0.5" opacity="0.55"/>
<circle cx="461" cy="297" r="3" fill="url(#gBub)" stroke="#c2cce0" stroke-width="0.5" opacity="0.55"/>
<polygon points="119,218.1 633,340.1 633,343.9 119,224.9" fill="#3aea3a"/>
<line x1="119" y1="221.5" x2="633" y2="342.0" stroke="#7cf57c" stroke-width="1.2" opacity="0.7"/>
<circle cx="375.3" cy="293.4" r="6" fill="url(#gBub)" stroke="#b8c4da" stroke-width="0.5" opacity="0.7"/>
<circle cx="391.2" cy="297.7" r="6" fill="url(#gBub)" stroke="#b8c4da" stroke-width="0.5" opacity="0.7"/>
<circle cx="404.2" cy="300.6" r="4" fill="url(#gBub)" stroke="#b8c4da" stroke-width="0.5" opacity="0.7"/>
<circle cx="368" cy="306.4" r="4.2" fill="url(#gBub)" stroke="#b8c4da" stroke-width="0.5" opacity="0.7"/>
<circle cx="361" cy="319" r="3.4" fill="url(#gBub)" stroke="#b8c4da" stroke-width="0.5" opacity="0.7"/>
<circle cx="420" cy="302" r="3.8" fill="url(#gBub)" stroke="#b8c4da" stroke-width="0.5" opacity="0.7"/>
<circle cx="430" cy="305" r="3.6" fill="url(#gBub)" stroke="#b8c4da" stroke-width="0.5" opacity="0.7"/>
<circle cx="449" cy="310.7" r="5" fill="url(#gBub)" stroke="#b8c4da" stroke-width="0.5" opacity="0.7"/>
<circle cx="440" cy="296" r="3.4" fill="url(#gBub)" stroke="#b8c4da" stroke-width="0.5" opacity="0.7"/>
<circle cx="348" cy="309" r="3" fill="url(#gBub)" stroke="#b8c4da" stroke-width="0.5" opacity="0.7"/>
<circle cx="431.6" cy="335" r="3" fill="url(#gBub)" stroke="#b8c4da" stroke-width="0.5" opacity="0.7"/>
<circle cx="420" cy="326.6" r="3" fill="url(#gBub)" stroke="#b8c4da" stroke-width="0.5" opacity="0.7"/>
<circle cx="388" cy="326.6" r="3.2" fill="url(#gBub)" stroke="#b8c4da" stroke-width="0.5" opacity="0.7"/>
<circle cx="341" cy="296" r="3.6" fill="url(#gBub)" stroke="#b8c4da" stroke-width="0.5" opacity="0.7"/>
<circle cx="330" cy="291" r="3.8" fill="url(#gBub)" stroke="#b8c4da" stroke-width="0.5" opacity="0.7"/>
<circle cx="352" cy="290" r="4.4" fill="url(#gBub)" stroke="#b8c4da" stroke-width="0.5" opacity="0.7"/>
<circle cx="410" cy="318" r="2.8" fill="url(#gBub)" stroke="#b8c4da" stroke-width="0.5" opacity="0.7"/>
<circle cx="467" cy="316" r="3.4" fill="url(#gBub)" stroke="#b8c4da" stroke-width="0.5" opacity="0.7"/>
<ellipse cx="647.5" cy="348.5" rx="19" ry="18.3" fill="#2f9a86" transform="rotate(-15 647.5 348.5)" />
<ellipse cx="648.5" cy="349.5" rx="18.6" ry="18" fill="#b8e6e0" transform="rotate(-15 648.5 349.5)" />
<ellipse cx="650.2" cy="351.0" rx="19" ry="18.2" fill="url(#gGrey)" transform="rotate(-15 650.2 351)" />
<ellipse cx="188.8" cy="237.5" rx="13.6" ry="20.6" fill="#a6daf0" transform="rotate(6 188.8 237.5)" opacity="0.75"/>
<ellipse cx="187.5" cy="236.0" rx="9" ry="15" fill="#c8f2fc" transform="rotate(6 187.5 236)" opacity="0.3"/>
<g id="slm2">
<polygon points="6,192.8 45.4,164.4 58.6,168 64.6,201.5 24,231 11.6,225.5" fill="#7c1016" stroke="#7c1016" stroke-width="1.5" stroke-linejoin="round"/>
<polygon points="6,192.8 45.4,164.6 58.4,168.4 17.3,197.2" fill="#8e1219" stroke="#8e1219" stroke-width="1" stroke-linejoin="round"/>
<polygon points="6,192.8 17.3,197.2 23.8,229.8 11.9,225.3" fill="#6c0c12"/>
<polygon points="17.6,197.4 57.8,170 64,201 24,229.4" fill="#484849" stroke="#484849" stroke-width="1" stroke-linejoin="round"/>
<circle cx="21.6" cy="182.4" r="1.1" fill="#cfcfcf"/><circle cx="42" cy="169.2" r="1.1" fill="#cfcfcf"/><rect x="14" y="186" width="3" height="1.4" fill="#5a0a0e" transform="rotate(-35 15.5 186.7)"/>
<circle cx="39.6" cy="198.6" r="2.2" fill="#1a2048"/>
</g>
<line x1="40" y1="198.2" x2="102" y2="213.4" stroke="#e8262a" stroke-width="1.8"/>
<line x1="40" y1="199.8" x2="120" y2="223.6" stroke="#38e038" stroke-width="1.8"/>
<linearGradient id="gFade" gradientUnits="userSpaceOnUse" x1="112" y1="228" x2="60" y2="265"><stop offset="0" stop-color="#38e038"/><stop offset="0.55" stop-color="#5fe65f"/><stop offset="1" stop-color="#b8f4b8" stop-opacity="0.5"/></linearGradient>
<g id="bs">
<polygon points="99,211 114,199.5 136.5,209.5 136.5,228 120.5,239.5 99,230.5" fill="#f0f0f0" opacity="0.55"/>
<polygon points="99,211 120.5,221 120.5,239.5 99,230.5" fill="#e4e4e4" opacity="0.35"/>
<polygon points="121,226 131,222 131,233 121,238" fill="#dfe3e6" opacity="0.5"/>
<polygon points="104,226 111,229 111,236.5 104,233.5" fill="#e2e5e8" opacity="0.6"/>
<polygon points="113.5,224 117.5,226.5 60.6,264.6 60,264" fill="url(#gFade)"/>
<polygon points="116,217.6 140,223.1 140,229.7 116,224.0" fill="#3aea3a"/>
<polygon points="107.5,204.5 115.5,200.4 123.5,204 122.5,210.6 113,210.8" fill="#d9d9d9"/>
<polyline points="99,210.8 114,199.6 136.5,209.4 120.5,220.8 99,210.8" fill="none" stroke="#e8262a" stroke-width="1.4" opacity="0.95"/>
<polyline points="99.3,214.6 120.5,224.6 136.3,213.4" fill="none" stroke="#e8262a" stroke-width="1.4"/>
<polygon points="100,212.4 120.5,222.2 135.6,211.2 135.6,212 120.5,223.4 100,213.4" fill="#ffffff"/>
<line x1="103" y1="207.8" x2="127" y2="216.2" stroke="#e8262a" stroke-width="1.2"/>
<line x1="108" y1="216.6" x2="126.5" y2="204.6" stroke="#e8262a" stroke-width="1.2"/>
<line x1="105" y1="209.6" x2="124" y2="216.4" stroke="#38e038" stroke-width="1.2"/>
<polyline points="100,216.6 120.5,226.4" fill="none" stroke="#38e038" stroke-width="1.2"/>
<polygon points="111.5,233 114,234.5 114,238 111.5,235.5" fill="#e8262a" opacity="0.8"/>
<polygon points="128.5,228.5 131.5,226 131.5,230 128.5,232.5" fill="#e8262a" opacity="0.8"/>
</g>
<ellipse cx="152.0" cy="194.2" rx="16" ry="19.6" fill="#a6daf0" transform="rotate(-10 152 194.2)" opacity="0.85"/>
<polygon points="153,178 159.5,184.5 165.8,194.3 160,197 154.5,191.5" fill="#2f72ac" opacity="0.9"/>
<polygon points="125.6,210.2 130,216 166,188.5 162.6,183.2" fill="#ee2a30"/>
<g id="ccd2">
<polygon points="165.1,166.7 188.9,150 198.4,150.6 206.4,158.6 207.8,168.8 193.2,182 183.8,187.7 171.6,185.6 165.6,177.5" fill="#7a0a10" stroke="#7a0a10" stroke-width="1" stroke-linejoin="round"/>
<polygon points="165.3,166.5 188.9,150.2 197,151 174.5,161.6" fill="#5c0a0e"/>
<polygon points="174.5,161.6 197,151 198.4,150.8 186,163.8" fill="#b8121a"/>
<polygon points="174.5,161.6 189,150.6 198.2,150.8 186,163.8" fill="#b4121a"/>
<polygon points="186,163.8 198.2,150.8 206.2,158.7 192.5,171" fill="#cc1822"/>
<polygon points="192.5,171 206.2,158.7 207.6,168.8 193.2,181.8" fill="#9a0c14"/>
<line x1="192.6" y1="171" x2="206" y2="159" stroke="#f07070" stroke-width="0.9"/>
<polygon points="165.1,166.9 174.5,161.8 186,164 192.4,171.2 193,181.8 183.8,187.4 171.7,185.3 165.8,177.4" fill="#2c2c2e"/>
<polygon points="162.6,183.2 166,188.5 178.6,178.6 175,173.4" fill="#ee2a30"/>
<line x1="127.8" y1="213.1" x2="176" y2="176.4" stroke="#ffa4a4" stroke-width="1.6"/>
<circle cx="176.8" cy="175.6" r="3.2" fill="#e8242a"/><circle cx="176.6" cy="175.8" r="1.6" fill="#ff7a7a"/>
</g>
<g id="ccd1">
<polygon points="13.7,279.5 19.5,274.3 41.8,260.6 50.6,262 58.6,271.4 60,281 38.9,297.8 34.6,301.2 18.7,294.9 14.2,289" fill="#2a2a2a" stroke="#2a2a2a" stroke-width="1" stroke-linejoin="round"/>
<polygon points="19.8,274.4 41,261.6 48.5,263 32.5,277.6" fill="#c4161f"/>
<polygon points="32.5,277.6 48.5,263 56,271.6 38.4,286.4" fill="#d41c26"/>
<polygon points="38.4,286.4 56,271.6 57.4,280.6 39,297" fill="#a40e16"/>
<line x1="33" y1="278" x2="49" y2="263.6" stroke="#ee5a5a" stroke-width="0.8"/><line x1="38.6" y1="286.6" x2="56.2" y2="272" stroke="#e84a4a" stroke-width="0.8"/>
<polygon points="14,279.8 19.6,274.8 32.3,278 38.2,286.7 38.8,297.5 34.6,300.8 18.9,294.7 14.5,288.9" fill="#323234"/>
<polygon points="20.4,279 30.8,282 30.8,285.4 20.4,282.4" fill="#b4b4b8"/>
<circle cx="25.9" cy="289.8" r="4" fill="#55557a"/><circle cx="25.9" cy="289.8" r="2.7" fill="#9a9ac4"/><circle cx="25.3" cy="289.2" r="1.2" fill="#d4d4ee"/>
</g>
<line x1="37.5" y1="310" x2="69" y2="356" stroke="#3a9fe6" stroke-width="2" stroke-dasharray="8 6"/>
<polygon points="76.5,365 60.5,356 66.5,353.5 71,347" fill="#3a9fe6"/>
<path d="M578,340 C552,361 472,398 390,396 C365,394.5 345,391 326,387.5" fill="none" stroke="#3a9fe6" stroke-width="2" stroke-dasharray="9 7"/>
<polygon points="310,385 325.5,380 323.5,386.5 327,393.5" fill="#3a9fe6"/>
<g id="imgc"><clipPath id="cc"><rect x="85" y="325.4" width="90.2" height="89.4"/></clipPath>
<rect x="85" y="325.4" width="90.2" height="89.4" fill="#060000"/>
<g clip-path="url(#cc)">
<circle cx="130" cy="370" r="22" fill="#8a0800" filter="url(#b5)"/>
<circle cx="130" cy="370" r="18.5" fill="#e82000" filter="url(#b3)"/>
<circle cx="129.5" cy="370.5" r="15.5" fill="#ff5a04" filter="url(#b2)"/>
<path d="M116.5,366 Q116,355.5 124.5,356.5 Q130,365 136.5,356.5 Q144,356 143.5,367 Q143.5,384 130,385.5 Q116.5,384 116.5,366Z" fill="#ffd028" filter="url(#b2)"/>
<path d="M119,368 Q119,359.5 124.5,360 Q130,369 135.5,362 Q140.5,363 139.5,372 Q137,382 129.5,382.5 Q119.5,381 119,368Z" fill="#ffff7a" filter="url(#b1)"/>
<ellipse cx="131" cy="357.5" rx="3.2" ry="3.4" fill="#c82400" filter="url(#b2)" opacity="0.85"/>
</g></g>
<g id="imgb"><clipPath id="cb"><rect x="213.3" y="325.2" width="90" height="88.9"/></clipPath>
<rect x="213.3" y="325.2" width="90" height="88.9" fill="#060000"/>
<g clip-path="url(#cb)">
<path d="M271.7,378.9 A15.5,15.5 0 1 1 271.7,361.1" fill="none" stroke="#8a0800" stroke-width="17" filter="url(#b3)"/>
<path d="M270.0,381.0 A15.5,15.5 0 1 1 270.0,359.0" fill="none" stroke="#e82400" stroke-width="12" filter="url(#b2)"/>
<path d="M267.2,383.1 A15.5,15.5 0 1 1 267.2,356.9" fill="none" stroke="#ff6a08" stroke-width="9" filter="url(#b1)"/>
<path d="M263.2,384.6 A15.2,15.2 0 1 1 261.6,355.0" fill="none" stroke="#ffd030" stroke-width="7.2" filter="url(#b1)"/>
<path d="M259.5,385.2 A15.2,15.2 0 0 1 253.8,355.7" fill="none" stroke="#ffff80" stroke-width="4.2" filter="url(#b1)"/>
<circle cx="270.2" cy="354.5" r="4.2" fill="#060000" filter="url(#b1)"/>
<circle cx="263.8" cy="360.8" r="3.4" fill="#060000" filter="url(#b1)"/>
<circle cx="270.5" cy="362.8" r="3.2" fill="#060000" filter="url(#b1)"/>
<circle cx="259" cy="370" r="5.6" fill="#060000" filter="url(#b1)"/>
<circle cx="267.5" cy="370" r="4.2" fill="#060000" filter="url(#b1)"/>
<circle cx="263.8" cy="379.4" r="3.4" fill="#060000" filter="url(#b1)"/>
<circle cx="270.5" cy="378" r="3.2" fill="#060000" filter="url(#b1)"/>
<circle cx="270.2" cy="386.3" r="4.2" fill="#060000" filter="url(#b1)"/>
<circle cx="277.5" cy="350.5" r="2.6" fill="#060000" filter="url(#b1)"/>
<circle cx="277.5" cy="390" r="2.6" fill="#060000" filter="url(#b1)"/>
<circle cx="274" cy="370" r="6" fill="#060000" filter="url(#b1)"/>
<circle cx="266.3" cy="371" r="1.7" fill="#c81c00" filter="url(#b1)"/>
<circle cx="275" cy="356" r="1.6" fill="#a01000" filter="url(#b1)"/>
</g></g>
<text x="213.2" y="85.4" font-size="19.3" fill="#000" >Laser</text>
<text x="336.6" y="187.6" font-size="19.8" fill="#000" >BE</text>
<text x="462.4" y="106.6" font-size="20" fill="#000" >RGGD</text>
<text x="547.5" y="162.7" font-size="19" fill="#000" >GAF</text>
<text x="408.2" y="198.6" font-size="19.8" fill="#000" >L<tspan dy="4" font-size="16.3">1</tspan></text>
<text x="506.3" y="217.5" font-size="19.8" fill="#000" >L<tspan dy="4" font-size="16.3">2</tspan></text>
<text x="548.2" y="235" font-size="19.6" fill="#000" >HWP</text>
<text x="614.6" y="245.6" font-size="19.8" fill="#000" >LP</text>
<text x="684.8" y="175.5" font-size="19.8" fill="#000" >SLM<tspan dy="4" font-size="16.3">1</tspan></text>
<text x="765" y="196.5" font-size="19.8" fill="#000" >M<tspan dy="4" font-size="16.3">1</tspan></text>
<text x="766.3" y="281.4" font-size="19.8" fill="#000" >L<tspan dy="6.8" font-size="16.3">3</tspan></text>
<text x="724" y="326.5" font-size="19.8" fill="#000" >A</text>
<text x="678.4" y="369.4" font-size="19.8" fill="#000" >L<tspan dy="7" font-size="16.3">4</tspan></text>
<text x="635.2" y="393.8" font-size="19.8" fill="#000" >M<tspan dy="4" font-size="16.3">2</tspan></text>
<text x="194.8" y="267.3" font-size="19.8" fill="#000" >L<tspan dy="6.2" font-size="16.3">5</tspan></text>
<text x="107.2" y="263" font-size="19.8" fill="#000" >BS</text>
<text x="58.4" y="305.7" font-size="19.8" fill="#000" >CCD<tspan dy="4" font-size="16.3">1</tspan></text>
<text x="195" y="197" font-size="19.8" fill="#000" >CCD<tspan dy="4" font-size="16.3">2</tspan></text>
<text x="114.6" y="172.5" font-size="19.8" fill="#000" >L<tspan dy="4" font-size="16.3">6</tspan></text>
<text x="15" y="158.8" font-size="20.4" fill="#000" >SLM<tspan dy="4" font-size="16.3">2</tspan></text>
<text x="85.3" y="347" font-size="19.8" fill="#fff" >(c)</text>
<text x="213.8" y="347" font-size="19.8" fill="#fff" >(b)</text>
<text x="0" y="0" font-size="19.8" transform="translate(318.3,339.6) rotate(12.4)">Turbulence</text>
<text x="0" y="0" font-size="14.6" transform="translate(667.6,306.4) rotate(-39)">+1st</text>
<text x="0" y="0" font-size="19.5" text-anchor="middle" transform="translate(750.6,303.5) rotate(-35) translate(0,6.8)">f</text>
<text x="0" y="0" font-size="19.5" text-anchor="middle" transform="translate(710,339.6) rotate(-35) translate(0,6.8)">f</text>
</svg></body></html>
